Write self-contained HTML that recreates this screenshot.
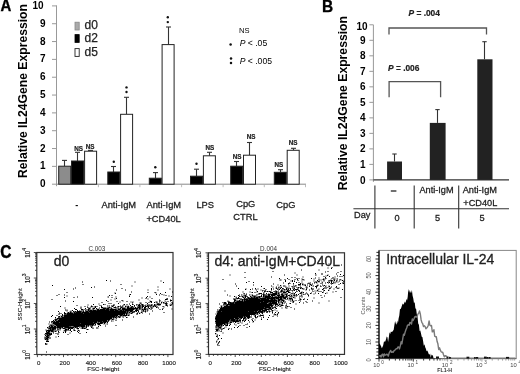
<!DOCTYPE html>
<html><head><meta charset="utf-8"><style>
html,body{margin:0;padding:0;background:#fff;width:520px;height:374px;overflow:hidden}
svg{display:block;will-change:transform}
text{font-family:'Liberation Sans',sans-serif}
.h{fill:#222;stroke:#222;stroke-width:0.28px}
</style></head><body>
<svg width="520" height="374" viewBox="0 0 520 374">
<rect width="520" height="374" fill="#fff"/>

<text transform="translate(0.4,10.8) scale(1,1.1)" font-size="15" font-weight="bold" stroke="#000" stroke-width="0.3">A</text>
<text transform="translate(26.6,178) rotate(-90)" font-size="13" font-weight="bold" textLength="174" lengthAdjust="spacingAndGlyphs">Relative IL24Gene Expression</text>
<line x1="56.5" y1="5.400000000000006" x2="56.5" y2="186.2" stroke="#999" stroke-width="1"/>
<line x1="52.0" y1="184.20" x2="56.5" y2="184.20" stroke="#999" stroke-width="1"/>
<text x="45.6" y="187.30" font-size="10" font-weight="bold" text-anchor="end">0</text>
<line x1="52.0" y1="166.37" x2="56.5" y2="166.37" stroke="#999" stroke-width="1"/>
<text x="45.6" y="169.47" font-size="10" font-weight="bold" text-anchor="end">1</text>
<line x1="52.0" y1="148.54" x2="56.5" y2="148.54" stroke="#999" stroke-width="1"/>
<text x="45.6" y="151.64" font-size="10" font-weight="bold" text-anchor="end">2</text>
<line x1="52.0" y1="130.71" x2="56.5" y2="130.71" stroke="#999" stroke-width="1"/>
<text x="45.6" y="133.81" font-size="10" font-weight="bold" text-anchor="end">3</text>
<line x1="52.0" y1="112.88" x2="56.5" y2="112.88" stroke="#999" stroke-width="1"/>
<text x="45.6" y="115.98" font-size="10" font-weight="bold" text-anchor="end">4</text>
<line x1="52.0" y1="95.05" x2="56.5" y2="95.05" stroke="#999" stroke-width="1"/>
<text x="45.6" y="98.15" font-size="10" font-weight="bold" text-anchor="end">5</text>
<line x1="52.0" y1="77.22" x2="56.5" y2="77.22" stroke="#999" stroke-width="1"/>
<text x="45.6" y="80.32" font-size="10" font-weight="bold" text-anchor="end">6</text>
<line x1="52.0" y1="59.39" x2="56.5" y2="59.39" stroke="#999" stroke-width="1"/>
<text x="45.6" y="62.49" font-size="10" font-weight="bold" text-anchor="end">7</text>
<line x1="52.0" y1="41.56" x2="56.5" y2="41.56" stroke="#999" stroke-width="1"/>
<text x="45.6" y="44.66" font-size="10" font-weight="bold" text-anchor="end">8</text>
<line x1="52.0" y1="23.73" x2="56.5" y2="23.73" stroke="#999" stroke-width="1"/>
<text x="45.6" y="26.83" font-size="10" font-weight="bold" text-anchor="end">9</text>
<line x1="52.0" y1="5.90" x2="56.5" y2="5.90" stroke="#999" stroke-width="1"/>
<text x="43.6" y="9.00" font-size="10" font-weight="bold" text-anchor="end">10</text>
<line x1="56.5" y1="184.2" x2="306" y2="184.2" stroke="#888" stroke-width="1"/>
<line x1="98.4" y1="184.2" x2="98.4" y2="187.2" stroke="#aaa" stroke-width="0.8"/>
<line x1="139.9" y1="184.2" x2="139.9" y2="187.2" stroke="#aaa" stroke-width="0.8"/>
<line x1="181.6" y1="184.2" x2="181.6" y2="187.2" stroke="#aaa" stroke-width="0.8"/>
<line x1="223.1" y1="184.2" x2="223.1" y2="187.2" stroke="#aaa" stroke-width="0.8"/>
<line x1="264.3" y1="184.2" x2="264.3" y2="187.2" stroke="#aaa" stroke-width="0.8"/>
<line x1="305.5" y1="184.2" x2="305.5" y2="187.2" stroke="#aaa" stroke-width="0.8"/>
<line x1="64.50" y1="160.4" x2="64.50" y2="166.2" stroke="#333" stroke-width="1.1"/>
<line x1="62.00" y1="160.4" x2="67.00" y2="160.4" stroke="#333" stroke-width="1.1"/>
<rect x="58.70" y="166.20" width="12" height="18.00" fill="#8c8c8c" stroke="#222" stroke-width="1"/>
<line x1="77.50" y1="152.3" x2="77.50" y2="161.0" stroke="#333" stroke-width="1.1"/>
<line x1="75.00" y1="152.3" x2="80.00" y2="152.3" stroke="#333" stroke-width="1.1"/>
<rect x="71.50" y="161.00" width="12" height="23.20" fill="#000" stroke="#222" stroke-width="1"/>
<line x1="90.50" y1="150.4" x2="90.50" y2="151.2" stroke="#333" stroke-width="1.1"/>
<line x1="88.00" y1="150.4" x2="93.00" y2="150.4" stroke="#333" stroke-width="1.1"/>
<rect x="84.60" y="151.20" width="12" height="33.00" fill="#fff" stroke="#222" stroke-width="1"/>
<line x1="113.50" y1="166.5" x2="113.50" y2="172.0" stroke="#333" stroke-width="1.1"/>
<line x1="111.00" y1="166.5" x2="116.00" y2="166.5" stroke="#333" stroke-width="1.1"/>
<rect x="107.80" y="172.00" width="12" height="12.20" fill="#000" stroke="#222" stroke-width="1"/>
<line x1="126.50" y1="97.3" x2="126.50" y2="114.3" stroke="#333" stroke-width="1.1"/>
<line x1="124.00" y1="97.3" x2="129.00" y2="97.3" stroke="#333" stroke-width="1.1"/>
<rect x="120.60" y="114.30" width="12" height="69.90" fill="#fff" stroke="#222" stroke-width="1"/>
<line x1="155.50" y1="172.6" x2="155.50" y2="178.2" stroke="#333" stroke-width="1.1"/>
<line x1="153.00" y1="172.6" x2="158.00" y2="172.6" stroke="#333" stroke-width="1.1"/>
<rect x="149.30" y="178.20" width="12" height="6.00" fill="#000" stroke="#222" stroke-width="1"/>
<line x1="168.50" y1="27.0" x2="168.50" y2="44.6" stroke="#333" stroke-width="1.1"/>
<line x1="166.00" y1="27.0" x2="171.00" y2="27.0" stroke="#333" stroke-width="1.1"/>
<rect x="162.10" y="44.60" width="12" height="139.60" fill="#fff" stroke="#222" stroke-width="1"/>
<line x1="196.50" y1="169.2" x2="196.50" y2="176.2" stroke="#333" stroke-width="1.1"/>
<line x1="194.00" y1="169.2" x2="199.00" y2="169.2" stroke="#333" stroke-width="1.1"/>
<rect x="190.50" y="176.20" width="12" height="8.00" fill="#000" stroke="#222" stroke-width="1"/>
<line x1="209.50" y1="152.3" x2="209.50" y2="155.8" stroke="#333" stroke-width="1.1"/>
<line x1="207.00" y1="152.3" x2="212.00" y2="152.3" stroke="#333" stroke-width="1.1"/>
<rect x="203.40" y="155.80" width="12" height="28.40" fill="#fff" stroke="#222" stroke-width="1"/>
<line x1="236.50" y1="161.5" x2="236.50" y2="166.2" stroke="#333" stroke-width="1.1"/>
<line x1="234.00" y1="161.5" x2="239.00" y2="161.5" stroke="#333" stroke-width="1.1"/>
<rect x="230.70" y="166.20" width="12" height="18.00" fill="#000" stroke="#222" stroke-width="1"/>
<line x1="249.50" y1="142.5" x2="249.50" y2="155.2" stroke="#333" stroke-width="1.1"/>
<line x1="247.00" y1="142.5" x2="252.00" y2="142.5" stroke="#333" stroke-width="1.1"/>
<rect x="243.50" y="155.20" width="12" height="29.00" fill="#fff" stroke="#222" stroke-width="1"/>
<line x1="280.50" y1="169.7" x2="280.50" y2="172.3" stroke="#333" stroke-width="1.1"/>
<line x1="278.00" y1="169.7" x2="283.00" y2="169.7" stroke="#333" stroke-width="1.1"/>
<rect x="274.30" y="172.30" width="12" height="11.90" fill="#000" stroke="#222" stroke-width="1"/>
<line x1="293.50" y1="148.3" x2="293.50" y2="150.3" stroke="#333" stroke-width="1.1"/>
<line x1="291.00" y1="148.3" x2="296.00" y2="148.3" stroke="#333" stroke-width="1.1"/>
<rect x="287.20" y="150.30" width="12" height="33.90" fill="#fff" stroke="#222" stroke-width="1"/>
<text class="h" style="stroke-width:0.2px" x="78.65" y="150.50" font-size="6.3" font-weight="bold" text-anchor="middle">NS</text>
<text class="h" style="stroke-width:0.2px" x="90.15" y="148.80" font-size="6.3" font-weight="bold" text-anchor="middle">NS</text>
<circle cx="113.8" cy="161.8" r="1.2" fill="#111"/>
<circle cx="126.5" cy="87.4" r="1.2" fill="#111"/>
<circle cx="126.5" cy="92.0" r="1.2" fill="#111"/>
<circle cx="155.3" cy="167.2" r="1.2" fill="#111"/>
<circle cx="167.8" cy="17.3" r="1.2" fill="#111"/>
<circle cx="167.8" cy="22.1" r="1.2" fill="#111"/>
<circle cx="196.5" cy="163.8" r="1.2" fill="#111"/>
<text class="h" style="stroke-width:0.2px" x="209.75" y="149.50" font-size="6.3" font-weight="bold" text-anchor="middle">NS</text>
<text class="h" style="stroke-width:0.2px" x="237.00" y="158.80" font-size="6.3" font-weight="bold" text-anchor="middle">NS</text>
<text class="h" style="stroke-width:0.2px" x="251.15" y="139.00" font-size="6.3" font-weight="bold" text-anchor="middle">NS</text>
<text class="h" style="stroke-width:0.2px" x="278.90" y="166.50" font-size="6.3" font-weight="bold" text-anchor="middle">NS</text>
<text class="h" style="stroke-width:0.2px" x="293.20" y="145.30" font-size="6.3" font-weight="bold" text-anchor="middle">NS</text>
<rect x="75" y="22.2" width="4.2" height="7.8" fill="#aaa" stroke="#888" stroke-width="0.8"/>
<rect x="75" y="34.6" width="4.2" height="7.8" fill="#000" stroke="#000" stroke-width="0.8"/>
<rect x="75" y="48.6" width="4.2" height="7.8" fill="#fff" stroke="#222" stroke-width="0.9"/>
<text class="h" style="stroke-width:0.25px" x="84.5" y="28.5" font-size="12">d0</text>
<text class="h" style="stroke-width:0.25px" x="84.5" y="41.5" font-size="12">d2</text>
<text class="h" style="stroke-width:0.25px" x="84.5" y="55.7" font-size="12">d5</text>
<text x="239" y="33" font-size="7.6">NS</text>
<circle cx="230.6" cy="44.5" r="1.25" fill="#111"/>
<text x="239.7" y="46.3" font-size="8.6"><tspan font-style="italic">P</tspan> &lt; .05</text>
<circle cx="231" cy="58.5" r="1.25" fill="#111"/>
<circle cx="231" cy="63" r="1.25" fill="#111"/>
<text x="239.7" y="63.8" font-size="8.6"><tspan font-style="italic">P</tspan> &lt; .005</text>
<text x="76.8" y="208.4" font-size="9" text-anchor="middle" font-weight="bold">-</text>
<text class="h" x="118.8" y="207.8" font-size="9.3" text-anchor="middle">Anti-IgM</text>
<text class="h" x="163.8" y="208.2" font-size="9.3" text-anchor="middle">Anti-IgM</text>
<text class="h" x="163.6" y="222" font-size="9.3" text-anchor="middle">+CD40L</text>
<text class="h" x="205.2" y="208.2" font-size="9.3" text-anchor="middle">LPS</text>
<text class="h" x="245.8" y="207" font-size="9.3" text-anchor="middle">CpG</text>
<text class="h" x="245.5" y="220.3" font-size="9.3" text-anchor="middle">CTRL</text>
<text class="h" x="285.9" y="208.2" font-size="9.3" text-anchor="middle">CpG</text>
<text transform="translate(321.9,11.9) scale(1,1.12)" font-size="15.5" font-weight="bold" stroke="#000" stroke-width="0.3">B</text>
<text transform="translate(346.5,190.2) rotate(-90)" font-size="13" font-weight="bold" textLength="174.2" lengthAdjust="spacingAndGlyphs">Relative IL24Gene Expression</text>
<line x1="373.4" y1="24.80000000000001" x2="373.4" y2="181.9" stroke="#999" stroke-width="1"/>
<line x1="369.4" y1="179.90" x2="373.4" y2="179.90" stroke="#999" stroke-width="1"/>
<text x="365.6" y="183.50" font-size="10" font-weight="bold" text-anchor="end">0</text>
<line x1="369.4" y1="164.39" x2="373.4" y2="164.39" stroke="#999" stroke-width="1"/>
<text x="365.6" y="167.99" font-size="10" font-weight="bold" text-anchor="end">1</text>
<line x1="369.4" y1="148.88" x2="373.4" y2="148.88" stroke="#999" stroke-width="1"/>
<text x="365.6" y="152.48" font-size="10" font-weight="bold" text-anchor="end">2</text>
<line x1="369.4" y1="133.37" x2="373.4" y2="133.37" stroke="#999" stroke-width="1"/>
<text x="365.6" y="136.97" font-size="10" font-weight="bold" text-anchor="end">3</text>
<line x1="369.4" y1="117.86" x2="373.4" y2="117.86" stroke="#999" stroke-width="1"/>
<text x="365.6" y="121.46" font-size="10" font-weight="bold" text-anchor="end">4</text>
<line x1="369.4" y1="102.35" x2="373.4" y2="102.35" stroke="#999" stroke-width="1"/>
<text x="365.6" y="105.95" font-size="10" font-weight="bold" text-anchor="end">5</text>
<line x1="369.4" y1="86.84" x2="373.4" y2="86.84" stroke="#999" stroke-width="1"/>
<text x="365.6" y="90.44" font-size="10" font-weight="bold" text-anchor="end">6</text>
<line x1="369.4" y1="71.33" x2="373.4" y2="71.33" stroke="#999" stroke-width="1"/>
<text x="365.6" y="74.93" font-size="10" font-weight="bold" text-anchor="end">7</text>
<line x1="369.4" y1="55.82" x2="373.4" y2="55.82" stroke="#999" stroke-width="1"/>
<text x="365.6" y="59.42" font-size="10" font-weight="bold" text-anchor="end">8</text>
<line x1="369.4" y1="40.31" x2="373.4" y2="40.31" stroke="#999" stroke-width="1"/>
<text x="365.6" y="43.91" font-size="10" font-weight="bold" text-anchor="end">9</text>
<line x1="369.4" y1="24.80" x2="373.4" y2="24.80" stroke="#999" stroke-width="1"/>
<text x="367.6" y="30.20" font-size="10" font-weight="bold" text-anchor="end">10</text>
<line x1="373.4" y1="179.9" x2="509" y2="179.9" stroke="#333" stroke-width="1.1"/>
<line x1="394.50" y1="154" x2="394.50" y2="161.5" stroke="#333" stroke-width="1.1"/>
<line x1="392.30" y1="154" x2="396.70" y2="154" stroke="#333" stroke-width="1.1"/>
<rect x="387.1" y="161.5" width="14.90" height="18.40" fill="#222"/>
<line x1="437.50" y1="109.6" x2="437.50" y2="122.9" stroke="#333" stroke-width="1.1"/>
<line x1="435.30" y1="109.6" x2="439.70" y2="109.6" stroke="#333" stroke-width="1.1"/>
<rect x="429.8" y="122.9" width="15.80" height="57.00" fill="#222"/>
<line x1="484.50" y1="41.7" x2="484.50" y2="59.3" stroke="#333" stroke-width="1.1"/>
<line x1="482.30" y1="41.7" x2="486.70" y2="41.7" stroke="#333" stroke-width="1.1"/>
<rect x="477.3" y="59.3" width="15.20" height="120.60" fill="#222"/>
<path d="M389,34.5 V28 H486.5 V34.5" fill="none" stroke="#555" stroke-width="1.3"/>
<path d="M389.1,97.3 V81.7 H440.6 V97.3" fill="none" stroke="#555" stroke-width="1.3"/>
<text class="h" style="stroke-width:0.2px" x="408.5" y="16" font-size="8.4" font-weight="bold"><tspan font-style="italic">P</tspan> = .004</text>
<text class="h" style="stroke-width:0.2px" x="388" y="70.5" font-size="8.4" font-weight="bold"><tspan font-style="italic">P</tspan> = .006</text>
<line x1="374.9" y1="185.5" x2="374.9" y2="228.6" stroke="#333" stroke-width="1.1"/>
<line x1="414.2" y1="185.5" x2="414.2" y2="228.6" stroke="#333" stroke-width="1.1"/>
<line x1="458.7" y1="185.5" x2="458.7" y2="228.6" stroke="#333" stroke-width="1.1"/>
<line x1="353.4" y1="208.7" x2="509" y2="208.7" stroke="#333" stroke-width="1.1"/>
<line x1="390.8" y1="191" x2="396.4" y2="191" stroke="#333" stroke-width="1.4"/>
<text class="h" x="354" y="218.3" font-size="9.2">Day</text>
<text class="h" x="397.1" y="220.9" font-size="9.2" text-anchor="middle">0</text>
<text class="h" x="437.5" y="221.3" font-size="9.2" text-anchor="middle">5</text>
<text class="h" x="482.1" y="221.3" font-size="9.2" text-anchor="middle">5</text>
<text class="h" x="436.5" y="193.3" font-size="9.2" text-anchor="middle">Anti-IgM</text>
<text class="h" x="479.8" y="193.3" font-size="9.2" text-anchor="middle">Anti-IgM</text>
<text class="h" x="480.3" y="206" font-size="9.2" text-anchor="middle">+CD40L</text>
<text transform="translate(0.2,258) scale(1,1.2)" font-size="15.5" font-weight="bold" stroke="#000" stroke-width="0.4">C</text>
<rect x="36.8" y="252.5" width="136.2" height="102.0" fill="none" stroke="#333" stroke-width="1.2"/>
<text x="96.9" y="250.8" font-size="6.3" text-anchor="middle" fill="#333">C.003</text>
<text class="h" style="stroke-width:0.3px" x="53.8" y="266" font-size="14">d0</text>
<line x1="33.80" y1="354.50" x2="36.8" y2="354.50" stroke="#222" stroke-width="0.8"/>
<line x1="35.00" y1="346.82" x2="36.8" y2="346.82" stroke="#222" stroke-width="0.8"/>
<line x1="35.00" y1="342.33" x2="36.8" y2="342.33" stroke="#222" stroke-width="0.8"/>
<line x1="35.00" y1="339.15" x2="36.8" y2="339.15" stroke="#222" stroke-width="0.8"/>
<line x1="35.00" y1="336.68" x2="36.8" y2="336.68" stroke="#222" stroke-width="0.8"/>
<line x1="35.00" y1="334.66" x2="36.8" y2="334.66" stroke="#222" stroke-width="0.8"/>
<line x1="35.00" y1="332.95" x2="36.8" y2="332.95" stroke="#222" stroke-width="0.8"/>
<line x1="35.00" y1="331.47" x2="36.8" y2="331.47" stroke="#222" stroke-width="0.8"/>
<line x1="35.00" y1="330.17" x2="36.8" y2="330.17" stroke="#222" stroke-width="0.8"/>
<line x1="33.80" y1="329.00" x2="36.8" y2="329.00" stroke="#222" stroke-width="0.8"/>
<line x1="35.00" y1="321.32" x2="36.8" y2="321.32" stroke="#222" stroke-width="0.8"/>
<line x1="35.00" y1="316.83" x2="36.8" y2="316.83" stroke="#222" stroke-width="0.8"/>
<line x1="35.00" y1="313.65" x2="36.8" y2="313.65" stroke="#222" stroke-width="0.8"/>
<line x1="35.00" y1="311.18" x2="36.8" y2="311.18" stroke="#222" stroke-width="0.8"/>
<line x1="35.00" y1="309.16" x2="36.8" y2="309.16" stroke="#222" stroke-width="0.8"/>
<line x1="35.00" y1="307.45" x2="36.8" y2="307.45" stroke="#222" stroke-width="0.8"/>
<line x1="35.00" y1="305.97" x2="36.8" y2="305.97" stroke="#222" stroke-width="0.8"/>
<line x1="35.00" y1="304.67" x2="36.8" y2="304.67" stroke="#222" stroke-width="0.8"/>
<line x1="33.80" y1="303.50" x2="36.8" y2="303.50" stroke="#222" stroke-width="0.8"/>
<line x1="35.00" y1="295.82" x2="36.8" y2="295.82" stroke="#222" stroke-width="0.8"/>
<line x1="35.00" y1="291.33" x2="36.8" y2="291.33" stroke="#222" stroke-width="0.8"/>
<line x1="35.00" y1="288.15" x2="36.8" y2="288.15" stroke="#222" stroke-width="0.8"/>
<line x1="35.00" y1="285.68" x2="36.8" y2="285.68" stroke="#222" stroke-width="0.8"/>
<line x1="35.00" y1="283.66" x2="36.8" y2="283.66" stroke="#222" stroke-width="0.8"/>
<line x1="35.00" y1="281.95" x2="36.8" y2="281.95" stroke="#222" stroke-width="0.8"/>
<line x1="35.00" y1="280.47" x2="36.8" y2="280.47" stroke="#222" stroke-width="0.8"/>
<line x1="35.00" y1="279.17" x2="36.8" y2="279.17" stroke="#222" stroke-width="0.8"/>
<line x1="33.80" y1="278.00" x2="36.8" y2="278.00" stroke="#222" stroke-width="0.8"/>
<line x1="35.00" y1="270.32" x2="36.8" y2="270.32" stroke="#222" stroke-width="0.8"/>
<line x1="35.00" y1="265.83" x2="36.8" y2="265.83" stroke="#222" stroke-width="0.8"/>
<line x1="35.00" y1="262.65" x2="36.8" y2="262.65" stroke="#222" stroke-width="0.8"/>
<line x1="35.00" y1="260.18" x2="36.8" y2="260.18" stroke="#222" stroke-width="0.8"/>
<line x1="35.00" y1="258.16" x2="36.8" y2="258.16" stroke="#222" stroke-width="0.8"/>
<line x1="35.00" y1="256.45" x2="36.8" y2="256.45" stroke="#222" stroke-width="0.8"/>
<line x1="35.00" y1="254.97" x2="36.8" y2="254.97" stroke="#222" stroke-width="0.8"/>
<line x1="35.00" y1="253.67" x2="36.8" y2="253.67" stroke="#222" stroke-width="0.8"/>
<line x1="33.8" y1="252.5" x2="36.8" y2="252.5" stroke="#222" stroke-width="0.8"/>
<text class="h" style="stroke-width:0.15px" transform="translate(29.6,359.7) rotate(-90)" font-size="6.3" fill="#222">10<tspan dy="-3.3" font-size="5">0</tspan></text>
<text class="h" style="stroke-width:0.15px" transform="translate(29.6,334.2) rotate(-90)" font-size="6.3" fill="#222">10<tspan dy="-3.3" font-size="5">1</tspan></text>
<text class="h" style="stroke-width:0.15px" transform="translate(29.6,308.7) rotate(-90)" font-size="6.3" fill="#222">10<tspan dy="-3.3" font-size="5">2</tspan></text>
<text class="h" style="stroke-width:0.15px" transform="translate(29.6,283.2) rotate(-90)" font-size="6.3" fill="#222">10<tspan dy="-3.3" font-size="5">3</tspan></text>
<text class="h" style="stroke-width:0.15px" transform="translate(29.6,257.7) rotate(-90)" font-size="6.3" fill="#222">10<tspan dy="-3.3" font-size="5">4</tspan></text>
<text class="h" style="stroke-width:0.12px" transform="translate(22.2,320.5) rotate(-90)" font-size="6.1" fill="#222">SSC-Height</text>
<line x1="37.40" y1="354.5" x2="37.40" y2="357.1" stroke="#222" stroke-width="0.8"/>
<line x1="41.75" y1="354.5" x2="41.75" y2="356.0" stroke="#222" stroke-width="0.8"/>
<line x1="46.10" y1="354.5" x2="46.10" y2="356.0" stroke="#222" stroke-width="0.8"/>
<line x1="50.45" y1="354.5" x2="50.45" y2="356.0" stroke="#222" stroke-width="0.8"/>
<line x1="54.80" y1="354.5" x2="54.80" y2="356.0" stroke="#222" stroke-width="0.8"/>
<line x1="59.15" y1="354.5" x2="59.15" y2="356.0" stroke="#222" stroke-width="0.8"/>
<line x1="63.50" y1="354.5" x2="63.50" y2="357.1" stroke="#222" stroke-width="0.8"/>
<line x1="67.85" y1="354.5" x2="67.85" y2="356.0" stroke="#222" stroke-width="0.8"/>
<line x1="72.20" y1="354.5" x2="72.20" y2="356.0" stroke="#222" stroke-width="0.8"/>
<line x1="76.55" y1="354.5" x2="76.55" y2="356.0" stroke="#222" stroke-width="0.8"/>
<line x1="80.90" y1="354.5" x2="80.90" y2="356.0" stroke="#222" stroke-width="0.8"/>
<line x1="85.25" y1="354.5" x2="85.25" y2="356.0" stroke="#222" stroke-width="0.8"/>
<line x1="89.60" y1="354.5" x2="89.60" y2="357.1" stroke="#222" stroke-width="0.8"/>
<line x1="93.95" y1="354.5" x2="93.95" y2="356.0" stroke="#222" stroke-width="0.8"/>
<line x1="98.30" y1="354.5" x2="98.30" y2="356.0" stroke="#222" stroke-width="0.8"/>
<line x1="102.65" y1="354.5" x2="102.65" y2="356.0" stroke="#222" stroke-width="0.8"/>
<line x1="107.00" y1="354.5" x2="107.00" y2="356.0" stroke="#222" stroke-width="0.8"/>
<line x1="111.35" y1="354.5" x2="111.35" y2="356.0" stroke="#222" stroke-width="0.8"/>
<line x1="115.70" y1="354.5" x2="115.70" y2="357.1" stroke="#222" stroke-width="0.8"/>
<line x1="120.05" y1="354.5" x2="120.05" y2="356.0" stroke="#222" stroke-width="0.8"/>
<line x1="124.40" y1="354.5" x2="124.40" y2="356.0" stroke="#222" stroke-width="0.8"/>
<line x1="128.75" y1="354.5" x2="128.75" y2="356.0" stroke="#222" stroke-width="0.8"/>
<line x1="133.10" y1="354.5" x2="133.10" y2="356.0" stroke="#222" stroke-width="0.8"/>
<line x1="137.45" y1="354.5" x2="137.45" y2="356.0" stroke="#222" stroke-width="0.8"/>
<line x1="141.80" y1="354.5" x2="141.80" y2="357.1" stroke="#222" stroke-width="0.8"/>
<line x1="146.15" y1="354.5" x2="146.15" y2="356.0" stroke="#222" stroke-width="0.8"/>
<line x1="150.50" y1="354.5" x2="150.50" y2="356.0" stroke="#222" stroke-width="0.8"/>
<line x1="154.85" y1="354.5" x2="154.85" y2="356.0" stroke="#222" stroke-width="0.8"/>
<line x1="159.20" y1="354.5" x2="159.20" y2="356.0" stroke="#222" stroke-width="0.8"/>
<line x1="163.55" y1="354.5" x2="163.55" y2="356.0" stroke="#222" stroke-width="0.8"/>
<line x1="167.90" y1="354.5" x2="167.90" y2="357.1" stroke="#222" stroke-width="0.8"/>
<text class="h" style="stroke-width:0.15px" x="38.6" y="364.8" font-size="6.1" text-anchor="middle" fill="#222">0</text>
<text class="h" style="stroke-width:0.15px" x="64.7" y="364.8" font-size="6.1" text-anchor="middle" fill="#222">200</text>
<text class="h" style="stroke-width:0.15px" x="90.8" y="364.8" font-size="6.1" text-anchor="middle" fill="#222">400</text>
<text class="h" style="stroke-width:0.15px" x="116.9" y="364.8" font-size="6.1" text-anchor="middle" fill="#222">600</text>
<text class="h" style="stroke-width:0.15px" x="143.0" y="364.8" font-size="6.1" text-anchor="middle" fill="#222">800</text>
<text class="h" style="stroke-width:0.15px" x="169.1" y="364.8" font-size="6.1" text-anchor="middle" fill="#222">1000</text>
<text class="h" style="stroke-width:0.15px" x="103.2" y="370.7" font-size="6.1" text-anchor="middle" fill="#222">FSC-Height</text>
<rect x="208.5" y="252.8" width="136.0" height="101.59999999999997" fill="none" stroke="#333" stroke-width="1.2"/>
<text x="268.5" y="250.8" font-size="6.3" text-anchor="middle" fill="#333">D.004</text>
<text class="h" style="stroke-width:0.3px" x="214.4" y="266" font-size="14">d4: anti-IgM+CD40L</text>
<line x1="205.50" y1="354.40" x2="208.5" y2="354.40" stroke="#222" stroke-width="0.8"/>
<line x1="206.70" y1="346.75" x2="208.5" y2="346.75" stroke="#222" stroke-width="0.8"/>
<line x1="206.70" y1="342.28" x2="208.5" y2="342.28" stroke="#222" stroke-width="0.8"/>
<line x1="206.70" y1="339.11" x2="208.5" y2="339.11" stroke="#222" stroke-width="0.8"/>
<line x1="206.70" y1="336.65" x2="208.5" y2="336.65" stroke="#222" stroke-width="0.8"/>
<line x1="206.70" y1="334.63" x2="208.5" y2="334.63" stroke="#222" stroke-width="0.8"/>
<line x1="206.70" y1="332.93" x2="208.5" y2="332.93" stroke="#222" stroke-width="0.8"/>
<line x1="206.70" y1="331.46" x2="208.5" y2="331.46" stroke="#222" stroke-width="0.8"/>
<line x1="206.70" y1="330.16" x2="208.5" y2="330.16" stroke="#222" stroke-width="0.8"/>
<line x1="205.50" y1="329.00" x2="208.5" y2="329.00" stroke="#222" stroke-width="0.8"/>
<line x1="206.70" y1="321.35" x2="208.5" y2="321.35" stroke="#222" stroke-width="0.8"/>
<line x1="206.70" y1="316.88" x2="208.5" y2="316.88" stroke="#222" stroke-width="0.8"/>
<line x1="206.70" y1="313.71" x2="208.5" y2="313.71" stroke="#222" stroke-width="0.8"/>
<line x1="206.70" y1="311.25" x2="208.5" y2="311.25" stroke="#222" stroke-width="0.8"/>
<line x1="206.70" y1="309.23" x2="208.5" y2="309.23" stroke="#222" stroke-width="0.8"/>
<line x1="206.70" y1="307.53" x2="208.5" y2="307.53" stroke="#222" stroke-width="0.8"/>
<line x1="206.70" y1="306.06" x2="208.5" y2="306.06" stroke="#222" stroke-width="0.8"/>
<line x1="206.70" y1="304.76" x2="208.5" y2="304.76" stroke="#222" stroke-width="0.8"/>
<line x1="205.50" y1="303.60" x2="208.5" y2="303.60" stroke="#222" stroke-width="0.8"/>
<line x1="206.70" y1="295.95" x2="208.5" y2="295.95" stroke="#222" stroke-width="0.8"/>
<line x1="206.70" y1="291.48" x2="208.5" y2="291.48" stroke="#222" stroke-width="0.8"/>
<line x1="206.70" y1="288.31" x2="208.5" y2="288.31" stroke="#222" stroke-width="0.8"/>
<line x1="206.70" y1="285.85" x2="208.5" y2="285.85" stroke="#222" stroke-width="0.8"/>
<line x1="206.70" y1="283.83" x2="208.5" y2="283.83" stroke="#222" stroke-width="0.8"/>
<line x1="206.70" y1="282.13" x2="208.5" y2="282.13" stroke="#222" stroke-width="0.8"/>
<line x1="206.70" y1="280.66" x2="208.5" y2="280.66" stroke="#222" stroke-width="0.8"/>
<line x1="206.70" y1="279.36" x2="208.5" y2="279.36" stroke="#222" stroke-width="0.8"/>
<line x1="205.50" y1="278.20" x2="208.5" y2="278.20" stroke="#222" stroke-width="0.8"/>
<line x1="206.70" y1="270.55" x2="208.5" y2="270.55" stroke="#222" stroke-width="0.8"/>
<line x1="206.70" y1="266.08" x2="208.5" y2="266.08" stroke="#222" stroke-width="0.8"/>
<line x1="206.70" y1="262.91" x2="208.5" y2="262.91" stroke="#222" stroke-width="0.8"/>
<line x1="206.70" y1="260.45" x2="208.5" y2="260.45" stroke="#222" stroke-width="0.8"/>
<line x1="206.70" y1="258.43" x2="208.5" y2="258.43" stroke="#222" stroke-width="0.8"/>
<line x1="206.70" y1="256.73" x2="208.5" y2="256.73" stroke="#222" stroke-width="0.8"/>
<line x1="206.70" y1="255.26" x2="208.5" y2="255.26" stroke="#222" stroke-width="0.8"/>
<line x1="206.70" y1="253.96" x2="208.5" y2="253.96" stroke="#222" stroke-width="0.8"/>
<line x1="205.5" y1="252.8" x2="208.5" y2="252.8" stroke="#222" stroke-width="0.8"/>
<text class="h" style="stroke-width:0.15px" transform="translate(201.3,359.6) rotate(-90)" font-size="6.3" fill="#222">10<tspan dy="-3.3" font-size="5">0</tspan></text>
<text class="h" style="stroke-width:0.15px" transform="translate(201.3,334.2) rotate(-90)" font-size="6.3" fill="#222">10<tspan dy="-3.3" font-size="5">1</tspan></text>
<text class="h" style="stroke-width:0.15px" transform="translate(201.3,308.8) rotate(-90)" font-size="6.3" fill="#222">10<tspan dy="-3.3" font-size="5">2</tspan></text>
<text class="h" style="stroke-width:0.15px" transform="translate(201.3,283.4) rotate(-90)" font-size="6.3" fill="#222">10<tspan dy="-3.3" font-size="5">3</tspan></text>
<text class="h" style="stroke-width:0.15px" transform="translate(201.3,258.0) rotate(-90)" font-size="6.3" fill="#222">10<tspan dy="-3.3" font-size="5">4</tspan></text>
<text class="h" style="stroke-width:0.12px" transform="translate(193.9,320.4) rotate(-90)" font-size="6.1" fill="#222">SSC-Height</text>
<line x1="209.10" y1="354.4" x2="209.10" y2="357.0" stroke="#222" stroke-width="0.8"/>
<line x1="213.45" y1="354.4" x2="213.45" y2="355.9" stroke="#222" stroke-width="0.8"/>
<line x1="217.80" y1="354.4" x2="217.80" y2="355.9" stroke="#222" stroke-width="0.8"/>
<line x1="222.15" y1="354.4" x2="222.15" y2="355.9" stroke="#222" stroke-width="0.8"/>
<line x1="226.50" y1="354.4" x2="226.50" y2="355.9" stroke="#222" stroke-width="0.8"/>
<line x1="230.85" y1="354.4" x2="230.85" y2="355.9" stroke="#222" stroke-width="0.8"/>
<line x1="235.20" y1="354.4" x2="235.20" y2="357.0" stroke="#222" stroke-width="0.8"/>
<line x1="239.55" y1="354.4" x2="239.55" y2="355.9" stroke="#222" stroke-width="0.8"/>
<line x1="243.90" y1="354.4" x2="243.90" y2="355.9" stroke="#222" stroke-width="0.8"/>
<line x1="248.25" y1="354.4" x2="248.25" y2="355.9" stroke="#222" stroke-width="0.8"/>
<line x1="252.60" y1="354.4" x2="252.60" y2="355.9" stroke="#222" stroke-width="0.8"/>
<line x1="256.95" y1="354.4" x2="256.95" y2="355.9" stroke="#222" stroke-width="0.8"/>
<line x1="261.30" y1="354.4" x2="261.30" y2="357.0" stroke="#222" stroke-width="0.8"/>
<line x1="265.65" y1="354.4" x2="265.65" y2="355.9" stroke="#222" stroke-width="0.8"/>
<line x1="270.00" y1="354.4" x2="270.00" y2="355.9" stroke="#222" stroke-width="0.8"/>
<line x1="274.35" y1="354.4" x2="274.35" y2="355.9" stroke="#222" stroke-width="0.8"/>
<line x1="278.70" y1="354.4" x2="278.70" y2="355.9" stroke="#222" stroke-width="0.8"/>
<line x1="283.05" y1="354.4" x2="283.05" y2="355.9" stroke="#222" stroke-width="0.8"/>
<line x1="287.40" y1="354.4" x2="287.40" y2="357.0" stroke="#222" stroke-width="0.8"/>
<line x1="291.75" y1="354.4" x2="291.75" y2="355.9" stroke="#222" stroke-width="0.8"/>
<line x1="296.10" y1="354.4" x2="296.10" y2="355.9" stroke="#222" stroke-width="0.8"/>
<line x1="300.45" y1="354.4" x2="300.45" y2="355.9" stroke="#222" stroke-width="0.8"/>
<line x1="304.80" y1="354.4" x2="304.80" y2="355.9" stroke="#222" stroke-width="0.8"/>
<line x1="309.15" y1="354.4" x2="309.15" y2="355.9" stroke="#222" stroke-width="0.8"/>
<line x1="313.50" y1="354.4" x2="313.50" y2="357.0" stroke="#222" stroke-width="0.8"/>
<line x1="317.85" y1="354.4" x2="317.85" y2="355.9" stroke="#222" stroke-width="0.8"/>
<line x1="322.20" y1="354.4" x2="322.20" y2="355.9" stroke="#222" stroke-width="0.8"/>
<line x1="326.55" y1="354.4" x2="326.55" y2="355.9" stroke="#222" stroke-width="0.8"/>
<line x1="330.90" y1="354.4" x2="330.90" y2="355.9" stroke="#222" stroke-width="0.8"/>
<line x1="335.25" y1="354.4" x2="335.25" y2="355.9" stroke="#222" stroke-width="0.8"/>
<line x1="339.60" y1="354.4" x2="339.60" y2="357.0" stroke="#222" stroke-width="0.8"/>
<text class="h" style="stroke-width:0.15px" x="210.3" y="364.7" font-size="6.1" text-anchor="middle" fill="#222">0</text>
<text class="h" style="stroke-width:0.15px" x="236.4" y="364.7" font-size="6.1" text-anchor="middle" fill="#222">200</text>
<text class="h" style="stroke-width:0.15px" x="262.5" y="364.7" font-size="6.1" text-anchor="middle" fill="#222">400</text>
<text class="h" style="stroke-width:0.15px" x="288.6" y="364.7" font-size="6.1" text-anchor="middle" fill="#222">600</text>
<text class="h" style="stroke-width:0.15px" x="314.7" y="364.7" font-size="6.1" text-anchor="middle" fill="#222">800</text>
<text class="h" style="stroke-width:0.15px" x="340.8" y="364.7" font-size="6.1" text-anchor="middle" fill="#222">1000</text>
<text class="h" style="stroke-width:0.15px" x="274.8" y="370.6" font-size="6.1" text-anchor="middle" fill="#222">FSC-Height</text>
<path d="M87.5 312h1v1h-1zM126 313h1v1h-1zM68.5 319.5h1v1h-1zM125 306h1v1h-1zM77.5 320.5h1v1h-1zM83 319.5h1v1h-1zM105.5 314.5h1v1h-1zM82.5 316.5h1v1h-1zM89.5 315.5h1v1h-1zM55 323h1v1h-1zM100.5 323h1v1h-1zM88.5 315.5h1v1h-1zM78.5 316.5h1v1h-1zM102.5 318.5h1v1h-1zM77 323.5h1v1h-1zM84.5 320h1v1h-1zM68 319h1v1h-1zM82 318h1v1h-1zM72 318h1v1h-1zM75 317h1v1h-1zM100 318h1v1h-1zM76 322.5h1v1h-1zM86 317h1v1h-1zM145 309h1v1h-1zM131 310.5h1v1h-1zM98.5 315h1v1h-1zM89 321h1v1h-1zM75.5 322.5h1v1h-1zM69.5 317.5h1v1h-1zM136 310h1v1h-1zM87.5 318.5h1v1h-1zM67 323.5h1v1h-1zM93 309.5h1v1h-1zM102 312h1v1h-1zM92.5 315h1v1h-1zM116 314.5h1v1h-1zM58 326h1v1h-1zM88 313.5h1v1h-1zM85 322.5h1v1h-1zM62 323.5h1v1h-1zM94 316h1v1h-1zM107.5 321h1v1h-1zM91.5 311h1v1h-1zM106.5 312.5h1v1h-1zM87.5 319h1v1h-1zM87.5 313h1v1h-1zM100.5 312h1v1h-1zM68.5 321h1v1h-1zM105 310.5h1v1h-1zM96.5 315h1v1h-1zM102.5 318h1v1h-1zM71 312.5h1v1h-1zM103.5 311.5h1v1h-1zM71 321.5h1v1h-1zM64.5 325h1v1h-1zM108 317h1v1h-1zM108.5 311.5h1v1h-1zM110 317h1v1h-1zM85.5 320.5h1v1h-1zM75.5 317.5h1v1h-1zM48 331h1v1h-1zM94.5 317h1v1h-1zM98.5 313.5h1v1h-1zM106 317h1v1h-1zM76 318.5h1v1h-1zM72.5 322h1v1h-1zM94 318h1v1h-1zM104 314.5h1v1h-1zM132 309h1v1h-1zM69 324.5h1v1h-1zM86 319h1v1h-1zM112.5 312h1v1h-1zM83 320.5h1v1h-1zM91.5 315h1v1h-1zM54.5 326.5h1v1h-1zM96 319.5h1v1h-1zM116.5 316h1v1h-1zM111.5 314.5h1v1h-1zM95 318.5h1v1h-1zM74 308h1v1h-1zM101.5 310.5h1v1h-1zM72 318.5h1v1h-1zM106 313.5h1v1h-1zM62.5 326.5h1v1h-1zM105.5 319.5h1v1h-1zM69.5 320.5h1v1h-1zM81 319h1v1h-1zM78 318h1v1h-1zM97 316.5h1v1h-1zM70.5 317h1v1h-1zM82 318.5h1v1h-1zM47.5 333h1v1h-1zM75 316.5h1v1h-1zM83 317.5h1v1h-1zM66 319h1v1h-1zM93.5 316.5h1v1h-1zM81 320.5h1v1h-1zM98.5 318h1v1h-1zM94.5 319.5h1v1h-1zM83.5 316.5h1v1h-1zM109 314.5h1v1h-1zM93.5 318h1v1h-1zM104 316.5h1v1h-1zM79 320.5h1v1h-1zM89 316.5h1v1h-1zM71.5 320.5h1v1h-1zM165.5 299h1v1h-1zM74 322.5h1v1h-1zM74.5 321h1v1h-1zM63.5 321.5h1v1h-1zM74.5 322.5h1v1h-1zM101 313.5h1v1h-1zM97 315.5h1v1h-1zM67.5 326.5h1v1h-1zM81 322.5h1v1h-1zM95.5 315.5h1v1h-1zM84.5 322h1v1h-1zM91 319.5h1v1h-1zM106.5 311h1v1h-1zM99 310h1v1h-1zM80.5 319h1v1h-1zM84.5 328h1v1h-1zM80.5 321.5h1v1h-1zM66.5 313h1v1h-1zM72 316h1v1h-1zM77.5 315.5h1v1h-1zM77.5 324h1v1h-1zM90.5 317.5h1v1h-1zM137 308h1v1h-1zM101.5 317.5h1v1h-1zM103 315.5h1v1h-1zM100.5 312.5h1v1h-1zM116.5 312.5h1v1h-1zM96.5 317h1v1h-1zM87 314.5h1v1h-1zM64 328h1v1h-1zM86.5 324.5h1v1h-1zM72.5 320h1v1h-1zM68 321h1v1h-1zM87 318h1v1h-1zM102.5 316.5h1v1h-1zM76.5 320.5h1v1h-1zM101.5 308.5h1v1h-1zM88 324h1v1h-1zM68.5 322h1v1h-1zM132.5 301.5h1v1h-1zM82 314h1v1h-1zM76.5 314h1v1h-1zM107 319.5h1v1h-1zM67.5 318h1v1h-1zM99 314.5h1v1h-1zM81.5 315.5h1v1h-1zM73.5 320h1v1h-1zM81.5 319h1v1h-1zM139.5 307h1v1h-1zM93 321.5h1v1h-1zM97 310h1v1h-1zM88 320.5h1v1h-1zM77.5 322h1v1h-1zM82 321h1v1h-1zM122.5 309.5h1v1h-1zM71.5 318h1v1h-1zM154 305h1v1h-1zM100.5 314h1v1h-1zM80 321h1v1h-1zM94 313.5h1v1h-1zM81 323h1v1h-1zM81 319.5h1v1h-1zM87 313.5h1v1h-1zM52 329h1v1h-1zM86.5 321h1v1h-1zM137 307.5h1v1h-1zM76 314h1v1h-1zM100 311.5h1v1h-1zM84 316.5h1v1h-1zM72 321h1v1h-1zM114 312.5h1v1h-1zM52 326h1v1h-1zM77 312.5h1v1h-1zM170.5 300h1v1h-1zM107.5 311.5h1v1h-1zM92 315h1v1h-1zM104 321h1v1h-1zM93.5 308h1v1h-1zM80 319h1v1h-1zM101 315.5h1v1h-1zM55 320h1v1h-1zM84.5 326h1v1h-1zM80.5 317.5h1v1h-1zM85.5 314.5h1v1h-1zM67.5 319h1v1h-1zM73 320h1v1h-1zM90 317h1v1h-1zM81.5 314h1v1h-1zM103 317h1v1h-1zM92 317h1v1h-1zM108.5 317.5h1v1h-1zM99 319h1v1h-1zM76.5 316.5h1v1h-1zM102 317.5h1v1h-1zM74.5 318h1v1h-1zM63.5 318.5h1v1h-1zM131.5 307h1v1h-1zM89 316h1v1h-1zM101.5 309h1v1h-1zM88.5 315h1v1h-1zM92.5 319h1v1h-1zM57 327.5h1v1h-1zM71 317h1v1h-1zM90.5 318.5h1v1h-1zM69 318.5h1v1h-1zM126.5 313.5h1v1h-1zM69 325h1v1h-1zM87.5 321h1v1h-1zM68.5 313h1v1h-1zM98.5 311h1v1h-1zM75.5 323.5h1v1h-1zM68 320h1v1h-1zM59.5 323.5h1v1h-1zM70 330h1v1h-1zM71 323h1v1h-1zM88.5 318h1v1h-1zM129 312h1v1h-1zM127.5 310h1v1h-1zM103 309h1v1h-1zM95.5 321h1v1h-1zM107 311.5h1v1h-1zM121.5 311h1v1h-1zM53.5 327.5h1v1h-1zM80 322.5h1v1h-1zM65.5 318.5h1v1h-1zM92 316.5h1v1h-1zM75 319.5h1v1h-1zM75 311h1v1h-1zM65.5 317h1v1h-1zM99.5 312.5h1v1h-1zM92 314.5h1v1h-1zM57 322h1v1h-1zM83.5 315.5h1v1h-1zM96.5 313h1v1h-1zM69 317.5h1v1h-1zM53 328.5h1v1h-1zM64.5 315h1v1h-1zM72.5 317.5h1v1h-1zM82.5 318h1v1h-1zM85 314h1v1h-1zM111 315h1v1h-1zM78 323.5h1v1h-1zM53.5 325.5h1v1h-1zM105.5 317h1v1h-1zM62 327.5h1v1h-1zM65 325h1v1h-1zM131.5 306h1v1h-1zM100.5 316h1v1h-1zM79 320h1v1h-1zM67.5 319.5h1v1h-1zM81.5 319.5h1v1h-1zM79 318h1v1h-1zM110 310h1v1h-1zM83 310.5h1v1h-1zM64.5 314.5h1v1h-1zM118.5 313h1v1h-1zM93 313.5h1v1h-1zM67 325h1v1h-1zM66.5 319h1v1h-1zM85 319h1v1h-1zM65 332h1v1h-1zM93.5 313h1v1h-1zM92.5 318h1v1h-1zM56.5 322.5h1v1h-1zM102.5 315h1v1h-1zM116 314h1v1h-1zM95.5 316.5h1v1h-1zM97 319.5h1v1h-1zM69.5 316.5h1v1h-1zM54 328.5h1v1h-1zM62.5 321h1v1h-1zM132.5 304h1v1h-1zM124.5 313h1v1h-1zM79.5 320.5h1v1h-1zM100.5 316.5h1v1h-1zM62.5 323h1v1h-1zM69.5 323h1v1h-1zM89.5 319h1v1h-1zM89.5 314.5h1v1h-1zM87 323.5h1v1h-1zM83 316.5h1v1h-1zM90.5 321h1v1h-1zM133.5 308h1v1h-1zM85 317.5h1v1h-1zM61 316.5h1v1h-1zM90 321h1v1h-1zM93 314.5h1v1h-1zM74.5 320h1v1h-1zM82 317.5h1v1h-1zM124.5 308h1v1h-1zM94.5 311.5h1v1h-1zM91 317.5h1v1h-1zM60.5 315.5h1v1h-1zM72 310h1v1h-1zM68 327.5h1v1h-1zM148 304.5h1v1h-1zM46.5 332h1v1h-1zM80.5 316.5h1v1h-1zM61.5 322h1v1h-1zM94 318.5h1v1h-1zM59.5 328.5h1v1h-1zM63 322h1v1h-1zM64 318h1v1h-1zM75.5 320h1v1h-1zM90.5 320.5h1v1h-1zM104 313.5h1v1h-1zM75 324h1v1h-1zM76 313h1v1h-1zM105 316.5h1v1h-1zM100 317.5h1v1h-1zM67.5 325h1v1h-1zM106 315h1v1h-1zM70.5 325.5h1v1h-1zM93.5 319.5h1v1h-1zM71.5 319h1v1h-1zM74 318h1v1h-1zM86.5 317.5h1v1h-1zM88 317h1v1h-1zM86 316.5h1v1h-1zM89 320h1v1h-1zM72.5 320.5h1v1h-1zM102 320h1v1h-1zM76 317.5h1v1h-1zM115.5 315h1v1h-1zM87.5 320h1v1h-1zM77 320.5h1v1h-1zM70 320h1v1h-1zM86 322h1v1h-1zM81 314.5h1v1h-1zM93 310.5h1v1h-1zM87 319h1v1h-1zM57.5 333h1v1h-1zM106 319.5h1v1h-1zM60.5 319h1v1h-1zM104.5 316.5h1v1h-1zM117.5 310h1v1h-1zM95.5 312h1v1h-1zM84 322.5h1v1h-1zM93.5 313.5h1v1h-1zM96 319h1v1h-1zM79.5 313.5h1v1h-1zM83.5 315h1v1h-1zM67 323h1v1h-1zM133 316.5h1v1h-1zM106 316.5h1v1h-1zM80 320.5h1v1h-1zM124 311.5h1v1h-1zM104.5 317h1v1h-1zM143.5 311h1v1h-1zM71.5 321.5h1v1h-1zM85.5 323h1v1h-1zM81.5 318h1v1h-1zM92.5 317.5h1v1h-1zM74.5 321.5h1v1h-1zM66 321.5h1v1h-1zM85.5 319h1v1h-1zM94 314.5h1v1h-1zM152.5 306.5h1v1h-1zM82.5 322.5h1v1h-1zM77 317.5h1v1h-1zM104.5 313.5h1v1h-1zM85 320.5h1v1h-1zM76 320h1v1h-1zM124.5 311h1v1h-1zM131 307h1v1h-1zM94.5 316.5h1v1h-1zM76 317h1v1h-1zM98 317h1v1h-1zM89 315h1v1h-1zM82 323h1v1h-1zM79.5 318.5h1v1h-1zM139 308h1v1h-1zM70 316h1v1h-1zM92.5 315.5h1v1h-1zM58 311h1v1h-1zM65 321.5h1v1h-1zM72 322h1v1h-1zM158.5 303.5h1v1h-1zM99 310.5h1v1h-1zM109.5 312h1v1h-1zM60 326h1v1h-1zM96.5 318h1v1h-1zM84 317.5h1v1h-1zM83 314h1v1h-1zM98 321.5h1v1h-1zM77.5 323h1v1h-1zM87.5 314h1v1h-1zM75 320h1v1h-1zM81.5 320.5h1v1h-1zM88.5 322h1v1h-1zM69 319.5h1v1h-1zM75.5 319.5h1v1h-1zM83 326.5h1v1h-1zM85.5 322.5h1v1h-1zM103.5 311h1v1h-1zM94 315.5h1v1h-1zM90 319h1v1h-1zM109.5 312.5h1v1h-1zM71.5 317.5h1v1h-1zM81.5 316.5h1v1h-1zM68 319.5h1v1h-1zM90.5 311.5h1v1h-1zM67.5 324.5h1v1h-1zM98 316h1v1h-1zM89.5 318h1v1h-1zM116.5 307h1v1h-1zM108 313h1v1h-1zM72.5 319.5h1v1h-1zM69.5 322h1v1h-1zM116 317.5h1v1h-1zM69 319h1v1h-1zM100.5 320h1v1h-1zM77.5 317h1v1h-1zM80 321.5h1v1h-1zM89.5 311h1v1h-1zM118 316h1v1h-1zM46 336h1v1h-1zM69.5 316h1v1h-1zM81.5 318.5h1v1h-1zM76.5 326.5h1v1h-1zM131.5 309.5h1v1h-1zM75 318.5h1v1h-1zM98 319h1v1h-1zM132.5 308h1v1h-1zM101 314.5h1v1h-1zM98 318h1v1h-1zM98.5 314.5h1v1h-1zM104 315h1v1h-1zM75.5 321.5h1v1h-1zM93.5 314.5h1v1h-1zM103.5 316.5h1v1h-1zM114 312h1v1h-1zM65.5 320.5h1v1h-1zM81 315.5h1v1h-1zM84.5 316.5h1v1h-1zM112 315h1v1h-1zM83 322h1v1h-1zM53 327.5h1v1h-1zM76.5 319h1v1h-1zM102 313h1v1h-1zM53 327h1v1h-1zM77.5 326h1v1h-1zM88.5 317h1v1h-1zM80 319.5h1v1h-1zM111 310h1v1h-1zM72 319h1v1h-1zM90 318.5h1v1h-1zM102 319.5h1v1h-1zM119 311h1v1h-1zM68 312h1v1h-1zM103 313.5h1v1h-1zM96 317h1v1h-1zM83 318.5h1v1h-1zM54.5 323.5h1v1h-1zM70 322h1v1h-1zM100 310.5h1v1h-1zM64.5 318h1v1h-1zM77.5 329.5h1v1h-1zM74.5 324.5h1v1h-1zM100 317h1v1h-1zM80 314.5h1v1h-1zM65 323h1v1h-1zM80.5 314.5h1v1h-1zM78.5 321.5h1v1h-1zM98.5 316h1v1h-1zM78 314.5h1v1h-1zM97 320.5h1v1h-1zM88.5 318.5h1v1h-1zM99 316h1v1h-1zM82.5 313.5h1v1h-1zM86 315.5h1v1h-1zM85.5 319.5h1v1h-1zM109.5 316.5h1v1h-1zM68 324h1v1h-1zM83 321.5h1v1h-1zM84 313.5h1v1h-1zM92 318h1v1h-1zM87 316h1v1h-1zM82.5 317h1v1h-1zM96.5 317.5h1v1h-1zM78.5 320.5h1v1h-1zM92 320h1v1h-1zM67.5 324h1v1h-1zM78.5 324.5h1v1h-1zM123.5 314.5h1v1h-1zM133.5 306.5h1v1h-1zM159.5 303.5h1v1h-1zM58.5 318.5h1v1h-1zM105.5 314h1v1h-1zM120.5 306.5h1v1h-1zM113.5 305h1v1h-1zM96 318.5h1v1h-1zM98.5 320.5h1v1h-1zM90.5 316.5h1v1h-1zM87 320h1v1h-1zM73 325h1v1h-1zM65.5 314.5h1v1h-1zM114.5 309h1v1h-1zM100.5 313.5h1v1h-1zM70.5 313.5h1v1h-1zM105 314h1v1h-1zM77 320h1v1h-1zM80 317.5h1v1h-1zM72.5 318h1v1h-1zM63.5 322.5h1v1h-1zM63.5 319.5h1v1h-1zM63 320.5h1v1h-1zM65 321h1v1h-1zM106 318.5h1v1h-1zM87.5 316.5h1v1h-1zM67.5 320h1v1h-1zM88 324.5h1v1h-1zM89 314.5h1v1h-1zM86.5 313.5h1v1h-1zM72 321.5h1v1h-1zM83.5 322.5h1v1h-1zM87 317.5h1v1h-1zM119 313.5h1v1h-1zM73.5 314h1v1h-1zM99 317.5h1v1h-1zM86 327h1v1h-1zM89 320.5h1v1h-1zM80.5 317h1v1h-1zM109 313h1v1h-1zM116 313.5h1v1h-1zM145 306h1v1h-1zM99 320h1v1h-1zM105.5 316h1v1h-1zM112.5 309.5h1v1h-1zM75.5 324.5h1v1h-1zM151.5 308h1v1h-1zM81.5 317h1v1h-1zM86.5 311h1v1h-1zM70.5 321.5h1v1h-1zM105 317h1v1h-1zM79 323.5h1v1h-1zM96.5 320h1v1h-1zM79.5 314h1v1h-1zM81 320h1v1h-1zM73.5 323.5h1v1h-1zM57 323h1v1h-1zM101.5 316.5h1v1h-1zM126 315h1v1h-1zM73 317.5h1v1h-1zM69.5 320h1v1h-1zM79.5 326h1v1h-1zM64.5 322.5h1v1h-1zM94.5 317.5h1v1h-1zM80.5 318.5h1v1h-1zM90 312.5h1v1h-1zM114 309h1v1h-1zM108.5 309.5h1v1h-1zM117 313.5h1v1h-1zM120.5 315h1v1h-1zM87 318.5h1v1h-1zM57.5 323.5h1v1h-1zM66 316h1v1h-1zM88 316.5h1v1h-1zM108 318h1v1h-1zM83.5 318h1v1h-1zM46.5 330h1v1h-1zM72.5 321.5h1v1h-1zM71.5 319.5h1v1h-1zM76 321h1v1h-1zM92.5 312h1v1h-1zM106 320.5h1v1h-1zM84 324.5h1v1h-1zM91 314.5h1v1h-1zM104.5 316h1v1h-1zM72.5 321h1v1h-1zM86.5 315.5h1v1h-1zM87.5 317.5h1v1h-1zM103 312.5h1v1h-1zM170 300.5h1v1h-1zM77 322.5h1v1h-1zM91 313h1v1h-1zM80.5 318h1v1h-1zM67 326h1v1h-1zM88 316h1v1h-1zM103.5 314.5h1v1h-1zM112 312h1v1h-1zM142.5 309h1v1h-1zM80.5 324.5h1v1h-1zM66.5 325.5h1v1h-1zM84 322h1v1h-1zM104 316h1v1h-1zM73.5 319.5h1v1h-1zM98 313h1v1h-1zM71.5 313h1v1h-1zM93.5 318.5h1v1h-1zM105 313.5h1v1h-1zM120 312.5h1v1h-1zM69.5 321h1v1h-1zM105 320.5h1v1h-1zM102 314.5h1v1h-1zM74 317.5h1v1h-1zM76.5 321.5h1v1h-1zM128.5 309h1v1h-1zM76.5 317.5h1v1h-1zM98.5 319.5h1v1h-1zM68 321.5h1v1h-1zM86 319.5h1v1h-1zM92 314h1v1h-1zM94 314h1v1h-1zM83.5 317.5h1v1h-1zM111.5 316h1v1h-1zM120 308h1v1h-1zM84 324h1v1h-1zM99 321h1v1h-1zM76 320.5h1v1h-1zM94.5 318h1v1h-1zM124 312h1v1h-1zM73 320.5h1v1h-1zM101.5 314h1v1h-1zM97.5 313h1v1h-1zM68.5 323.5h1v1h-1zM108.5 303h1v1h-1zM75.5 319h1v1h-1zM161.5 301.5h1v1h-1zM128 306.5h1v1h-1zM64.5 323h1v1h-1zM77.5 320h1v1h-1zM57 324.5h1v1h-1zM57.5 322h1v1h-1zM59 327.5h1v1h-1zM109.5 314.5h1v1h-1zM78.5 315.5h1v1h-1zM78 323h1v1h-1zM103 312h1v1h-1zM78 319h1v1h-1zM99.5 315.5h1v1h-1zM77 316h1v1h-1zM81.5 321.5h1v1h-1zM70 319.5h1v1h-1zM63.5 325.5h1v1h-1zM109.5 309h1v1h-1zM109.5 316h1v1h-1zM85 317h1v1h-1zM96.5 319h1v1h-1zM108.5 314h1v1h-1zM81.5 316h1v1h-1zM100.5 318h1v1h-1zM64 312h1v1h-1zM68 316h1v1h-1zM97.5 319.5h1v1h-1zM71 319.5h1v1h-1zM105.5 308h1v1h-1zM103.5 321.5h1v1h-1zM78.5 315h1v1h-1zM79 321h1v1h-1zM66.5 327.5h1v1h-1zM84 314h1v1h-1zM66.5 316.5h1v1h-1zM93 315h1v1h-1zM91 324h1v1h-1zM93 318h1v1h-1zM100.5 320.5h1v1h-1zM68.5 315.5h1v1h-1zM91.5 313h1v1h-1zM105 312.5h1v1h-1zM71 318h1v1h-1zM115.5 313.5h1v1h-1zM137.5 305.5h1v1h-1zM98 316.5h1v1h-1zM109.5 315h1v1h-1zM75.5 318h1v1h-1zM95.5 316h1v1h-1zM118 311.5h1v1h-1zM59 318h1v1h-1zM105 318.5h1v1h-1zM73.5 327h1v1h-1zM103.5 319h1v1h-1zM94 315h1v1h-1zM103.5 313h1v1h-1zM82 319h1v1h-1zM84.5 313.5h1v1h-1zM117.5 311.5h1v1h-1zM63.5 319h1v1h-1zM69 320h1v1h-1zM138 304.5h1v1h-1zM115.5 314.5h1v1h-1zM138.5 305h1v1h-1zM75 322.5h1v1h-1zM112 312.5h1v1h-1zM114 311.5h1v1h-1zM54 322.5h1v1h-1zM49 331h1v1h-1zM78.5 313.5h1v1h-1zM119.5 313.5h1v1h-1zM103 320h1v1h-1zM81.5 321h1v1h-1zM108 314h1v1h-1zM77.5 316.5h1v1h-1zM79.5 322h1v1h-1zM71 319h1v1h-1zM130 305h1v1h-1zM103.5 320.5h1v1h-1zM85 315.5h1v1h-1zM133.5 309h1v1h-1zM82 324h1v1h-1zM72 319.5h1v1h-1zM83 311h1v1h-1zM98.5 313h1v1h-1zM101.5 313.5h1v1h-1zM66.5 310.5h1v1h-1zM124 313h1v1h-1zM96 327.5h1v1h-1zM62 324.5h1v1h-1zM137.5 309h1v1h-1zM49.5 333h1v1h-1zM85.5 316h1v1h-1zM91.5 313.5h1v1h-1zM111.5 315h1v1h-1zM64 323h1v1h-1zM120 313.5h1v1h-1zM126.5 313h1v1h-1zM86 318h1v1h-1zM60.5 318.5h1v1h-1zM106.5 310.5h1v1h-1zM99.5 316.5h1v1h-1zM137 312.5h1v1h-1zM48.5 334h1v1h-1zM83.5 319h1v1h-1zM76 322h1v1h-1zM66.5 326.5h1v1h-1zM99.5 313.5h1v1h-1zM79 322.5h1v1h-1zM58 324.5h1v1h-1zM68 317.5h1v1h-1zM104 312.5h1v1h-1zM72.5 322.5h1v1h-1zM97 327.5h1v1h-1zM67.5 316.5h1v1h-1zM96 315h1v1h-1zM95 312.5h1v1h-1zM47.5 330h1v1h-1zM87.5 313.5h1v1h-1zM100.5 315.5h1v1h-1zM97.5 314.5h1v1h-1zM111.5 313h1v1h-1zM117 313h1v1h-1zM82.5 316h1v1h-1zM57 322.5h1v1h-1zM70.5 314h1v1h-1zM76.5 317h1v1h-1zM58.5 317h1v1h-1zM66.5 318h1v1h-1zM88 319.5h1v1h-1zM76 315h1v1h-1zM99.5 315h1v1h-1zM108 313.5h1v1h-1zM108.5 313.5h1v1h-1zM98 321h1v1h-1zM107.5 316.5h1v1h-1zM69 321h1v1h-1zM71.5 318.5h1v1h-1zM94.5 310h1v1h-1zM75 324.5h1v1h-1zM71 321h1v1h-1zM80.5 308h1v1h-1zM51.5 328h1v1h-1zM84 314.5h1v1h-1zM59.5 323h1v1h-1zM74 312h1v1h-1zM67.5 322h1v1h-1zM85.5 320h1v1h-1zM96.5 314.5h1v1h-1zM108.5 317h1v1h-1zM77.5 313h1v1h-1zM58 321h1v1h-1zM91 318h1v1h-1zM170.5 303.5h1v1h-1zM77 322h1v1h-1zM85.5 316.5h1v1h-1zM72 324.5h1v1h-1zM91.5 316h1v1h-1zM95 315.5h1v1h-1zM67.5 320.5h1v1h-1zM140 307.5h1v1h-1zM105 321h1v1h-1zM105.5 313.5h1v1h-1zM120 312h1v1h-1zM130.5 301.5h1v1h-1zM100.5 314.5h1v1h-1zM90 313h1v1h-1zM96 317.5h1v1h-1zM78 314h1v1h-1zM82.5 319.5h1v1h-1zM68.5 318h1v1h-1zM49.5 338h1v1h-1zM94 317h1v1h-1zM73.5 313h1v1h-1zM128 313.5h1v1h-1zM71.5 327h1v1h-1zM78 315h1v1h-1zM148.5 305.5h1v1h-1zM117 312h1v1h-1zM67 321h1v1h-1zM111 308h1v1h-1zM78.5 318.5h1v1h-1zM85 311.5h1v1h-1zM86 315h1v1h-1zM78 316h1v1h-1zM102.5 313.5h1v1h-1zM61 324h1v1h-1zM73 317h1v1h-1zM105.5 315.5h1v1h-1zM92.5 314h1v1h-1zM80.5 316h1v1h-1zM91.5 317h1v1h-1zM90.5 318h1v1h-1zM156.5 301.5h1v1h-1zM111.5 315.5h1v1h-1zM171 304.5h1v1h-1zM127 309.5h1v1h-1zM95.5 318.5h1v1h-1zM77 319h1v1h-1zM93.5 316h1v1h-1zM68 317h1v1h-1zM106.5 313h1v1h-1zM84.5 321.5h1v1h-1zM65.5 320h1v1h-1zM76 316.5h1v1h-1zM127.5 311h1v1h-1zM95 319.5h1v1h-1zM80.5 312h1v1h-1zM101.5 314.5h1v1h-1zM73.5 325.5h1v1h-1zM94 316.5h1v1h-1zM88 312.5h1v1h-1zM90 315h1v1h-1zM72.5 312.5h1v1h-1zM78 324h1v1h-1zM80 313.5h1v1h-1zM100.5 313h1v1h-1zM59.5 321.5h1v1h-1zM126 310.5h1v1h-1zM117 312.5h1v1h-1zM74.5 319.5h1v1h-1zM150.5 307.5h1v1h-1zM114 310.5h1v1h-1zM88.5 310h1v1h-1zM62 318.5h1v1h-1zM92 321.5h1v1h-1zM74.5 316h1v1h-1zM72.5 318.5h1v1h-1zM119.5 309h1v1h-1zM93 317.5h1v1h-1zM62 314h1v1h-1zM109 305.5h1v1h-1zM77 315h1v1h-1zM78 322h1v1h-1zM89.5 316h1v1h-1zM101.5 316h1v1h-1zM85.5 318.5h1v1h-1zM90 323.5h1v1h-1zM121.5 307.5h1v1h-1zM52.5 322.5h1v1h-1zM109 319h1v1h-1zM131.5 310.5h1v1h-1zM134.5 311h1v1h-1zM97.5 318h1v1h-1zM85 316h1v1h-1zM96.5 314h1v1h-1zM73.5 325h1v1h-1zM98 309h1v1h-1zM86.5 315h1v1h-1zM96 315.5h1v1h-1zM122.5 308h1v1h-1zM73.5 318.5h1v1h-1zM82 323.5h1v1h-1zM60.5 322.5h1v1h-1zM171.5 308.5h1v1h-1zM92 311.5h1v1h-1zM82 317h1v1h-1zM113.5 315.5h1v1h-1zM51.5 330.5h1v1h-1zM77 319.5h1v1h-1zM69.5 311.5h1v1h-1zM80 322h1v1h-1zM79 325h1v1h-1zM74 323h1v1h-1zM112 316.5h1v1h-1zM64 325.5h1v1h-1zM108 312h1v1h-1zM72 320h1v1h-1zM86 312.5h1v1h-1zM132.5 308.5h1v1h-1zM100.5 317h1v1h-1zM85 323h1v1h-1zM90 320h1v1h-1zM78 318.5h1v1h-1zM147 305.5h1v1h-1zM111.5 313.5h1v1h-1zM95 310.5h1v1h-1zM116 316h1v1h-1zM79.5 318h1v1h-1zM83 319h1v1h-1zM80.5 320h1v1h-1zM105.5 316.5h1v1h-1zM127 310.5h1v1h-1zM105.5 323.5h1v1h-1zM84.5 315.5h1v1h-1zM105.5 310.5h1v1h-1zM99 315h1v1h-1zM88 317.5h1v1h-1zM70.5 319h1v1h-1zM97.5 313.5h1v1h-1zM71.5 328h1v1h-1zM90 321.5h1v1h-1zM103.5 312.5h1v1h-1zM94.5 316h1v1h-1zM92.5 317h1v1h-1zM74.5 316.5h1v1h-1zM67 322.5h1v1h-1zM57 318h1v1h-1zM59.5 325.5h1v1h-1zM72 316.5h1v1h-1zM103.5 318.5h1v1h-1zM95 317h1v1h-1zM58.5 324h1v1h-1zM86 318.5h1v1h-1zM71 323.5h1v1h-1zM111.5 312.5h1v1h-1zM89.5 320h1v1h-1zM99.5 317h1v1h-1zM96.5 316.5h1v1h-1zM104.5 313h1v1h-1zM73 315h1v1h-1zM100 315.5h1v1h-1zM129.5 311.5h1v1h-1zM73 319.5h1v1h-1zM89 318h1v1h-1zM83.5 321.5h1v1h-1zM127 307h1v1h-1zM96.5 318.5h1v1h-1zM98 313.5h1v1h-1zM172 302.5h1v1h-1zM73 322h1v1h-1zM66.5 320h1v1h-1zM69.5 314.5h1v1h-1zM105.5 313h1v1h-1zM94 310.5h1v1h-1zM91 320.5h1v1h-1zM128.5 311.5h1v1h-1zM83.5 318.5h1v1h-1zM101 309h1v1h-1zM73.5 319h1v1h-1zM114 314.5h1v1h-1zM76 314.5h1v1h-1zM144.5 306.5h1v1h-1zM75 312.5h1v1h-1zM79 310.5h1v1h-1zM75 323h1v1h-1zM111 313h1v1h-1zM119.5 311.5h1v1h-1zM84 321h1v1h-1zM83 320h1v1h-1zM105.5 319h1v1h-1zM95 320h1v1h-1zM82.5 322h1v1h-1zM102.5 316h1v1h-1zM92 316h1v1h-1zM103 317.5h1v1h-1zM85 308h1v1h-1zM111.5 317h1v1h-1zM95.5 313.5h1v1h-1zM69 320.5h1v1h-1zM100.5 310.5h1v1h-1zM95 314.5h1v1h-1zM87 315.5h1v1h-1zM120.5 310.5h1v1h-1zM82.5 325.5h1v1h-1zM88 318h1v1h-1zM86 316h1v1h-1zM103 316h1v1h-1zM60.5 313h1v1h-1zM81 322h1v1h-1zM53 329h1v1h-1zM125.5 311.5h1v1h-1zM94 319.5h1v1h-1zM84.5 320.5h1v1h-1zM68.5 320.5h1v1h-1zM62.5 315h1v1h-1zM96 312.5h1v1h-1zM117.5 313.5h1v1h-1zM103 313h1v1h-1zM53.5 324.5h1v1h-1zM58 316.5h1v1h-1zM87.5 323.5h1v1h-1zM90.5 319.5h1v1h-1zM92 321h1v1h-1zM110 312h1v1h-1zM113 313h1v1h-1zM155.5 305h1v1h-1zM78.5 323h1v1h-1zM97.5 324h1v1h-1zM61.5 325h1v1h-1zM115 317h1v1h-1zM79.5 316.5h1v1h-1zM82.5 313h1v1h-1zM100 319h1v1h-1zM88.5 319.5h1v1h-1zM139.5 307.5h1v1h-1zM66 315.5h1v1h-1zM108 316.5h1v1h-1zM92.5 321h1v1h-1zM141 306.5h1v1h-1zM83.5 317h1v1h-1zM57.5 329h1v1h-1zM101.5 312.5h1v1h-1zM64.5 327.5h1v1h-1zM94 312.5h1v1h-1zM90 314.5h1v1h-1zM99.5 314.5h1v1h-1zM123.5 312.5h1v1h-1zM73.5 323h1v1h-1zM71.5 312.5h1v1h-1zM65 322.5h1v1h-1zM68 323.5h1v1h-1zM119.5 310h1v1h-1zM102.5 312.5h1v1h-1zM51.5 321h1v1h-1zM94 313h1v1h-1zM73 311h1v1h-1zM71.5 316.5h1v1h-1zM79 321.5h1v1h-1zM122 311.5h1v1h-1zM90 315.5h1v1h-1zM113.5 314h1v1h-1zM117.5 308h1v1h-1zM113.5 313h1v1h-1zM87 320.5h1v1h-1zM91 322.5h1v1h-1zM53 323h1v1h-1zM124.5 312h1v1h-1zM102.5 310h1v1h-1zM94 308h1v1h-1zM95.5 322h1v1h-1zM87.5 314.5h1v1h-1zM55 321.5h1v1h-1zM69 323h1v1h-1zM55.5 336.5h1v1h-1zM109 312.5h1v1h-1zM88 315.5h1v1h-1zM96.5 315.5h1v1h-1zM86.5 314.5h1v1h-1zM97.5 310.5h1v1h-1zM109 315h1v1h-1zM66 323.5h1v1h-1zM85.5 318h1v1h-1zM65 318h1v1h-1zM89.5 317h1v1h-1zM77.5 321h1v1h-1zM106.5 309.5h1v1h-1zM110 318h1v1h-1zM83.5 319.5h1v1h-1zM53 330.5h1v1h-1zM75.5 314.5h1v1h-1zM55 327.5h1v1h-1zM78 317h1v1h-1zM85 318.5h1v1h-1zM79.5 321.5h1v1h-1zM100 319.5h1v1h-1zM102 316h1v1h-1zM52 328h1v1h-1zM69.5 317h1v1h-1zM66 318.5h1v1h-1zM79.5 321h1v1h-1zM99 312h1v1h-1zM111 315.5h1v1h-1zM96.5 312.5h1v1h-1zM91.5 321.5h1v1h-1zM162.5 308h1v1h-1zM57.5 318.5h1v1h-1zM123.5 313h1v1h-1zM100.5 310h1v1h-1zM110 312.5h1v1h-1zM101 317h1v1h-1zM85 313.5h1v1h-1zM128 309h1v1h-1zM112.5 319h1v1h-1zM83.5 321h1v1h-1zM69 314h1v1h-1zM63 322.5h1v1h-1zM130.5 309.5h1v1h-1zM114.5 314h1v1h-1zM88 323.5h1v1h-1zM78 321.5h1v1h-1zM70 323h1v1h-1zM86.5 320h1v1h-1zM95 317.5h1v1h-1zM99.5 319.5h1v1h-1zM79 316h1v1h-1zM44.5 338.5h1v1h-1zM76.5 321h1v1h-1zM89.5 323h1v1h-1zM95 316.5h1v1h-1zM46 339.5h1v1h-1zM109 316.5h1v1h-1zM110 313h1v1h-1zM71.5 325.5h1v1h-1zM145.5 302h1v1h-1zM63.5 322h1v1h-1zM88 315h1v1h-1zM47 336.5h1v1h-1zM95 324h1v1h-1zM114.5 309.5h1v1h-1zM118.5 314h1v1h-1zM98.5 317.5h1v1h-1zM73 314h1v1h-1zM85.5 321h1v1h-1zM79.5 317.5h1v1h-1zM67 319h1v1h-1zM61.5 325.5h1v1h-1zM137.5 310h1v1h-1zM81.5 317.5h1v1h-1zM74 328.5h1v1h-1zM94.5 313h1v1h-1zM90 316.5h1v1h-1zM101 311.5h1v1h-1zM50 333.5h1v1h-1zM72 315h1v1h-1zM90.5 320h1v1h-1zM105 309.5h1v1h-1zM64 321.5h1v1h-1zM82 320.5h1v1h-1zM87.5 318h1v1h-1zM66 326h1v1h-1zM62 322h1v1h-1zM77.5 318.5h1v1h-1zM65 319.5h1v1h-1zM81.5 320h1v1h-1zM91 317h1v1h-1zM85 316.5h1v1h-1zM89.5 316.5h1v1h-1zM56 325h1v1h-1zM98.5 317h1v1h-1zM85.5 314h1v1h-1zM99.5 317.5h1v1h-1zM106 316h1v1h-1zM127 311h1v1h-1zM110.5 313h1v1h-1zM80 320h1v1h-1zM80 311.5h1v1h-1zM86 324h1v1h-1zM130.5 306.5h1v1h-1zM68.5 317.5h1v1h-1zM89.5 322h1v1h-1zM98.5 318.5h1v1h-1zM63 320h1v1h-1zM92 315.5h1v1h-1zM79 319h1v1h-1zM136.5 310h1v1h-1zM66 321h1v1h-1zM98 323h1v1h-1zM72 324h1v1h-1zM125 315.5h1v1h-1zM87 323h1v1h-1zM84.5 314h1v1h-1zM88.5 321h1v1h-1zM63.5 325h1v1h-1zM95 318h1v1h-1zM68.5 318.5h1v1h-1zM63.5 320.5h1v1h-1zM61.5 317.5h1v1h-1zM93 317h1v1h-1zM103.5 315h1v1h-1zM74 316h1v1h-1zM75 317.5h1v1h-1zM50 329.5h1v1h-1zM113.5 309h1v1h-1zM56.5 324h1v1h-1zM77.5 316h1v1h-1zM91.5 323.5h1v1h-1zM80 317h1v1h-1zM110.5 315.5h1v1h-1zM52.5 330.5h1v1h-1zM88 321h1v1h-1zM127.5 310.5h1v1h-1zM105 320h1v1h-1zM80.5 322.5h1v1h-1zM109.5 311.5h1v1h-1zM87.5 322h1v1h-1zM167 305.5h1v1h-1zM71 315h1v1h-1zM89.5 321.5h1v1h-1zM134.5 308h1v1h-1zM82.5 321h1v1h-1zM85.5 312h1v1h-1zM102.5 320.5h1v1h-1zM132.5 309h1v1h-1zM68 314h1v1h-1zM96 312h1v1h-1zM84.5 315h1v1h-1zM94.5 319h1v1h-1zM114.5 310h1v1h-1zM115.5 312h1v1h-1zM90 316h1v1h-1zM110.5 315h1v1h-1zM92.5 318.5h1v1h-1zM98 310.5h1v1h-1zM64.5 321h1v1h-1zM61 325.5h1v1h-1zM56 321.5h1v1h-1zM60 320h1v1h-1zM90.5 314.5h1v1h-1zM49 332.5h1v1h-1zM67.5 315h1v1h-1zM47.5 327.5h1v1h-1zM115 310h1v1h-1zM60.5 324.5h1v1h-1zM91 319h1v1h-1zM93 314h1v1h-1zM91 316h1v1h-1zM156.5 302.5h1v1h-1zM120 310.5h1v1h-1zM89 314h1v1h-1zM83.5 313.5h1v1h-1zM64.5 320.5h1v1h-1zM80.5 311h1v1h-1zM91.5 320h1v1h-1zM114.5 312.5h1v1h-1zM95.5 318h1v1h-1zM72 313h1v1h-1zM87.5 315.5h1v1h-1zM78 315.5h1v1h-1zM96.5 316h1v1h-1zM83.5 326.5h1v1h-1zM73.5 322.5h1v1h-1zM51 316h1v1h-1zM47 331.5h1v1h-1zM75.5 320.5h1v1h-1zM77 321.5h1v1h-1zM80.5 319.5h1v1h-1zM69.5 318h1v1h-1zM120 307.5h1v1h-1zM115 313h1v1h-1zM107.5 313.5h1v1h-1zM130 310.5h1v1h-1zM71.5 325h1v1h-1zM90 310h1v1h-1zM48 332.5h1v1h-1zM146.5 308.5h1v1h-1zM118 303h1v1h-1zM102 317h1v1h-1zM88.5 314.5h1v1h-1zM68.5 324.5h1v1h-1zM95.5 322.5h1v1h-1zM96.5 311.5h1v1h-1zM79 317.5h1v1h-1zM71 324h1v1h-1zM95.5 319h1v1h-1zM90.5 315.5h1v1h-1zM54 323.5h1v1h-1zM58.5 316h1v1h-1zM60.5 326.5h1v1h-1zM82.5 323h1v1h-1zM84.5 318.5h1v1h-1zM105.5 315h1v1h-1zM67.5 313h1v1h-1zM107.5 312h1v1h-1zM69 322.5h1v1h-1zM60 325h1v1h-1zM72.5 323h1v1h-1zM105 318h1v1h-1zM111.5 310.5h1v1h-1zM74.5 314h1v1h-1zM70 321.5h1v1h-1zM61 319.5h1v1h-1zM62.5 318.5h1v1h-1zM85 324.5h1v1h-1zM122 319.5h1v1h-1zM69 318h1v1h-1zM100 314h1v1h-1zM107 316.5h1v1h-1zM98.5 316.5h1v1h-1zM93.5 321h1v1h-1zM102 309.5h1v1h-1zM76.5 312h1v1h-1zM73.5 317h1v1h-1zM97.5 318.5h1v1h-1zM89 323.5h1v1h-1zM107 312.5h1v1h-1zM90 319.5h1v1h-1zM72.5 317h1v1h-1zM116 312h1v1h-1zM59 320h1v1h-1zM110 309h1v1h-1zM144 308h1v1h-1zM104 319.5h1v1h-1zM84 319h1v1h-1zM73 324h1v1h-1zM127.5 305.5h1v1h-1zM64 319h1v1h-1zM61.5 324h1v1h-1zM102 315.5h1v1h-1zM77.5 317.5h1v1h-1zM94.5 313.5h1v1h-1zM144.5 308h1v1h-1zM68.5 322.5h1v1h-1zM93.5 319h1v1h-1zM78.5 319.5h1v1h-1zM77 318.5h1v1h-1zM105.5 320h1v1h-1zM78.5 319h1v1h-1zM88.5 322.5h1v1h-1zM85 321.5h1v1h-1zM89 313h1v1h-1zM73.5 316.5h1v1h-1zM64.5 326.5h1v1h-1zM51 326h1v1h-1zM91.5 319h1v1h-1zM54.5 319h1v1h-1zM73 326.5h1v1h-1zM67.5 318.5h1v1h-1zM75.5 318.5h1v1h-1zM140.5 308h1v1h-1zM78 317.5h1v1h-1zM99.5 310h1v1h-1zM70.5 319.5h1v1h-1zM57.5 326h1v1h-1zM83.5 309h1v1h-1zM84 320.5h1v1h-1zM73.5 321.5h1v1h-1zM104 321.5h1v1h-1zM66.5 315.5h1v1h-1zM86.5 321.5h1v1h-1zM49 325.5h1v1h-1zM85 313h1v1h-1zM69.5 313h1v1h-1zM82 311.5h1v1h-1zM84.5 317.5h1v1h-1zM92 322.5h1v1h-1zM57 326.5h1v1h-1zM86.5 316.5h1v1h-1zM126.5 310.5h1v1h-1zM86.5 316h1v1h-1zM147 308.5h1v1h-1zM162 309h1v1h-1zM90.5 316h1v1h-1zM122 313h1v1h-1zM70.5 318h1v1h-1zM81 318.5h1v1h-1zM133 308.5h1v1h-1zM90.5 315h1v1h-1zM107 323.5h1v1h-1zM78.5 312h1v1h-1zM96 316.5h1v1h-1zM83.5 320h1v1h-1zM58.5 320h1v1h-1zM108.5 314.5h1v1h-1zM67 313h1v1h-1zM104 308.5h1v1h-1zM90.5 314h1v1h-1zM93.5 317.5h1v1h-1zM58.5 332h1v1h-1zM104.5 311.5h1v1h-1zM116.5 311h1v1h-1zM70 320.5h1v1h-1zM128 308.5h1v1h-1zM87 319.5h1v1h-1zM48.5 332h1v1h-1zM157 306.5h1v1h-1zM105.5 312h1v1h-1zM65.5 319.5h1v1h-1zM166 302.5h1v1h-1zM87.5 317h1v1h-1zM100 313.5h1v1h-1zM72 314.5h1v1h-1zM87 316.5h1v1h-1zM69.5 319h1v1h-1zM116 312.5h1v1h-1zM157.5 304.5h1v1h-1zM107 316h1v1h-1zM99 315.5h1v1h-1zM97 318h1v1h-1zM70.5 323h1v1h-1zM89.5 319.5h1v1h-1zM69 313h1v1h-1zM76.5 318h1v1h-1zM74.5 325h1v1h-1zM120 314.5h1v1h-1zM78 312.5h1v1h-1zM138 310.5h1v1h-1zM95.5 317h1v1h-1zM66 325h1v1h-1zM58 323h1v1h-1zM95.5 319.5h1v1h-1zM95.5 314h1v1h-1zM122.5 312.5h1v1h-1zM85 318h1v1h-1zM67 319.5h1v1h-1zM82.5 317.5h1v1h-1zM92.5 316.5h1v1h-1zM76.5 319.5h1v1h-1zM103.5 314h1v1h-1zM71.5 321h1v1h-1zM139.5 302.5h1v1h-1zM92 318.5h1v1h-1zM64.5 316h1v1h-1zM59.5 324.5h1v1h-1zM126.5 306.5h1v1h-1zM60 321.5h1v1h-1zM93.5 309.5h1v1h-1zM89.5 313h1v1h-1zM97 309.5h1v1h-1zM67.5 321h1v1h-1zM101.5 315h1v1h-1zM112 319h1v1h-1zM78.5 320h1v1h-1zM89 315.5h1v1h-1zM127 310h1v1h-1zM68 316.5h1v1h-1zM105.5 311.5h1v1h-1zM99 317h1v1h-1zM133.5 312h1v1h-1zM84.5 324.5h1v1h-1zM61.5 321h1v1h-1zM106 314h1v1h-1zM123.5 310h1v1h-1zM97.5 317.5h1v1h-1zM61 321h1v1h-1zM116.5 317h1v1h-1zM107 322h1v1h-1zM93 320h1v1h-1zM109.5 314h1v1h-1zM86.5 311.5h1v1h-1zM73 323.5h1v1h-1zM70 317.5h1v1h-1zM79.5 320h1v1h-1zM75.5 321h1v1h-1zM94.5 321h1v1h-1zM85.5 311h1v1h-1zM81.5 314.5h1v1h-1zM128 306h1v1h-1zM74 320.5h1v1h-1zM97 323h1v1h-1zM92 324h1v1h-1zM104.5 320.5h1v1h-1zM92 312h1v1h-1zM102.5 315.5h1v1h-1zM105 314.5h1v1h-1zM58.5 313.5h1v1h-1zM85.5 317h1v1h-1zM64 324h1v1h-1zM65 323.5h1v1h-1zM136.5 304h1v1h-1zM72.5 319h1v1h-1zM66 318h1v1h-1zM78 316.5h1v1h-1zM101 318h1v1h-1zM87.5 315h1v1h-1zM99.5 320h1v1h-1zM91 315.5h1v1h-1zM85.5 317.5h1v1h-1zM64 317h1v1h-1zM67 320.5h1v1h-1zM61.5 321.5h1v1h-1zM87 321.5h1v1h-1zM113 309h1v1h-1zM111 316h1v1h-1zM74 316.5h1v1h-1zM111.5 314h1v1h-1zM67.5 321.5h1v1h-1zM101.5 312h1v1h-1zM88.5 316.5h1v1h-1zM81 317.5h1v1h-1zM79.5 313h1v1h-1zM49.5 330h1v1h-1zM66.5 316h1v1h-1zM67.5 334h1v1h-1zM102 308.5h1v1h-1zM82 314.5h1v1h-1zM70 324h1v1h-1zM127 308.5h1v1h-1zM93 316h1v1h-1zM107 309h1v1h-1zM81 316h1v1h-1zM98 323.5h1v1h-1zM115 312.5h1v1h-1zM91 320h1v1h-1zM113.5 304h1v1h-1zM75 321.5h1v1h-1zM98 314.5h1v1h-1zM139 304.5h1v1h-1zM87 311h1v1h-1zM57.5 327.5h1v1h-1zM87 317h1v1h-1zM103 310.5h1v1h-1zM91.5 315.5h1v1h-1zM47 332.5h1v1h-1zM124.5 308.5h1v1h-1zM64.5 328.5h1v1h-1zM75 321h1v1h-1zM107 313.5h1v1h-1zM93 311.5h1v1h-1zM74.5 325.5h1v1h-1zM99 313.5h1v1h-1zM73 322.5h1v1h-1zM67.5 315.5h1v1h-1zM62.5 319h1v1h-1zM77.5 319h1v1h-1zM97.5 312.5h1v1h-1zM93 315.5h1v1h-1zM88.5 314h1v1h-1zM70.5 316h1v1h-1zM77 310h1v1h-1zM86.5 318h1v1h-1zM78 319.5h1v1h-1zM117.5 309.5h1v1h-1zM112.5 320.5h1v1h-1zM74 323.5h1v1h-1zM91.5 318h1v1h-1zM74.5 323h1v1h-1zM111 320.5h1v1h-1zM73 318.5h1v1h-1zM89 317.5h1v1h-1zM99 307.5h1v1h-1zM47 333h1v1h-1zM108 317.5h1v1h-1zM53 322h1v1h-1zM69.5 321.5h1v1h-1zM71 320.5h1v1h-1zM95 314h1v1h-1zM71 316h1v1h-1zM84.5 317h1v1h-1zM121 312.5h1v1h-1zM100.5 311.5h1v1h-1zM123 312h1v1h-1zM117 309.5h1v1h-1zM89.5 318.5h1v1h-1zM97 313.5h1v1h-1zM79.5 316h1v1h-1zM83 315h1v1h-1zM68 315.5h1v1h-1zM115.5 320h1v1h-1zM99.5 313h1v1h-1zM84 315h1v1h-1zM63.5 326h1v1h-1zM66.5 324.5h1v1h-1zM88 320h1v1h-1zM70.5 320.5h1v1h-1zM66 317.5h1v1h-1zM106 311.5h1v1h-1zM70.5 316.5h1v1h-1zM66.5 323.5h1v1h-1zM106 317.5h1v1h-1zM68 322h1v1h-1zM68.5 316.5h1v1h-1zM65.5 316.5h1v1h-1zM86 320h1v1h-1zM61 321.5h1v1h-1zM103 316.5h1v1h-1zM71.5 313.5h1v1h-1zM65 317.5h1v1h-1zM90.5 312.5h1v1h-1zM102 315h1v1h-1zM73.5 317.5h1v1h-1zM91 313.5h1v1h-1zM114.5 314.5h1v1h-1zM96 313.5h1v1h-1zM67 315.5h1v1h-1zM76.5 324.5h1v1h-1zM55 322h1v1h-1zM139.5 309h1v1h-1zM56 324h1v1h-1zM60.5 321.5h1v1h-1zM85 320h1v1h-1zM121.5 310.5h1v1h-1zM159.5 300h1v1h-1zM105 311.5h1v1h-1zM105 316h1v1h-1zM123 304.5h1v1h-1zM135 307.5h1v1h-1zM98 320.5h1v1h-1zM143 306h1v1h-1zM82 321.5h1v1h-1zM57 321.5h1v1h-1zM50.5 326.5h1v1h-1zM75 320.5h1v1h-1zM159 304h1v1h-1zM97.5 314h1v1h-1zM101.5 313h1v1h-1zM63 325h1v1h-1zM75.5 315h1v1h-1zM80 315h1v1h-1zM78.5 311h1v1h-1zM58 320h1v1h-1zM88 325.5h1v1h-1zM118.5 309h1v1h-1zM89.5 317.5h1v1h-1zM57 329.5h1v1h-1zM128 311.5h1v1h-1zM59.5 324h1v1h-1zM108.5 319.5h1v1h-1zM99 318.5h1v1h-1zM108 309h1v1h-1zM112.5 310.5h1v1h-1zM66 320.5h1v1h-1zM77.5 323.5h1v1h-1zM108.5 311h1v1h-1zM154.5 304h1v1h-1zM103 309.5h1v1h-1zM69 327h1v1h-1zM90.5 319h1v1h-1zM89 322.5h1v1h-1zM161 302h1v1h-1zM118.5 312.5h1v1h-1zM134 305.5h1v1h-1zM65.5 318h1v1h-1zM55 331h1v1h-1zM67.5 323.5h1v1h-1zM139 308.5h1v1h-1zM104 318.5h1v1h-1zM123 313h1v1h-1zM79.5 319h1v1h-1zM97 316h1v1h-1zM80.5 313h1v1h-1zM87 311.5h1v1h-1zM84.5 312h1v1h-1zM79.5 325h1v1h-1zM97.5 316h1v1h-1zM51.5 331h1v1h-1zM104 311h1v1h-1zM126.5 317h1v1h-1zM76.5 323h1v1h-1zM49.5 326.5h1v1h-1zM57.5 322.5h1v1h-1zM75.5 316h1v1h-1zM72 323h1v1h-1zM76.5 315.5h1v1h-1zM110 314h1v1h-1zM147.5 306h1v1h-1zM92.5 316h1v1h-1zM104 317.5h1v1h-1zM85 319.5h1v1h-1zM95 313.5h1v1h-1zM65 320.5h1v1h-1zM73.5 314.5h1v1h-1zM72.5 327.5h1v1h-1zM75 316h1v1h-1zM89 318.5h1v1h-1zM65 319h1v1h-1zM82.5 324.5h1v1h-1zM96.5 312h1v1h-1zM106 315.5h1v1h-1zM87.5 316h1v1h-1zM125.5 305.5h1v1h-1zM99.5 318.5h1v1h-1zM102.5 317h1v1h-1zM68 325.5h1v1h-1zM57 320.5h1v1h-1zM63.5 323h1v1h-1zM82 320h1v1h-1zM83.5 320.5h1v1h-1zM54 326h1v1h-1zM74 319.5h1v1h-1zM70.5 323.5h1v1h-1zM151.5 305h1v1h-1zM70.5 322.5h1v1h-1zM79 312.5h1v1h-1zM49.5 327h1v1h-1zM55.5 323h1v1h-1zM112 306h1v1h-1zM76.5 322.5h1v1h-1zM107.5 318h1v1h-1zM75 322h1v1h-1zM77 331h1v1h-1zM112 313.5h1v1h-1zM60 323h1v1h-1zM67 317h1v1h-1zM78.5 321h1v1h-1zM77 313h1v1h-1zM138 307.5h1v1h-1zM86 313h1v1h-1zM103 318h1v1h-1zM102.5 314h1v1h-1zM102 322h1v1h-1zM77.5 312.5h1v1h-1zM105 313h1v1h-1zM86.5 318.5h1v1h-1zM74.5 320.5h1v1h-1zM86 324.5h1v1h-1zM152 310.5h1v1h-1zM93 316.5h1v1h-1zM63 318.5h1v1h-1zM77 321h1v1h-1zM60.5 320.5h1v1h-1zM93 318.5h1v1h-1zM81 321h1v1h-1zM80 312.5h1v1h-1zM94 321.5h1v1h-1zM59.5 325h1v1h-1zM93.5 314h1v1h-1zM116 315h1v1h-1zM113 317.5h1v1h-1zM76.5 323.5h1v1h-1zM114.5 307.5h1v1h-1zM67 321.5h1v1h-1zM163 302h1v1h-1zM110.5 312h1v1h-1zM66.5 314.5h1v1h-1zM81 316.5h1v1h-1zM111.5 312h1v1h-1zM84.5 326.5h1v1h-1zM101 314h1v1h-1zM82 325h1v1h-1zM65 315h1v1h-1zM108 311h1v1h-1zM86 314h1v1h-1zM59 312.5h1v1h-1zM78 313h1v1h-1zM113 314h1v1h-1zM79 316.5h1v1h-1zM78.5 316h1v1h-1zM77 316.5h1v1h-1zM81 326h1v1h-1zM107.5 311h1v1h-1zM106.5 319h1v1h-1zM90.5 312h1v1h-1zM68.5 319h1v1h-1zM98.5 315.5h1v1h-1zM93.5 317h1v1h-1zM52.5 330h1v1h-1zM82 326h1v1h-1zM84 319.5h1v1h-1zM69.5 322.5h1v1h-1zM104.5 315h1v1h-1zM90 317.5h1v1h-1zM59.5 329.5h1v1h-1zM113.5 311h1v1h-1zM99.5 319h1v1h-1zM148 307.5h1v1h-1zM94 317.5h1v1h-1zM74 330h1v1h-1zM97 309h1v1h-1zM63.5 320h1v1h-1zM121 310.5h1v1h-1zM64.5 319.5h1v1h-1zM124.5 310.5h1v1h-1zM61 325h1v1h-1zM84.5 319h1v1h-1zM100 316h1v1h-1zM54.5 319.5h1v1h-1zM86.5 319.5h1v1h-1zM115.5 312.5h1v1h-1zM45 343h1v1h-1zM56.5 315h1v1h-1zM61.5 323h1v1h-1zM108.5 315h1v1h-1zM100 313h1v1h-1zM112.5 316h1v1h-1zM72 320.5h1v1h-1zM123.5 308.5h1v1h-1zM90 320.5h1v1h-1zM77 313.5h1v1h-1zM72.5 316.5h1v1h-1zM87.5 324h1v1h-1zM132 304h1v1h-1zM107.5 317h1v1h-1zM97.5 315h1v1h-1zM65 322h1v1h-1zM78.5 317h1v1h-1zM70 318.5h1v1h-1zM120 311h1v1h-1zM82.5 310h1v1h-1zM61.5 317h1v1h-1zM104 310.5h1v1h-1zM99 314h1v1h-1zM86 323h1v1h-1zM102.5 314.5h1v1h-1zM123 310.5h1v1h-1zM101 321h1v1h-1zM99 324h1v1h-1zM71 313.5h1v1h-1zM64 315h1v1h-1zM116 315.5h1v1h-1zM103.5 312h1v1h-1zM88.5 317.5h1v1h-1zM106 309.5h1v1h-1zM109.5 313.5h1v1h-1zM123.5 311.5h1v1h-1zM104 323h1v1h-1zM74.5 324h1v1h-1zM74.5 317h1v1h-1zM91.5 322h1v1h-1zM79 311.5h1v1h-1zM154 302h1v1h-1zM99.5 305h1v1h-1zM71.5 324.5h1v1h-1zM74.5 330h1v1h-1zM72 325h1v1h-1zM103.5 315.5h1v1h-1zM109 313.5h1v1h-1zM57.5 328.5h1v1h-1zM49 334h1v1h-1zM71 324.5h1v1h-1zM87 312.5h1v1h-1zM93.5 320.5h1v1h-1zM115.5 310h1v1h-1zM104 318h1v1h-1zM67 317.5h1v1h-1zM89 322h1v1h-1zM58.5 323h1v1h-1zM89.5 320.5h1v1h-1zM140.5 305h1v1h-1zM47.5 336.5h1v1h-1zM97 315h1v1h-1zM75 313h1v1h-1zM135.5 310h1v1h-1zM69.5 315h1v1h-1zM151 302h1v1h-1zM71 320h1v1h-1zM99.5 312h1v1h-1zM75 315h1v1h-1zM70.5 322h1v1h-1zM112.5 312.5h1v1h-1zM100.5 319h1v1h-1zM112.5 311.5h1v1h-1zM72 328h1v1h-1zM85.5 310h1v1h-1zM91.5 319.5h1v1h-1zM77.5 312h1v1h-1zM94.5 312h1v1h-1zM150.5 306.5h1v1h-1zM81 315h1v1h-1zM59 323h1v1h-1zM127 307.5h1v1h-1zM85 314.5h1v1h-1zM95 316h1v1h-1zM102.5 320h1v1h-1zM66.5 317.5h1v1h-1zM87.5 320.5h1v1h-1zM84.5 314.5h1v1h-1zM85 312.5h1v1h-1zM66 323h1v1h-1zM91.5 314.5h1v1h-1zM83 318h1v1h-1zM104.5 304h1v1h-1zM69 327.5h1v1h-1zM61 324.5h1v1h-1zM65 309.5h1v1h-1zM104.5 312.5h1v1h-1zM98 318.5h1v1h-1zM112.5 311h1v1h-1zM92 319h1v1h-1zM88.5 313.5h1v1h-1zM110.5 316h1v1h-1zM73 321.5h1v1h-1zM66 324h1v1h-1zM84 318.5h1v1h-1zM78.5 322.5h1v1h-1zM86.5 319h1v1h-1zM87 315h1v1h-1zM126.5 312.5h1v1h-1zM110.5 311.5h1v1h-1zM47.5 338h1v1h-1zM74 318.5h1v1h-1zM70 319h1v1h-1zM99.5 323.5h1v1h-1zM102 313.5h1v1h-1zM56 323h1v1h-1zM100 314.5h1v1h-1zM57 318.5h1v1h-1zM122.5 316.5h1v1h-1zM110 315h1v1h-1zM78.5 317.5h1v1h-1zM50 334.5h1v1h-1zM73.5 320.5h1v1h-1zM48 333.5h1v1h-1zM141.5 304h1v1h-1zM136 309h1v1h-1zM83 321h1v1h-1zM74 324h1v1h-1zM89.5 313.5h1v1h-1zM124 304h1v1h-1zM60 318.5h1v1h-1zM100.5 319.5h1v1h-1zM55.5 326.5h1v1h-1zM76 327.5h1v1h-1zM88 308.5h1v1h-1zM126 309.5h1v1h-1zM68 318.5h1v1h-1zM104.5 321h1v1h-1zM93 324.5h1v1h-1zM83.5 324.5h1v1h-1zM159.5 309h1v1h-1zM65 331h1v1h-1zM88 319h1v1h-1zM85.5 321.5h1v1h-1zM85.5 315.5h1v1h-1zM72.5 314.5h1v1h-1zM60.5 320h1v1h-1zM97 319h1v1h-1zM76 319.5h1v1h-1zM73.5 322h1v1h-1zM54 321.5h1v1h-1zM103.5 313.5h1v1h-1zM95.5 313h1v1h-1zM77 317h1v1h-1zM59.5 322.5h1v1h-1zM52.5 328h1v1h-1zM87 314h1v1h-1zM110.5 309.5h1v1h-1zM113 315.5h1v1h-1zM82 316h1v1h-1zM79 314h1v1h-1zM111.5 311h1v1h-1zM50.5 327.5h1v1h-1zM78 311h1v1h-1zM147.5 292h1v1h-1zM59.5 317.5h1v1h-1zM115 311h1v1h-1zM65.5 323h1v1h-1zM83 317h1v1h-1zM76 316h1v1h-1zM98 315.5h1v1h-1zM81 321.5h1v1h-1zM80 316h1v1h-1zM104 314h1v1h-1zM105.5 309.5h1v1h-1zM98 315h1v1h-1zM65.5 325.5h1v1h-1zM68 322.5h1v1h-1zM96 308h1v1h-1zM67 320h1v1h-1zM65.5 324h1v1h-1zM82.5 321.5h1v1h-1zM94.5 314.5h1v1h-1zM72.5 315.5h1v1h-1zM104 311.5h1v1h-1zM98.5 312.5h1v1h-1zM97.5 316.5h1v1h-1zM107.5 316h1v1h-1zM66.5 318.5h1v1h-1zM60 321h1v1h-1zM112 313h1v1h-1zM84 317h1v1h-1zM104 313h1v1h-1zM127.5 315h1v1h-1zM99 316.5h1v1h-1zM74 320h1v1h-1zM65.5 319h1v1h-1zM53.5 327h1v1h-1zM68 323h1v1h-1zM79 323h1v1h-1zM51.5 322.5h1v1h-1zM67 322h1v1h-1zM138.5 307.5h1v1h-1zM131 311h1v1h-1zM149 313.5h1v1h-1zM105 311h1v1h-1zM51 321.5h1v1h-1zM65 316.5h1v1h-1zM58 329.5h1v1h-1zM104.5 310.5h1v1h-1zM142 306h1v1h-1zM142 307h1v1h-1zM105.5 310h1v1h-1zM58 323.5h1v1h-1zM143 310.5h1v1h-1zM66.5 319.5h1v1h-1zM110.5 313.5h1v1h-1zM121.5 314h1v1h-1zM80 318h1v1h-1zM111 309h1v1h-1zM113.5 312h1v1h-1zM106.5 314.5h1v1h-1zM83 316h1v1h-1zM105 319h1v1h-1zM84 318h1v1h-1zM66.5 324h1v1h-1zM105 312h1v1h-1zM71.5 324h1v1h-1zM116.5 314h1v1h-1zM129 313.5h1v1h-1zM101 317.5h1v1h-1zM59 319h1v1h-1zM53.5 322.5h1v1h-1zM120.5 313h1v1h-1zM118.5 311.5h1v1h-1zM111 313.5h1v1h-1zM69 323.5h1v1h-1zM132 306h1v1h-1zM75 319h1v1h-1zM106.5 313.5h1v1h-1zM92 320.5h1v1h-1zM113 310.5h1v1h-1zM159 301.5h1v1h-1zM87.5 307h1v1h-1zM96 314h1v1h-1zM95 310h1v1h-1zM112.5 314.5h1v1h-1zM112 314.5h1v1h-1zM70.5 312.5h1v1h-1zM107 318.5h1v1h-1zM87 321h1v1h-1zM94.5 315.5h1v1h-1zM84.5 306h1v1h-1zM104 312h1v1h-1zM103.5 323.5h1v1h-1zM80.5 320.5h1v1h-1zM113.5 316h1v1h-1zM57 325.5h1v1h-1zM130 311h1v1h-1zM59 325h1v1h-1zM70.5 320h1v1h-1zM95 322h1v1h-1zM66 319.5h1v1h-1zM153 305.5h1v1h-1zM84 321.5h1v1h-1zM84.5 318h1v1h-1zM109 311.5h1v1h-1zM119 316.5h1v1h-1zM76.5 311h1v1h-1zM61 320h1v1h-1zM93 313h1v1h-1zM60.5 324h1v1h-1zM145 310.5h1v1h-1zM64.5 319h1v1h-1zM93.5 322.5h1v1h-1zM93 319.5h1v1h-1zM79.5 319.5h1v1h-1zM70 325.5h1v1h-1zM90 322h1v1h-1zM89 321.5h1v1h-1zM87 313h1v1h-1zM82.5 325h1v1h-1zM65.5 322.5h1v1h-1zM78.5 312.5h1v1h-1zM66 322.5h1v1h-1zM82.5 314h1v1h-1zM87.5 323h1v1h-1zM46.5 337.5h1v1h-1zM82 315.5h1v1h-1zM62 325.5h1v1h-1zM94.5 318.5h1v1h-1zM104.5 314.5h1v1h-1zM95 311.5h1v1h-1zM122.5 310.5h1v1h-1zM92 312.5h1v1h-1zM59 321h1v1h-1zM82.5 312.5h1v1h-1zM80.5 322h1v1h-1zM76 313.5h1v1h-1zM91.5 317.5h1v1h-1zM109.5 315.5h1v1h-1zM97 313h1v1h-1zM46.5 335.5h1v1h-1zM118.5 309.5h1v1h-1zM65 317h1v1h-1zM101.5 311h1v1h-1zM69 316h1v1h-1zM108.5 315.5h1v1h-1zM91.5 310h1v1h-1zM103.5 308.5h1v1h-1zM72.5 316h1v1h-1zM84 325h1v1h-1zM73.5 321h1v1h-1zM48.5 330h1v1h-1zM107.5 307.5h1v1h-1zM79 315.5h1v1h-1zM65 327h1v1h-1zM151.5 306.5h1v1h-1zM76 324.5h1v1h-1zM66.5 321h1v1h-1zM98.5 324.5h1v1h-1zM96 316h1v1h-1zM82 316.5h1v1h-1zM45 335h1v1h-1zM80.5 321h1v1h-1zM48.5 323.5h1v1h-1zM61.5 323.5h1v1h-1zM87.5 321.5h1v1h-1zM71.5 316h1v1h-1zM153.5 306h1v1h-1zM125.5 312h1v1h-1zM90 318h1v1h-1zM66.5 314h1v1h-1zM91.5 323h1v1h-1zM75.5 322h1v1h-1zM125.5 312.5h1v1h-1zM159.5 300.5h1v1h-1zM64 320.5h1v1h-1zM91.5 326.5h1v1h-1zM114.5 313h1v1h-1zM95 306h1v1h-1zM82.5 318.5h1v1h-1zM97.5 322h1v1h-1zM62 316.5h1v1h-1zM50.5 325h1v1h-1zM88.5 308h1v1h-1zM77 326.5h1v1h-1zM97.5 311h1v1h-1zM108.5 308h1v1h-1zM121 309.5h1v1h-1zM64.5 325.5h1v1h-1zM60 317.5h1v1h-1zM131 309h1v1h-1zM69.5 314h1v1h-1zM84.5 316h1v1h-1zM86 326h1v1h-1zM103 314.5h1v1h-1zM131.5 312h1v1h-1zM121 313.5h1v1h-1zM81 318h1v1h-1zM51 324.5h1v1h-1zM94 319h1v1h-1zM121.5 315.5h1v1h-1zM113 316.5h1v1h-1zM106.5 317.5h1v1h-1zM93.5 320h1v1h-1zM72 323.5h1v1h-1zM78 324.5h1v1h-1zM78 313.5h1v1h-1zM77.5 311h1v1h-1zM139.5 306h1v1h-1zM63 324h1v1h-1zM64 316h1v1h-1zM102 312.5h1v1h-1zM113 314.5h1v1h-1zM130 311.5h1v1h-1zM105.5 311h1v1h-1zM114 315h1v1h-1zM100 312.5h1v1h-1zM52 324.5h1v1h-1zM108 312.5h1v1h-1zM96 314.5h1v1h-1zM118.5 317h1v1h-1zM132 312.5h1v1h-1zM64.5 318.5h1v1h-1zM67.5 323h1v1h-1zM81 317h1v1h-1zM92 325h1v1h-1zM93 312h1v1h-1zM88 321.5h1v1h-1zM59.5 322h1v1h-1zM67 318.5h1v1h-1zM66 320h1v1h-1zM47.5 335h1v1h-1zM142 308.5h1v1h-1zM59.5 319.5h1v1h-1zM144.5 308.5h1v1h-1zM66.5 323h1v1h-1zM166.5 298h1v1h-1zM112.5 309h1v1h-1zM76.5 316h1v1h-1zM63.5 317h1v1h-1zM102 307h1v1h-1zM171.5 302h1v1h-1zM71.5 320h1v1h-1zM83 325h1v1h-1zM171 300h1v1h-1zM113 309.5h1v1h-1zM97 317h1v1h-1zM113 311h1v1h-1zM100.5 311h1v1h-1zM101.5 317h1v1h-1zM115.5 313h1v1h-1zM94.5 312.5h1v1h-1zM87.5 319.5h1v1h-1zM80 318.5h1v1h-1zM105 319.5h1v1h-1zM99 313h1v1h-1zM112.5 315.5h1v1h-1zM107 308.5h1v1h-1zM107 312h1v1h-1zM93 320.5h1v1h-1zM110.5 317.5h1v1h-1zM121 310h1v1h-1zM107 315h1v1h-1zM103 314h1v1h-1zM95 311h1v1h-1zM63 332h1v1h-1zM145 311h1v1h-1zM96 320.5h1v1h-1zM113.5 313.5h1v1h-1zM165.5 305h1v1h-1zM76.5 313.5h1v1h-1zM86 322.5h1v1h-1zM90 314h1v1h-1zM59 324.5h1v1h-1zM100 315h1v1h-1zM96 318h1v1h-1zM80.5 327.5h1v1h-1zM117 311h1v1h-1zM76 315.5h1v1h-1zM165.5 301.5h1v1h-1zM122.5 306.5h1v1h-1zM130.5 310.5h1v1h-1zM53.5 325h1v1h-1zM69.5 328h1v1h-1zM75.5 326h1v1h-1zM91.5 324h1v1h-1zM84.5 322.5h1v1h-1zM51.5 329.5h1v1h-1zM114 315.5h1v1h-1zM114.5 311h1v1h-1zM89 319.5h1v1h-1zM94.5 322.5h1v1h-1zM97.5 308.5h1v1h-1zM78 320h1v1h-1zM93 323h1v1h-1zM92.5 309h1v1h-1zM128.5 308h1v1h-1zM90.5 306.5h1v1h-1zM79 319.5h1v1h-1zM123 311h1v1h-1zM108 315.5h1v1h-1zM53.5 326h1v1h-1zM101.5 319h1v1h-1zM99.5 314h1v1h-1zM147 303h1v1h-1zM61.5 319.5h1v1h-1zM155 306h1v1h-1zM65.5 323.5h1v1h-1zM81 310.5h1v1h-1zM148.5 302h1v1h-1zM75.5 315.5h1v1h-1zM110.5 309h1v1h-1zM92.5 313h1v1h-1zM67 318h1v1h-1zM68.5 323h1v1h-1zM106 321h1v1h-1zM107.5 315h1v1h-1zM61 322h1v1h-1zM128.5 307h1v1h-1zM73 321h1v1h-1zM71 317.5h1v1h-1zM76 312.5h1v1h-1zM102 318.5h1v1h-1zM50.5 330.5h1v1h-1zM84 312.5h1v1h-1zM82.5 315.5h1v1h-1zM107 314h1v1h-1zM88 314.5h1v1h-1zM71.5 323.5h1v1h-1zM102 316.5h1v1h-1zM88.5 319h1v1h-1zM164.5 300.5h1v1h-1zM122.5 313.5h1v1h-1zM93 321h1v1h-1zM122.5 307.5h1v1h-1zM62 320h1v1h-1zM71 328h1v1h-1zM90.5 317h1v1h-1zM51.5 327.5h1v1h-1zM139 305h1v1h-1zM94 321h1v1h-1zM89 309.5h1v1h-1zM127.5 309h1v1h-1zM94.5 321.5h1v1h-1zM90.5 309.5h1v1h-1zM46.5 338.5h1v1h-1zM71.5 315h1v1h-1zM123 315h1v1h-1zM58 318.5h1v1h-1zM101.5 320.5h1v1h-1zM119.5 312h1v1h-1zM146 306h1v1h-1zM101 312.5h1v1h-1zM68.5 325.5h1v1h-1zM48.5 326.5h1v1h-1zM94 322.5h1v1h-1zM67 314h1v1h-1zM101 312h1v1h-1zM122 309h1v1h-1zM99 318h1v1h-1zM101 322h1v1h-1zM118 313h1v1h-1zM98.5 320h1v1h-1zM92.5 320h1v1h-1zM83.5 314h1v1h-1zM110.5 311h1v1h-1zM136.5 309.5h1v1h-1zM112.5 313.5h1v1h-1zM75 314h1v1h-1zM60.5 323.5h1v1h-1zM98 326h1v1h-1zM47.5 335.5h1v1h-1zM76.5 327.5h1v1h-1zM92 313.5h1v1h-1zM57 323.5h1v1h-1zM87 324.5h1v1h-1zM111 305.5h1v1h-1zM65.5 324.5h1v1h-1zM55 328.5h1v1h-1zM119 308.5h1v1h-1zM70 316.5h1v1h-1zM55.5 333h1v1h-1zM155 305.5h1v1h-1zM67 325.5h1v1h-1zM54 327h1v1h-1zM56.5 321.5h1v1h-1zM50 329h1v1h-1zM79.5 317h1v1h-1zM126 308.5h1v1h-1zM76.5 318.5h1v1h-1zM90.5 313h1v1h-1zM103 308.5h1v1h-1zM100 325h1v1h-1zM77.5 314.5h1v1h-1zM62 319.5h1v1h-1zM79.5 323.5h1v1h-1zM111.5 309.5h1v1h-1zM98 317.5h1v1h-1zM90 312h1v1h-1zM116.5 310h1v1h-1zM82.5 320h1v1h-1zM68 318h1v1h-1zM110 314.5h1v1h-1zM49 330.5h1v1h-1zM102.5 309.5h1v1h-1zM107 310h1v1h-1zM94.5 315h1v1h-1zM118.5 306h1v1h-1zM83 315.5h1v1h-1zM97 317.5h1v1h-1zM73 323h1v1h-1zM91 305.5h1v1h-1zM90.5 310.5h1v1h-1zM72 313.5h1v1h-1zM80.5 325.5h1v1h-1zM100 312h1v1h-1zM145 307h1v1h-1zM53.5 321.5h1v1h-1zM65.5 321.5h1v1h-1zM99.5 316h1v1h-1zM92.5 319.5h1v1h-1zM55 326.5h1v1h-1zM130.5 313h1v1h-1zM89.5 307.5h1v1h-1zM93.5 315h1v1h-1zM77 318h1v1h-1zM54 328h1v1h-1zM66 329.5h1v1h-1zM61.5 316h1v1h-1zM71.5 322.5h1v1h-1zM110 311.5h1v1h-1zM170 299.5h1v1h-1zM163.5 302h1v1h-1zM51.5 329h1v1h-1zM114 307h1v1h-1zM64 317.5h1v1h-1zM62.5 320.5h1v1h-1zM115.5 325h1v1h-1zM109.5 317h1v1h-1zM74 319h1v1h-1zM129 308.5h1v1h-1zM48.5 328.5h1v1h-1zM144 307h1v1h-1zM61.5 318.5h1v1h-1zM97 311h1v1h-1zM119 309h1v1h-1zM96 313h1v1h-1zM63 317h1v1h-1zM107.5 314h1v1h-1zM120.5 309.5h1v1h-1zM83.5 324h1v1h-1zM157.5 303h1v1h-1zM104 317h1v1h-1zM58.5 325h1v1h-1zM70 318h1v1h-1zM82 324.5h1v1h-1zM92.5 311h1v1h-1zM88 312h1v1h-1zM64 319.5h1v1h-1zM101.5 318h1v1h-1zM96.5 320.5h1v1h-1zM88.5 320h1v1h-1zM99.5 318h1v1h-1zM56.5 325.5h1v1h-1zM108 310h1v1h-1zM64 321h1v1h-1zM86 314.5h1v1h-1zM154 304h1v1h-1zM74 321.5h1v1h-1zM69.5 324.5h1v1h-1zM106.5 315h1v1h-1zM59.5 318h1v1h-1zM70 315h1v1h-1zM122 312.5h1v1h-1zM69 315.5h1v1h-1zM125 309.5h1v1h-1zM128 310h1v1h-1zM78 321h1v1h-1zM83 323.5h1v1h-1zM97.5 317h1v1h-1zM91.5 318.5h1v1h-1zM127.5 306.5h1v1h-1zM101.5 320h1v1h-1zM83 324.5h1v1h-1zM91 318.5h1v1h-1zM107 314.5h1v1h-1zM156.5 304h1v1h-1zM82.5 324h1v1h-1zM109.5 318h1v1h-1zM115 309.5h1v1h-1zM109.5 310h1v1h-1zM143.5 305h1v1h-1zM75.5 317h1v1h-1zM81 324h1v1h-1zM123 312.5h1v1h-1zM48 332h1v1h-1zM92.5 321.5h1v1h-1zM107 315.5h1v1h-1zM62 318h1v1h-1zM139 306h1v1h-1zM59 324h1v1h-1zM104.5 315.5h1v1h-1zM65 313h1v1h-1zM84 315.5h1v1h-1zM110 310.5h1v1h-1zM75 327h1v1h-1zM166 303.5h1v1h-1zM70 325h1v1h-1zM65.5 315.5h1v1h-1zM96 311.5h1v1h-1zM69 321.5h1v1h-1zM115 314h1v1h-1zM110.5 319h1v1h-1zM128 309.5h1v1h-1zM113 317h1v1h-1zM88.5 320.5h1v1h-1zM91 316.5h1v1h-1zM101 315h1v1h-1zM94 320.5h1v1h-1zM142 309.5h1v1h-1zM68 328h1v1h-1zM72 315.5h1v1h-1zM96 309.5h1v1h-1zM63 321.5h1v1h-1zM125 310h1v1h-1zM89 319h1v1h-1zM97.5 309.5h1v1h-1zM91 323h1v1h-1zM71 318.5h1v1h-1zM147 304.5h1v1h-1zM61 322.5h1v1h-1zM62 321.5h1v1h-1zM100 310h1v1h-1zM112 311.5h1v1h-1zM142.5 304h1v1h-1zM57 326h1v1h-1zM115 309h1v1h-1zM88.5 316h1v1h-1zM73.5 316h1v1h-1zM65 327.5h1v1h-1zM109 318h1v1h-1zM110.5 310.5h1v1h-1zM48.5 328h1v1h-1zM65 320h1v1h-1zM56.5 319h1v1h-1zM66 315h1v1h-1zM62.5 325h1v1h-1zM132.5 310.5h1v1h-1zM119 314h1v1h-1zM150.5 305h1v1h-1zM58 322.5h1v1h-1zM90.5 322.5h1v1h-1zM64 324.5h1v1h-1zM104 315.5h1v1h-1zM82 319.5h1v1h-1zM101 306.5h1v1h-1zM116 313h1v1h-1zM77 324.5h1v1h-1zM68 326.5h1v1h-1zM91 314h1v1h-1zM99.5 321h1v1h-1zM165 303.5h1v1h-1zM102 318h1v1h-1zM100.5 315h1v1h-1zM110.5 307h1v1h-1zM59.5 321h1v1h-1zM92 310.5h1v1h-1zM73.5 326h1v1h-1zM114 313.5h1v1h-1zM73 318h1v1h-1zM89.5 324h1v1h-1zM68.5 314.5h1v1h-1zM126.5 301h1v1h-1zM77.5 319.5h1v1h-1zM71 327.5h1v1h-1zM76.5 322h1v1h-1zM106 312h1v1h-1zM89.5 321h1v1h-1zM88 309h1v1h-1zM101.5 319.5h1v1h-1zM102 314h1v1h-1zM118 312h1v1h-1zM81.5 322.5h1v1h-1zM85.5 313h1v1h-1zM65 329h1v1h-1zM142.5 305.5h1v1h-1zM89 317h1v1h-1zM74 317h1v1h-1zM104.5 308.5h1v1h-1zM103.5 318h1v1h-1zM54.5 321.5h1v1h-1zM81 313h1v1h-1zM63 321h1v1h-1zM67 312.5h1v1h-1zM125 309h1v1h-1zM81 309h1v1h-1zM106 309h1v1h-1zM83 313.5h1v1h-1zM117.5 312h1v1h-1zM108.5 307h1v1h-1zM99.5 311h1v1h-1zM103 311h1v1h-1zM63.5 328h1v1h-1zM92 317.5h1v1h-1zM86.5 320.5h1v1h-1zM45.5 337.5h1v1h-1zM165 299h1v1h-1zM52 315h1v1h-1zM88.5 321.5h1v1h-1zM75 315.5h1v1h-1zM65.5 326.5h1v1h-1zM95.5 312.5h1v1h-1zM129 309h1v1h-1zM114 314h1v1h-1zM102.5 317.5h1v1h-1zM91 312h1v1h-1zM121 307h1v1h-1zM132.5 311.5h1v1h-1zM80 316.5h1v1h-1zM98.5 314h1v1h-1zM78 330h1v1h-1zM142.5 308.5h1v1h-1zM131.5 308h1v1h-1zM69.5 312h1v1h-1zM44.5 334h1v1h-1zM79.5 324h1v1h-1zM60 319.5h1v1h-1zM74 314h1v1h-1zM114.5 310.5h1v1h-1zM101 310h1v1h-1zM117.5 306h1v1h-1zM138.5 307h1v1h-1zM145 305.5h1v1h-1zM108 309.5h1v1h-1zM104.5 317.5h1v1h-1zM102.5 310.5h1v1h-1zM55 318.5h1v1h-1zM159.5 304.5h1v1h-1zM156 307h1v1h-1zM169.5 304.5h1v1h-1zM83.5 323h1v1h-1zM89 312.5h1v1h-1zM66 324.5h1v1h-1zM99.5 322h1v1h-1zM100 320.5h1v1h-1zM125.5 315h1v1h-1zM87.5 329h1v1h-1zM117 310h1v1h-1zM65.5 322h1v1h-1zM110 316h1v1h-1zM133.5 311.5h1v1h-1zM97 318.5h1v1h-1zM83.5 323.5h1v1h-1zM135 310h1v1h-1zM124 309h1v1h-1zM75.5 325.5h1v1h-1zM65.5 329.5h1v1h-1zM51.5 325h1v1h-1zM68.5 314h1v1h-1zM58.5 314h1v1h-1zM77.5 324.5h1v1h-1zM128.5 306.5h1v1h-1zM106 312.5h1v1h-1zM100 320h1v1h-1zM58 327h1v1h-1zM108.5 312h1v1h-1zM99 311.5h1v1h-1zM105 307.5h1v1h-1zM80.5 307h1v1h-1zM112.5 315h1v1h-1zM67.5 327.5h1v1h-1zM56.5 325h1v1h-1zM75 309h1v1h-1zM102.5 321.5h1v1h-1zM64 322h1v1h-1zM78.5 314h1v1h-1zM80 314h1v1h-1zM108 314.5h1v1h-1zM134 311h1v1h-1zM120 305.5h1v1h-1zM112 308.5h1v1h-1zM98.5 310h1v1h-1zM58 331h1v1h-1zM107 311h1v1h-1zM59 325.5h1v1h-1zM63.5 318h1v1h-1zM97 314.5h1v1h-1zM110 311h1v1h-1zM103 311.5h1v1h-1zM94.5 325h1v1h-1zM84 323.5h1v1h-1zM163.5 312h1v1h-1zM95.5 320h1v1h-1zM79 314.5h1v1h-1zM78 332h1v1h-1zM121 312h1v1h-1zM97 312h1v1h-1zM161 302.5h1v1h-1zM76 309h1v1h-1zM62 315h1v1h-1zM96 311h1v1h-1zM89 324.5h1v1h-1zM77.5 318h1v1h-1zM74 322h1v1h-1zM78 325.5h1v1h-1zM106.5 321.5h1v1h-1zM89.5 312.5h1v1h-1zM127 311.5h1v1h-1zM74.5 319h1v1h-1zM70 313.5h1v1h-1zM74 321h1v1h-1zM82 315h1v1h-1zM86 311h1v1h-1zM101 316h1v1h-1zM100.5 321.5h1v1h-1zM77.5 322.5h1v1h-1zM108 319h1v1h-1zM59 321.5h1v1h-1zM80.5 324h1v1h-1zM64.5 324.5h1v1h-1zM71 314.5h1v1h-1zM49 321.5h1v1h-1zM114.5 313.5h1v1h-1zM75 323.5h1v1h-1zM109 312h1v1h-1zM79 324h1v1h-1zM107.5 312.5h1v1h-1zM94 320h1v1h-1zM82 328h1v1h-1zM52 327h1v1h-1zM63 316.5h1v1h-1zM63.5 321h1v1h-1zM50 328h1v1h-1zM55 325.5h1v1h-1zM101.5 323h1v1h-1zM103 308h1v1h-1zM95 307h1v1h-1zM77 325h1v1h-1zM71.5 323h1v1h-1zM97.5 320.5h1v1h-1zM99 323h1v1h-1zM111 311.5h1v1h-1zM103.5 316h1v1h-1zM55 317h1v1h-1zM77 314.5h1v1h-1zM115 306.5h1v1h-1zM76 323h1v1h-1zM112.5 313h1v1h-1zM46 332.5h1v1h-1zM80 324h1v1h-1zM88.5 323h1v1h-1zM77.5 313.5h1v1h-1zM70.5 311.5h1v1h-1zM66.5 327h1v1h-1zM77 314h1v1h-1zM114.5 315.5h1v1h-1zM115.5 310.5h1v1h-1zM87.5 310h1v1h-1zM85.5 322h1v1h-1zM70 321h1v1h-1zM65.5 327.5h1v1h-1zM102.5 312h1v1h-1zM95 321h1v1h-1zM98.5 312h1v1h-1zM102.5 313h1v1h-1zM86.5 325h1v1h-1zM67 329.5h1v1h-1zM75 314.5h1v1h-1zM61 320.5h1v1h-1zM123.5 309.5h1v1h-1zM150.5 304.5h1v1h-1zM76.5 305h1v1h-1zM114.5 311.5h1v1h-1zM58.5 326h1v1h-1zM76 319h1v1h-1zM61.5 326.5h1v1h-1zM89 323h1v1h-1zM123.5 304.5h1v1h-1zM101.5 318.5h1v1h-1zM64.5 317h1v1h-1zM77 325.5h1v1h-1zM56 323.5h1v1h-1zM101 305.5h1v1h-1zM82.5 319h1v1h-1zM95 319h1v1h-1zM153.5 305.5h1v1h-1zM69.5 319.5h1v1h-1zM89.5 312h1v1h-1zM85.5 312.5h1v1h-1zM72 317.5h1v1h-1zM77.5 325.5h1v1h-1zM93.5 315.5h1v1h-1zM74.5 323.5h1v1h-1zM99 312.5h1v1h-1zM74.5 322h1v1h-1zM68.5 330h1v1h-1zM170 305h1v1h-1zM109 307h1v1h-1zM90.5 324h1v1h-1zM106 319h1v1h-1zM65.5 317.5h1v1h-1zM84.5 323.5h1v1h-1zM126 313.5h1v1h-1zM111 314h1v1h-1zM145 311.5h1v1h-1zM92.5 308h1v1h-1zM57.5 318h1v1h-1zM66.5 309.5h1v1h-1zM104.5 312h1v1h-1zM118 309h1v1h-1zM106.5 315.5h1v1h-1zM122 305.5h1v1h-1zM150 301h1v1h-1zM121 314.5h1v1h-1zM50.5 329.5h1v1h-1zM64.5 320h1v1h-1zM128 307.5h1v1h-1zM75 326.5h1v1h-1zM101.5 315.5h1v1h-1zM117 315h1v1h-1zM140 305.5h1v1h-1zM125.5 311h1v1h-1zM137.5 309.5h1v1h-1zM106.5 314h1v1h-1zM109 315.5h1v1h-1zM123.5 308h1v1h-1zM54 326.5h1v1h-1zM66.5 329h1v1h-1zM85.5 323.5h1v1h-1zM66.5 320.5h1v1h-1zM53 324.5h1v1h-1zM52 321h1v1h-1zM67.5 317.5h1v1h-1zM74 315h1v1h-1zM77.5 314h1v1h-1zM106 314.5h1v1h-1zM81.5 327.5h1v1h-1zM83.5 312h1v1h-1zM73 324.5h1v1h-1zM101 320h1v1h-1zM131.5 310h1v1h-1zM126 317h1v1h-1zM72 322.5h1v1h-1zM101 310.5h1v1h-1zM91 327h1v1h-1zM155.5 306h1v1h-1zM128 308h1v1h-1zM62.5 320h1v1h-1zM90.5 325.5h1v1h-1zM91 323.5h1v1h-1zM64.5 328h1v1h-1zM81.5 315h1v1h-1zM148.5 306h1v1h-1zM144.5 307.5h1v1h-1zM74 325h1v1h-1zM50.5 331.5h1v1h-1zM103 319.5h1v1h-1zM122 308.5h1v1h-1zM108 318.5h1v1h-1zM61 323h1v1h-1zM165.5 303h1v1h-1zM88 311.5h1v1h-1zM88 318.5h1v1h-1zM115 307h1v1h-1zM112.5 316.5h1v1h-1zM107 305.5h1v1h-1zM85 321h1v1h-1zM101 306h1v1h-1zM73.5 324.5h1v1h-1zM140.5 303.5h1v1h-1zM162.5 306h1v1h-1zM46 333.5h1v1h-1zM136 311h1v1h-1zM62.5 326h1v1h-1zM79 322h1v1h-1zM129.5 310h1v1h-1zM78.5 318h1v1h-1zM89.5 315h1v1h-1zM92.5 328h1v1h-1zM81 325.5h1v1h-1zM132 302.5h1v1h-1zM140.5 302.5h1v1h-1zM150 305.5h1v1h-1zM63 317.5h1v1h-1zM78.5 323.5h1v1h-1zM82 309h1v1h-1zM55.5 321.5h1v1h-1zM45.5 329.5h1v1h-1zM92.5 312.5h1v1h-1zM123.5 311h1v1h-1zM109 314h1v1h-1zM82 326.5h1v1h-1zM79 326.5h1v1h-1zM63 328h1v1h-1zM80 325h1v1h-1zM113 312.5h1v1h-1zM108.5 320h1v1h-1zM141 309.5h1v1h-1zM62.5 319.5h1v1h-1zM80.5 306.5h1v1h-1zM141 312h1v1h-1zM97.5 320h1v1h-1zM66.5 322h1v1h-1zM98 310h1v1h-1zM68.5 328h1v1h-1zM171 296h1v1h-1zM47 332h1v1h-1zM125 312h1v1h-1zM69 317h1v1h-1zM58.5 320.5h1v1h-1zM67 316.5h1v1h-1zM90 313.5h1v1h-1zM104 310h1v1h-1zM68.5 313.5h1v1h-1zM82.5 320.5h1v1h-1zM118 312.5h1v1h-1zM103.5 317h1v1h-1zM79 317h1v1h-1zM130 308.5h1v1h-1zM81.5 312.5h1v1h-1zM104 319h1v1h-1zM118.5 311h1v1h-1zM68 313.5h1v1h-1zM46 338h1v1h-1zM78 326h1v1h-1zM82.5 315h1v1h-1zM73 316h1v1h-1zM54.5 329h1v1h-1zM106 313h1v1h-1zM149 308h1v1h-1zM119.5 316h1v1h-1zM142 312.5h1v1h-1zM129 310h1v1h-1zM75 318h1v1h-1zM130 307.5h1v1h-1zM135 309.5h1v1h-1zM56 330.5h1v1h-1zM117 314h1v1h-1zM110 313.5h1v1h-1zM109.5 310.5h1v1h-1zM96.5 310.5h1v1h-1zM117.5 310.5h1v1h-1zM163.5 306.5h1v1h-1zM70 324.5h1v1h-1zM92.5 306.5h1v1h-1zM122.5 310h1v1h-1zM94 312h1v1h-1zM73.5 312.5h1v1h-1zM64.5 326h1v1h-1zM51.5 326.5h1v1h-1zM67.5 316h1v1h-1zM107.5 310h1v1h-1zM111 318h1v1h-1zM74.5 317.5h1v1h-1zM136.5 308h1v1h-1zM111.5 309h1v1h-1zM55.5 318.5h1v1h-1zM118.5 312h1v1h-1zM120 315.5h1v1h-1zM60 319h1v1h-1zM102 310h1v1h-1zM84 320h1v1h-1zM134 305h1v1h-1zM130 309.5h1v1h-1zM121 311h1v1h-1zM97.5 315.5h1v1h-1zM135 307h1v1h-1zM166.5 304.5h1v1h-1zM63.5 324.5h1v1h-1zM87 306.5h1v1h-1zM172 303.5h1v1h-1zM124.5 307h1v1h-1zM84 312h1v1h-1zM86 311.5h1v1h-1zM108 320.5h1v1h-1zM108 308h1v1h-1zM108 315h1v1h-1zM64 314.5h1v1h-1zM44.5 337.5h1v1h-1zM145 308.5h1v1h-1zM102 319h1v1h-1zM67 316h1v1h-1zM74.5 315h1v1h-1zM114 316.5h1v1h-1zM62 322.5h1v1h-1zM119.5 313h1v1h-1zM68.5 316h1v1h-1zM130.5 308.5h1v1h-1zM53.5 323h1v1h-1zM98.5 319h1v1h-1zM79.5 333h1v1h-1zM133 307.5h1v1h-1zM160 304h1v1h-1zM143 309.5h1v1h-1zM86.5 317h1v1h-1zM68 329h1v1h-1zM94.5 314h1v1h-1zM65.5 325h1v1h-1zM91.5 325.5h1v1h-1zM62 317.5h1v1h-1zM139 304h1v1h-1zM55 330.5h1v1h-1zM63 326h1v1h-1zM86 332h1v1h-1zM127 312.5h1v1h-1zM124 315h1v1h-1zM66 329h1v1h-1zM95.5 309.5h1v1h-1zM69.5 326.5h1v1h-1zM73.5 318h1v1h-1zM63 323.5h1v1h-1zM92.5 320.5h1v1h-1zM90 325.5h1v1h-1zM51 333h1v1h-1zM56.5 327.5h1v1h-1zM86 325h1v1h-1zM83.5 328h1v1h-1zM119.5 312.5h1v1h-1zM96.5 319.5h1v1h-1zM112 309.5h1v1h-1zM114 313h1v1h-1zM102.5 307h1v1h-1zM122.5 308.5h1v1h-1zM46 331h1v1h-1zM119 311.5h1v1h-1zM87 322h1v1h-1zM166.5 299h1v1h-1zM55.5 319.5h1v1h-1zM81 324.5h1v1h-1zM144 309h1v1h-1zM122.5 311h1v1h-1zM108 316h1v1h-1zM89.5 308.5h1v1h-1zM139 313h1v1h-1zM102.5 311.5h1v1h-1zM78.5 322h1v1h-1zM57.5 325.5h1v1h-1zM122 314.5h1v1h-1zM58.5 323.5h1v1h-1zM92.5 327.5h1v1h-1zM72 325.5h1v1h-1zM110.5 314h1v1h-1zM105 315.5h1v1h-1zM147 310.5h1v1h-1zM77 315.5h1v1h-1zM67 324h1v1h-1zM80.5 315h1v1h-1zM131.5 306.5h1v1h-1zM60 327.5h1v1h-1zM107 310.5h1v1h-1zM104.5 311h1v1h-1zM119.5 311h1v1h-1zM116 308.5h1v1h-1zM64.5 330h1v1h-1zM166 304h1v1h-1zM97 314h1v1h-1zM70.5 321h1v1h-1zM89.5 314h1v1h-1zM53.5 322h1v1h-1zM85.5 327.5h1v1h-1zM115.5 318.5h1v1h-1zM62.5 323.5h1v1h-1zM104.5 314h1v1h-1zM113.5 317h1v1h-1zM49.5 328h1v1h-1zM113.5 318.5h1v1h-1zM108.5 313h1v1h-1zM64 320h1v1h-1zM91 321.5h1v1h-1zM79.5 310.5h1v1h-1zM75.5 313.5h1v1h-1zM98 314h1v1h-1zM100 322.5h1v1h-1zM81 313.5h1v1h-1zM51.5 328.5h1v1h-1zM90.5 325h1v1h-1zM54 330.5h1v1h-1zM81.5 323.5h1v1h-1zM109.5 309.5h1v1h-1zM91.5 306h1v1h-1zM101 311h1v1h-1zM104 309.5h1v1h-1zM113 316h1v1h-1zM59 316h1v1h-1zM95 315h1v1h-1zM111.5 308.5h1v1h-1zM46 351.5h1v1h-1zM126 314.5h1v1h-1zM115.5 309h1v1h-1zM136 313.5h1v1h-1zM65.5 321h1v1h-1zM113 315h1v1h-1zM58 331.5h1v1h-1zM56 321h1v1h-1zM55.5 327h1v1h-1zM63.5 323.5h1v1h-1zM132 310h1v1h-1zM123 309h1v1h-1zM101 320.5h1v1h-1zM151 301h1v1h-1zM119 313h1v1h-1zM81.5 313h1v1h-1zM138.5 306.5h1v1h-1zM141.5 311h1v1h-1zM77 328h1v1h-1zM113 306.5h1v1h-1zM142 305h1v1h-1zM61 319h1v1h-1zM133.5 308.5h1v1h-1zM97 311.5h1v1h-1zM60.5 327.5h1v1h-1zM56.5 321h1v1h-1zM136 304.5h1v1h-1zM87.5 304.5h1v1h-1zM93.5 310.5h1v1h-1zM110.5 317h1v1h-1zM75.5 312h1v1h-1zM163 302.5h1v1h-1zM112 310h1v1h-1zM67.5 322.5h1v1h-1zM93 304h1v1h-1zM95.5 311h1v1h-1zM85 309.5h1v1h-1zM125 311h1v1h-1zM74 311.5h1v1h-1zM79.5 312.5h1v1h-1zM68 320.5h1v1h-1zM105 325.5h1v1h-1zM126.5 308.5h1v1h-1zM53 332.5h1v1h-1zM126.5 314h1v1h-1zM71.5 317h1v1h-1zM76.5 320h1v1h-1zM74 324.5h1v1h-1zM44.5 336.5h1v1h-1zM103 304h1v1h-1zM64.5 323.5h1v1h-1zM73 319h1v1h-1zM115.5 316h1v1h-1zM74.5 326h1v1h-1zM78 328h1v1h-1zM96 320h1v1h-1zM69 322h1v1h-1zM55 324h1v1h-1zM82 313h1v1h-1zM112 311h1v1h-1zM68.5 327.5h1v1h-1zM59.5 327h1v1h-1zM71 331h1v1h-1zM101 316.5h1v1h-1zM119.5 317h1v1h-1zM113 313.5h1v1h-1zM90 324h1v1h-1zM95.5 314.5h1v1h-1zM119.5 314h1v1h-1zM105.5 312.5h1v1h-1zM124 314h1v1h-1zM150.5 301.5h1v1h-1zM97.5 321h1v1h-1zM148 307h1v1h-1zM67.5 326h1v1h-1zM86.5 322.5h1v1h-1zM124.5 311.5h1v1h-1zM106.5 317h1v1h-1zM61.5 326h1v1h-1zM68.5 320h1v1h-1zM71 325.5h1v1h-1zM112 310.5h1v1h-1zM83 311.5h1v1h-1zM57 321h1v1h-1zM159 299.5h1v1h-1zM60 328h1v1h-1zM125 308.5h1v1h-1zM70.5 314.5h1v1h-1zM56 324.5h1v1h-1zM110.5 308h1v1h-1zM105.5 317.5h1v1h-1zM72 312.5h1v1h-1zM115.5 308.5h1v1h-1zM98.5 303.5h1v1h-1zM98 320h1v1h-1zM137 313.5h1v1h-1zM118 309.5h1v1h-1zM128.5 315h1v1h-1zM100 309h1v1h-1zM138 311.5h1v1h-1zM150.5 309h1v1h-1zM57.5 334h1v1h-1zM119.5 315h1v1h-1zM53 320h1v1h-1zM86 317.5h1v1h-1zM78 320.5h1v1h-1zM120.5 306h1v1h-1zM167.5 301h1v1h-1zM86 321.5h1v1h-1zM66.5 326h1v1h-1zM79 330.5h1v1h-1zM107.5 315.5h1v1h-1zM52.5 327h1v1h-1zM104 322h1v1h-1zM131 307.5h1v1h-1zM90.5 322h1v1h-1zM115 312h1v1h-1zM69 324h1v1h-1zM147.5 309.5h1v1h-1zM58.5 318h1v1h-1zM112.5 308.5h1v1h-1zM158 307.5h1v1h-1zM88.5 309.5h1v1h-1zM104 307.5h1v1h-1zM123 313.5h1v1h-1zM146.5 310.5h1v1h-1zM56 322.5h1v1h-1zM102.5 309h1v1h-1zM70 323.5h1v1h-1zM95 321.5h1v1h-1zM87 322.5h1v1h-1zM58.5 321h1v1h-1zM78.5 325h1v1h-1zM91.5 322.5h1v1h-1zM66.5 321.5h1v1h-1zM56 320.5h1v1h-1zM136.5 307.5h1v1h-1zM129.5 309.5h1v1h-1zM120 315h1v1h-1zM115 314.5h1v1h-1zM118 307.5h1v1h-1zM166.5 303h1v1h-1zM91.5 312h1v1h-1zM83.5 311.5h1v1h-1zM60.5 321h1v1h-1zM72.5 327h1v1h-1zM113.5 311.5h1v1h-1zM96.5 311h1v1h-1zM164.5 303h1v1h-1zM49 335.5h1v1h-1zM124.5 315.5h1v1h-1zM74 313h1v1h-1zM75.5 316.5h1v1h-1zM132.5 307.5h1v1h-1zM70.5 315.5h1v1h-1zM89 313.5h1v1h-1zM79.5 315.5h1v1h-1zM123.5 310.5h1v1h-1zM105 322h1v1h-1zM102.5 322h1v1h-1zM72.5 323.5h1v1h-1zM70.5 324.5h1v1h-1zM60 306h1v1h-1zM64.5 313.5h1v1h-1zM99.5 309h1v1h-1zM86.5 309h1v1h-1zM145.5 304.5h1v1h-1zM59 326.5h1v1h-1zM125 311.5h1v1h-1zM102.5 311h1v1h-1zM168.5 295.5h1v1h-1zM97.5 323h1v1h-1zM103 321.5h1v1h-1zM76.5 326h1v1h-1zM102 322.5h1v1h-1zM117.5 314.5h1v1h-1zM75 325.5h1v1h-1zM65 318.5h1v1h-1zM79 315h1v1h-1zM52.5 331.5h1v1h-1zM76 325.5h1v1h-1zM72.5 314h1v1h-1zM106.5 316h1v1h-1zM123.5 312h1v1h-1zM116.5 312h1v1h-1zM126.5 304h1v1h-1zM107.5 314.5h1v1h-1zM129 303.5h1v1h-1zM98.5 311.5h1v1h-1zM137 310h1v1h-1zM108 307.5h1v1h-1zM70 329h1v1h-1zM116 311.5h1v1h-1zM65.5 330.5h1v1h-1zM74.5 318.5h1v1h-1zM92.5 323.5h1v1h-1zM60.5 325h1v1h-1zM113 311.5h1v1h-1zM66.5 317h1v1h-1zM103 315h1v1h-1zM46.5 334.5h1v1h-1zM95 312h1v1h-1zM85.5 315h1v1h-1zM106.5 307.5h1v1h-1zM48 335.5h1v1h-1zM53 320.5h1v1h-1zM82.5 327.5h1v1h-1zM157.5 303.5h1v1h-1zM129.5 308h1v1h-1zM139.5 312.5h1v1h-1zM147.5 306.5h1v1h-1zM108 311.5h1v1h-1zM86.5 329h1v1h-1zM64 313h1v1h-1zM70.5 327h1v1h-1zM64.5 307.5h1v1h-1zM112.5 314h1v1h-1zM56.5 322h1v1h-1zM117.5 314h1v1h-1zM65.5 316h1v1h-1zM90.5 313.5h1v1h-1zM131 313h1v1h-1zM98 311h1v1h-1zM91 315h1v1h-1zM93 319h1v1h-1zM76 321.5h1v1h-1zM58.5 324.5h1v1h-1zM128.5 310h1v1h-1zM94.5 320h1v1h-1zM110.5 303h1v1h-1zM71 322.5h1v1h-1zM72 327h1v1h-1zM91.5 316.5h1v1h-1zM136 308h1v1h-1zM70.5 318.5h1v1h-1zM96 322h1v1h-1zM158.5 304.5h1v1h-1zM108.5 305.5h1v1h-1zM69.5 327h1v1h-1zM123 316.5h1v1h-1zM109.5 313h1v1h-1zM47 339h1v1h-1zM109 316h1v1h-1zM65.5 315h1v1h-1zM94 306.5h1v1h-1zM70 317h1v1h-1zM102 311.5h1v1h-1zM93.5 323.5h1v1h-1zM111 311h1v1h-1zM88 322h1v1h-1zM89.5 311.5h1v1h-1zM73 329.5h1v1h-1zM70 328.5h1v1h-1zM57.5 324h1v1h-1zM72.5 324h1v1h-1zM88 323h1v1h-1zM63.5 330.5h1v1h-1zM119.5 301.5h1v1h-1zM95 320.5h1v1h-1zM99 320.5h1v1h-1zM94 322h1v1h-1zM69.5 332.5h1v1h-1zM95.5 317.5h1v1h-1zM101 313h1v1h-1zM68.5 326.5h1v1h-1zM51 334h1v1h-1zM83.5 314.5h1v1h-1zM98 312h1v1h-1zM111 316.5h1v1h-1zM121.5 311.5h1v1h-1zM54 321h1v1h-1zM64 327.5h1v1h-1zM51.5 327h1v1h-1zM116.5 315h1v1h-1zM114 311h1v1h-1zM47 327h1v1h-1zM99.5 320.5h1v1h-1zM92.5 314.5h1v1h-1zM130 308h1v1h-1zM146 308.5h1v1h-1zM122.5 311.5h1v1h-1zM83.5 325.5h1v1h-1zM72.5 325h1v1h-1zM46.5 332.5h1v1h-1zM50 327.5h1v1h-1zM58 336h1v1h-1zM64.5 327h1v1h-1zM66.5 329.5h1v1h-1zM101 307h1v1h-1zM66 322h1v1h-1zM52 329.5h1v1h-1zM144.5 307h1v1h-1zM50 324.5h1v1h-1zM65 316h1v1h-1zM135 308h1v1h-1zM144.5 309.5h1v1h-1zM137.5 306.5h1v1h-1zM166.5 305h1v1h-1zM82 322h1v1h-1zM128.5 308.5h1v1h-1zM61 318h1v1h-1zM97.5 327.5h1v1h-1zM94.5 323h1v1h-1zM88.5 311h1v1h-1zM155.5 301.5h1v1h-1zM93.5 311h1v1h-1zM45 333h1v1h-1zM58 321.5h1v1h-1zM70.5 310.5h1v1h-1zM149 304.5h1v1h-1zM109.5 311h1v1h-1zM107.5 319.5h1v1h-1zM86 323.5h1v1h-1zM111.5 317.5h1v1h-1zM116 310h1v1h-1zM151.5 304h1v1h-1zM112.5 305h1v1h-1zM47 334h1v1h-1zM51 326.5h1v1h-1zM48.5 329h1v1h-1zM78 322.5h1v1h-1zM124.5 314.5h1v1h-1zM91.5 320.5h1v1h-1zM80.5 325h1v1h-1zM73 327h1v1h-1zM87.5 326h1v1h-1zM96 321.5h1v1h-1zM81.5 323h1v1h-1zM46.5 339h1v1h-1zM96.5 306h1v1h-1zM58 324h1v1h-1zM119 312.5h1v1h-1zM120.5 310h1v1h-1zM47 337h1v1h-1zM47.5 340.5h1v1h-1zM46 341h1v1h-1zM45.5 344h1v1h-1zM47.5 338.5h1v1h-1zM48 335h1v1h-1zM48 341h1v1h-1zM47.5 339h1v1h-1zM48 333h1v1h-1zM45 343.5h1v1h-1zM48.5 334.5h1v1h-1zM46.5 336.5h1v1h-1zM48 337h1v1h-1zM45 339h1v1h-1zM47 341h1v1h-1zM45.5 343.5h1v1h-1zM49.5 337h1v1h-1zM46.5 343.5h1v1h-1zM48.5 333.5h1v1h-1zM46 343.5h1v1h-1zM47 339.5h1v1h-1zM64 294.5h1v1h-1zM110 280.5h1v1h-1zM122.5 300.5h1v1h-1zM51.5 299h1v1h-1zM66.5 295.5h1v1h-1zM163 282h1v1h-1zM56.5 295h1v1h-1zM64 297h1v1h-1zM165.5 295h1v1h-1zM125 289.5h1v1h-1zM94 286.5h1v1h-1zM111.5 295h1v1h-1zM130 294h1v1h-1zM82 281.5h1v1h-1zM65 300.5h1v1h-1zM145.5 298h1v1h-1zM131 291.5h1v1h-1zM111.5 297h1v1h-1zM149.5 300.5h1v1h-1zM116 298h1v1h-1zM169.5 288.5h1v1h-1zM73.5 297h1v1h-1zM116.5 301h1v1h-1zM108 296.5h1v1h-1zM92 297h1v1h-1zM121.5 288h1v1h-1zM77 296.5h1v1h-1zM147.5 298.5h1v1h-1zM155.5 292.5h1v1h-1zM64 289h1v1h-1zM106 280h1v1h-1zM82.5 284h1v1h-1zM58.5 294h1v1h-1zM159 294.5h1v1h-1zM101.5 302h1v1h-1zM66.5 292h1v1h-1zM131.5 285.5h1v1h-1zM73 288.5h1v1h-1zM160 293h1v1h-1zM75 287.5h1v1h-1zM52 285h1v1h-1zM73 301h1v1h-1zM91 287h1v1h-1zM106 300h1v1h-1zM160.5 280.5h1v1h-1zM161.5 294h1v1h-1zM154.5 292h1v1h-1zM141.5 297.5h1v1h-1zM149.5 296.5h1v1h-1zM151.5 298h1v1h-1zM157.5 289.5h1v1h-1zM167 298.5h1v1h-1zM115 293h1v1h-1zM147 296h1v1h-1zM114.5 298.5h1v1h-1zM134.5 281.5h1v1h-1zM157.5 286.5h1v1h-1zM165 292h1v1h-1zM156 294h1v1h-1zM107.5 296.5h1v1h-1zM129 296h1v1h-1zM116 289.5h1v1h-1zM172 291.5h1v1h-1zM114.5 292.5h1v1h-1zM121.5 300h1v1h-1zM129 294.5h1v1h-1zM109 295h1v1h-1zM163.5 294.5h1v1h-1zM147.5 289.5h1v1h-1zM115.5 296.5h1v1h-1zM138.5 299.5h1v1h-1zM110.5 299.5h1v1h-1zM146 297h1v1h-1zM120.5 284h1v1h-1zM107.5 301h1v1h-1z" fill="#000"/>
<path d="M228 313.5h1v1h-1zM229.5 317h1v1h-1zM259 310.5h1v1h-1zM220.5 313.5h1v1h-1zM243.5 310.5h1v1h-1zM251.5 303h1v1h-1zM225 313h1v1h-1zM219 324.5h1v1h-1zM228.5 319h1v1h-1zM246.5 306.5h1v1h-1zM241.5 304.5h1v1h-1zM223 313h1v1h-1zM235.5 312h1v1h-1zM247.5 315.5h1v1h-1zM235 305h1v1h-1zM245 310h1v1h-1zM301 287.5h1v1h-1zM248 312h1v1h-1zM233.5 309.5h1v1h-1zM225 302.5h1v1h-1zM231.5 315h1v1h-1zM239 312.5h1v1h-1zM270 301.5h1v1h-1zM255 307.5h1v1h-1zM230.5 305.5h1v1h-1zM278 290.5h1v1h-1zM237 308.5h1v1h-1zM249 313h1v1h-1zM221.5 309h1v1h-1zM221.5 321h1v1h-1zM225.5 305.5h1v1h-1zM269 307h1v1h-1zM248 300.5h1v1h-1zM263 300h1v1h-1zM246 303h1v1h-1zM234 311h1v1h-1zM239 310.5h1v1h-1zM243 309h1v1h-1zM265 297.5h1v1h-1zM235.5 308h1v1h-1zM270 304.5h1v1h-1zM244 311h1v1h-1zM260.5 302.5h1v1h-1zM238 315h1v1h-1zM248.5 303.5h1v1h-1zM231.5 311h1v1h-1zM239.5 310.5h1v1h-1zM226 315h1v1h-1zM221 318h1v1h-1zM218 321.5h1v1h-1zM249.5 309h1v1h-1zM236.5 310.5h1v1h-1zM271.5 310.5h1v1h-1zM261.5 301h1v1h-1zM233 317h1v1h-1zM307 299h1v1h-1zM243 308.5h1v1h-1zM254.5 311.5h1v1h-1zM234 312h1v1h-1zM225 316h1v1h-1zM224 313.5h1v1h-1zM224.5 314h1v1h-1zM243.5 317.5h1v1h-1zM221.5 311h1v1h-1zM217 316.5h1v1h-1zM261 311h1v1h-1zM236 311.5h1v1h-1zM237.5 312.5h1v1h-1zM244.5 307.5h1v1h-1zM238.5 311.5h1v1h-1zM282.5 294.5h1v1h-1zM253 299h1v1h-1zM242 304h1v1h-1zM244 321h1v1h-1zM238.5 313h1v1h-1zM298.5 290h1v1h-1zM226.5 318h1v1h-1zM248.5 313.5h1v1h-1zM241 309.5h1v1h-1zM218 319h1v1h-1zM229.5 315h1v1h-1zM279 296.5h1v1h-1zM256 289.5h1v1h-1zM216.5 318h1v1h-1zM229.5 323h1v1h-1zM216.5 315.5h1v1h-1zM260.5 303.5h1v1h-1zM221.5 312h1v1h-1zM219 317.5h1v1h-1zM316.5 290.5h1v1h-1zM236 321h1v1h-1zM230.5 313h1v1h-1zM218.5 329.5h1v1h-1zM233.5 299h1v1h-1zM232.5 310.5h1v1h-1zM216 322.5h1v1h-1zM223 319.5h1v1h-1zM226 311.5h1v1h-1zM235.5 309.5h1v1h-1zM229.5 317.5h1v1h-1zM244 308h1v1h-1zM229 309h1v1h-1zM274 299h1v1h-1zM296.5 295h1v1h-1zM219 325h1v1h-1zM225.5 325h1v1h-1zM241.5 315h1v1h-1zM254.5 302.5h1v1h-1zM219.5 324h1v1h-1zM224.5 309.5h1v1h-1zM236.5 320h1v1h-1zM247 300h1v1h-1zM272.5 293h1v1h-1zM266 305h1v1h-1zM257 304h1v1h-1zM219 320h1v1h-1zM310 293h1v1h-1zM244 309h1v1h-1zM220.5 316.5h1v1h-1zM227.5 315.5h1v1h-1zM244.5 310h1v1h-1zM233.5 316.5h1v1h-1zM236 306.5h1v1h-1zM258 309.5h1v1h-1zM260 301.5h1v1h-1zM240.5 307.5h1v1h-1zM256.5 307h1v1h-1zM234 313.5h1v1h-1zM308 295h1v1h-1zM243.5 312h1v1h-1zM301 269.5h1v1h-1zM218.5 319h1v1h-1zM268.5 303h1v1h-1zM241 307.5h1v1h-1zM250 307h1v1h-1zM225 312.5h1v1h-1zM240.5 307h1v1h-1zM229 311h1v1h-1zM221.5 310.5h1v1h-1zM215.5 327h1v1h-1zM273.5 293h1v1h-1zM247.5 312.5h1v1h-1zM225.5 319h1v1h-1zM228 310.5h1v1h-1zM236.5 311h1v1h-1zM259.5 309h1v1h-1zM222 315.5h1v1h-1zM301.5 292h1v1h-1zM285 301.5h1v1h-1zM227 314.5h1v1h-1zM245.5 309h1v1h-1zM232 310h1v1h-1zM249 312.5h1v1h-1zM220.5 322h1v1h-1zM237 314.5h1v1h-1zM242.5 307.5h1v1h-1zM244.5 315h1v1h-1zM249 305h1v1h-1zM270 307h1v1h-1zM227 318h1v1h-1zM223.5 323h1v1h-1zM233.5 312h1v1h-1zM241.5 310.5h1v1h-1zM295.5 285.5h1v1h-1zM250 305.5h1v1h-1zM252 301.5h1v1h-1zM306 292.5h1v1h-1zM228 319h1v1h-1zM228 311.5h1v1h-1zM235 304.5h1v1h-1zM229.5 312h1v1h-1zM246 314.5h1v1h-1zM289 298h1v1h-1zM223.5 312h1v1h-1zM239 306h1v1h-1zM248 306.5h1v1h-1zM238 306h1v1h-1zM275 303.5h1v1h-1zM252 309.5h1v1h-1zM268.5 299h1v1h-1zM221.5 313h1v1h-1zM225 311h1v1h-1zM219.5 312.5h1v1h-1zM260.5 304h1v1h-1zM297 279h1v1h-1zM216.5 322h1v1h-1zM256.5 303h1v1h-1zM251 305h1v1h-1zM273.5 304h1v1h-1zM228.5 313h1v1h-1zM250.5 306h1v1h-1zM227 322h1v1h-1zM220 318h1v1h-1zM252.5 303.5h1v1h-1zM218 316h1v1h-1zM249 308h1v1h-1zM229 315.5h1v1h-1zM237.5 311.5h1v1h-1zM227 318.5h1v1h-1zM237 317h1v1h-1zM232 306h1v1h-1zM225 321h1v1h-1zM237 311h1v1h-1zM224.5 317h1v1h-1zM257.5 307h1v1h-1zM244 306.5h1v1h-1zM229 311.5h1v1h-1zM306.5 287h1v1h-1zM231.5 313.5h1v1h-1zM247.5 302h1v1h-1zM251.5 307.5h1v1h-1zM228 314.5h1v1h-1zM216.5 317h1v1h-1zM270.5 299h1v1h-1zM292.5 288h1v1h-1zM224 317h1v1h-1zM223.5 310.5h1v1h-1zM235.5 315.5h1v1h-1zM243 319h1v1h-1zM325.5 278h1v1h-1zM297.5 288h1v1h-1zM324 295.5h1v1h-1zM227.5 310.5h1v1h-1zM243 304.5h1v1h-1zM235.5 306.5h1v1h-1zM226.5 315.5h1v1h-1zM219.5 318h1v1h-1zM224 312.5h1v1h-1zM232 306.5h1v1h-1zM220.5 319.5h1v1h-1zM223 315h1v1h-1zM218.5 315h1v1h-1zM244.5 307h1v1h-1zM238 309h1v1h-1zM227 311.5h1v1h-1zM239.5 305.5h1v1h-1zM235 306h1v1h-1zM246.5 309h1v1h-1zM280.5 301.5h1v1h-1zM232 307h1v1h-1zM246 313.5h1v1h-1zM226 317h1v1h-1zM283.5 294.5h1v1h-1zM244 302.5h1v1h-1zM223.5 322h1v1h-1zM223.5 314.5h1v1h-1zM224.5 308h1v1h-1zM230 312.5h1v1h-1zM260 299.5h1v1h-1zM236.5 307.5h1v1h-1zM228.5 312.5h1v1h-1zM234.5 320h1v1h-1zM228 309h1v1h-1zM251.5 310.5h1v1h-1zM219 319.5h1v1h-1zM230.5 306.5h1v1h-1zM224.5 304h1v1h-1zM252 306.5h1v1h-1zM224.5 320h1v1h-1zM229.5 311.5h1v1h-1zM219 317h1v1h-1zM253.5 303h1v1h-1zM232.5 308h1v1h-1zM246.5 315h1v1h-1zM226 315.5h1v1h-1zM217 322.5h1v1h-1zM230.5 315.5h1v1h-1zM255.5 297.5h1v1h-1zM261.5 305h1v1h-1zM231.5 307h1v1h-1zM263 299.5h1v1h-1zM218.5 323.5h1v1h-1zM239.5 308h1v1h-1zM228 310h1v1h-1zM235.5 304.5h1v1h-1zM226.5 314.5h1v1h-1zM270.5 303.5h1v1h-1zM229.5 314.5h1v1h-1zM285.5 294.5h1v1h-1zM221.5 314.5h1v1h-1zM235 307h1v1h-1zM250 289h1v1h-1zM231.5 317h1v1h-1zM238 306.5h1v1h-1zM230 315h1v1h-1zM251 299h1v1h-1zM221.5 321.5h1v1h-1zM227 313h1v1h-1zM224 319h1v1h-1zM222 316h1v1h-1zM259 304h1v1h-1zM248.5 306h1v1h-1zM233 314.5h1v1h-1zM251.5 298.5h1v1h-1zM243.5 314h1v1h-1zM275.5 298.5h1v1h-1zM276.5 296.5h1v1h-1zM237.5 307h1v1h-1zM246.5 307h1v1h-1zM240.5 302h1v1h-1zM230 303.5h1v1h-1zM236 315.5h1v1h-1zM250.5 303h1v1h-1zM241 310h1v1h-1zM245 299h1v1h-1zM237.5 313.5h1v1h-1zM290 300.5h1v1h-1zM255 307h1v1h-1zM222.5 312.5h1v1h-1zM276 297.5h1v1h-1zM259.5 306h1v1h-1zM231.5 309.5h1v1h-1zM232.5 304h1v1h-1zM227 304.5h1v1h-1zM219 319h1v1h-1zM237 309.5h1v1h-1zM263.5 293.5h1v1h-1zM254.5 301.5h1v1h-1zM247 312h1v1h-1zM263 308.5h1v1h-1zM246.5 308h1v1h-1zM226.5 315h1v1h-1zM258 306h1v1h-1zM232.5 315h1v1h-1zM270 298.5h1v1h-1zM230.5 310h1v1h-1zM220.5 315.5h1v1h-1zM251.5 307h1v1h-1zM221.5 322.5h1v1h-1zM266.5 301.5h1v1h-1zM234.5 313h1v1h-1zM255.5 311h1v1h-1zM219 323h1v1h-1zM240.5 309.5h1v1h-1zM247.5 297.5h1v1h-1zM222.5 312h1v1h-1zM243.5 299h1v1h-1zM223 315.5h1v1h-1zM230 307.5h1v1h-1zM232.5 307.5h1v1h-1zM244.5 313.5h1v1h-1zM222.5 322h1v1h-1zM224.5 319h1v1h-1zM255.5 309h1v1h-1zM250.5 303.5h1v1h-1zM236 313.5h1v1h-1zM229 312.5h1v1h-1zM248.5 311h1v1h-1zM237 313h1v1h-1zM230 317h1v1h-1zM267 295.5h1v1h-1zM225.5 313.5h1v1h-1zM258 308h1v1h-1zM244 315.5h1v1h-1zM246 299.5h1v1h-1zM248 312.5h1v1h-1zM253 300h1v1h-1zM268 301h1v1h-1zM277 303.5h1v1h-1zM227.5 313.5h1v1h-1zM224 311h1v1h-1zM271 295h1v1h-1zM225.5 312.5h1v1h-1zM226.5 318.5h1v1h-1zM258 303h1v1h-1zM300 283h1v1h-1zM262.5 297.5h1v1h-1zM239 305h1v1h-1zM325 286.5h1v1h-1zM252 294.5h1v1h-1zM245 308h1v1h-1zM216.5 321.5h1v1h-1zM225 316.5h1v1h-1zM216.5 319h1v1h-1zM273.5 298h1v1h-1zM227 310h1v1h-1zM224 323h1v1h-1zM242.5 308.5h1v1h-1zM225.5 316.5h1v1h-1zM288 283h1v1h-1zM265.5 298.5h1v1h-1zM275.5 294.5h1v1h-1zM234 314.5h1v1h-1zM239.5 312h1v1h-1zM230.5 307h1v1h-1zM343.5 280.5h1v1h-1zM230 310h1v1h-1zM252 307h1v1h-1zM244.5 308.5h1v1h-1zM248.5 302.5h1v1h-1zM221 315.5h1v1h-1zM240 316.5h1v1h-1zM338.5 287.5h1v1h-1zM241.5 308.5h1v1h-1zM225 314h1v1h-1zM231 312h1v1h-1zM252.5 300h1v1h-1zM217 318h1v1h-1zM218.5 313h1v1h-1zM246.5 303.5h1v1h-1zM268.5 305h1v1h-1zM235.5 309h1v1h-1zM228 312h1v1h-1zM228.5 307h1v1h-1zM237 313.5h1v1h-1zM226 319.5h1v1h-1zM236 310h1v1h-1zM223 310h1v1h-1zM278 305h1v1h-1zM246 299h1v1h-1zM221 316h1v1h-1zM225 309.5h1v1h-1zM228 308.5h1v1h-1zM217 317.5h1v1h-1zM247.5 313h1v1h-1zM241.5 305.5h1v1h-1zM262 309.5h1v1h-1zM224 318h1v1h-1zM253 308h1v1h-1zM260 307h1v1h-1zM252.5 306.5h1v1h-1zM235.5 313.5h1v1h-1zM218.5 318.5h1v1h-1zM245.5 303.5h1v1h-1zM217.5 318h1v1h-1zM234.5 309h1v1h-1zM222 310h1v1h-1zM236 312.5h1v1h-1zM263.5 288h1v1h-1zM257.5 298h1v1h-1zM339.5 279h1v1h-1zM218 325h1v1h-1zM250 302.5h1v1h-1zM251.5 305h1v1h-1zM229 316h1v1h-1zM258.5 305h1v1h-1zM232.5 314h1v1h-1zM225.5 307.5h1v1h-1zM239 311.5h1v1h-1zM244 307h1v1h-1zM261.5 306h1v1h-1zM247 305h1v1h-1zM242 309.5h1v1h-1zM249.5 305.5h1v1h-1zM218.5 322.5h1v1h-1zM246.5 298h1v1h-1zM256.5 309h1v1h-1zM218 313.5h1v1h-1zM216.5 316h1v1h-1zM270 303.5h1v1h-1zM271 299.5h1v1h-1zM224.5 318h1v1h-1zM277.5 298h1v1h-1zM239 312h1v1h-1zM237 304h1v1h-1zM231 314h1v1h-1zM268.5 298.5h1v1h-1zM244 302h1v1h-1zM280.5 305h1v1h-1zM278 296.5h1v1h-1zM239 305.5h1v1h-1zM237 312h1v1h-1zM242 309h1v1h-1zM216 320h1v1h-1zM254.5 307.5h1v1h-1zM223 318.5h1v1h-1zM285 306.5h1v1h-1zM218.5 317h1v1h-1zM250 303h1v1h-1zM254.5 314.5h1v1h-1zM240.5 308.5h1v1h-1zM221 321.5h1v1h-1zM258.5 303h1v1h-1zM230.5 302.5h1v1h-1zM229 306h1v1h-1zM248.5 307h1v1h-1zM305 293.5h1v1h-1zM221 323h1v1h-1zM235.5 313h1v1h-1zM247.5 303.5h1v1h-1zM228.5 320h1v1h-1zM243.5 307h1v1h-1zM220 311h1v1h-1zM223.5 316.5h1v1h-1zM223 307.5h1v1h-1zM236.5 309.5h1v1h-1zM274 300h1v1h-1zM221.5 319h1v1h-1zM226 316.5h1v1h-1zM242 311h1v1h-1zM235 314.5h1v1h-1zM234.5 316h1v1h-1zM223 307h1v1h-1zM260 310h1v1h-1zM237.5 304.5h1v1h-1zM265.5 302.5h1v1h-1zM217.5 326.5h1v1h-1zM236.5 313.5h1v1h-1zM232.5 313h1v1h-1zM262 304.5h1v1h-1zM248.5 306.5h1v1h-1zM239.5 305h1v1h-1zM223.5 310h1v1h-1zM248 301h1v1h-1zM271 297.5h1v1h-1zM300.5 292.5h1v1h-1zM230 311.5h1v1h-1zM226 316h1v1h-1zM257.5 301.5h1v1h-1zM245 309.5h1v1h-1zM256 306.5h1v1h-1zM237.5 312h1v1h-1zM263.5 301.5h1v1h-1zM249 310.5h1v1h-1zM227 309h1v1h-1zM242.5 305h1v1h-1zM246.5 309.5h1v1h-1zM225.5 317h1v1h-1zM282 302h1v1h-1zM258 308.5h1v1h-1zM223 321h1v1h-1zM226 320h1v1h-1zM215.5 320.5h1v1h-1zM283 296h1v1h-1zM224 313h1v1h-1zM261 295h1v1h-1zM219 315.5h1v1h-1zM226 306.5h1v1h-1zM228 307.5h1v1h-1zM254 310.5h1v1h-1zM232.5 312h1v1h-1zM223 312h1v1h-1zM286 294h1v1h-1zM239 310h1v1h-1zM306 288.5h1v1h-1zM247.5 304h1v1h-1zM235.5 310h1v1h-1zM223 308h1v1h-1zM249 314.5h1v1h-1zM221 308.5h1v1h-1zM283 297h1v1h-1zM253 311h1v1h-1zM254.5 305h1v1h-1zM265.5 305.5h1v1h-1zM237 308h1v1h-1zM258.5 307h1v1h-1zM221.5 312.5h1v1h-1zM249.5 300h1v1h-1zM253 312h1v1h-1zM226 307h1v1h-1zM221.5 317.5h1v1h-1zM276 298h1v1h-1zM270 296h1v1h-1zM221.5 309.5h1v1h-1zM242.5 305.5h1v1h-1zM224.5 319.5h1v1h-1zM225.5 309.5h1v1h-1zM279.5 279.5h1v1h-1zM247 300.5h1v1h-1zM253.5 309h1v1h-1zM229 314h1v1h-1zM255 302h1v1h-1zM247.5 304.5h1v1h-1zM231.5 312h1v1h-1zM238 316.5h1v1h-1zM227.5 300.5h1v1h-1zM243 309.5h1v1h-1zM225 309h1v1h-1zM236 308.5h1v1h-1zM264 304.5h1v1h-1zM246.5 308.5h1v1h-1zM221.5 320h1v1h-1zM260 306h1v1h-1zM244.5 310.5h1v1h-1zM287 295.5h1v1h-1zM281 301.5h1v1h-1zM280.5 297.5h1v1h-1zM240 307h1v1h-1zM254.5 306.5h1v1h-1zM221 322h1v1h-1zM218.5 321.5h1v1h-1zM256 304.5h1v1h-1zM286.5 289h1v1h-1zM230 313h1v1h-1zM256 312.5h1v1h-1zM244 316.5h1v1h-1zM263 310.5h1v1h-1zM233.5 298h1v1h-1zM262.5 306.5h1v1h-1zM265 304.5h1v1h-1zM272.5 302h1v1h-1zM234 313h1v1h-1zM273.5 303h1v1h-1zM230 307h1v1h-1zM243 306h1v1h-1zM314 282.5h1v1h-1zM246 311h1v1h-1zM243 307.5h1v1h-1zM232 309.5h1v1h-1zM239 313h1v1h-1zM238 318h1v1h-1zM248 311.5h1v1h-1zM240 302h1v1h-1zM230.5 310.5h1v1h-1zM225 308h1v1h-1zM323.5 279.5h1v1h-1zM244.5 295h1v1h-1zM224 307h1v1h-1zM231 317h1v1h-1zM246 307.5h1v1h-1zM227 307h1v1h-1zM271 301.5h1v1h-1zM240 309.5h1v1h-1zM248 308h1v1h-1zM247 309h1v1h-1zM223.5 312.5h1v1h-1zM280.5 285.5h1v1h-1zM262.5 303.5h1v1h-1zM241.5 307.5h1v1h-1zM239.5 304h1v1h-1zM230 309.5h1v1h-1zM233 317.5h1v1h-1zM245 306.5h1v1h-1zM235 317h1v1h-1zM221 307.5h1v1h-1zM226.5 311h1v1h-1zM223.5 321h1v1h-1zM245 296h1v1h-1zM226 313.5h1v1h-1zM219 327h1v1h-1zM296.5 274.5h1v1h-1zM224.5 312h1v1h-1zM227 312h1v1h-1zM249.5 307h1v1h-1zM321.5 274h1v1h-1zM222 309h1v1h-1zM234 304h1v1h-1zM264 300.5h1v1h-1zM220.5 324.5h1v1h-1zM227.5 311h1v1h-1zM244 316h1v1h-1zM260.5 296.5h1v1h-1zM234.5 317h1v1h-1zM243 319.5h1v1h-1zM240.5 306h1v1h-1zM240 311.5h1v1h-1zM331.5 278h1v1h-1zM319 280.5h1v1h-1zM226 309.5h1v1h-1zM227.5 309.5h1v1h-1zM234 306.5h1v1h-1zM221 317h1v1h-1zM223 319h1v1h-1zM241.5 312.5h1v1h-1zM323 288h1v1h-1zM229.5 308.5h1v1h-1zM244 305h1v1h-1zM229.5 316.5h1v1h-1zM216.5 320.5h1v1h-1zM221 313.5h1v1h-1zM267.5 298.5h1v1h-1zM221.5 314h1v1h-1zM245.5 310h1v1h-1zM254.5 312h1v1h-1zM238.5 307h1v1h-1zM226.5 309.5h1v1h-1zM226 310h1v1h-1zM227 315.5h1v1h-1zM227 294.5h1v1h-1zM227.5 320.5h1v1h-1zM229.5 310h1v1h-1zM243 310h1v1h-1zM219.5 319.5h1v1h-1zM235 310h1v1h-1zM280 285h1v1h-1zM283 292h1v1h-1zM229.5 309h1v1h-1zM222.5 310.5h1v1h-1zM228 320.5h1v1h-1zM278 297h1v1h-1zM267.5 304.5h1v1h-1zM236 310.5h1v1h-1zM240.5 303h1v1h-1zM249.5 312h1v1h-1zM249.5 306.5h1v1h-1zM249 309h1v1h-1zM252 304.5h1v1h-1zM222.5 321.5h1v1h-1zM248.5 298.5h1v1h-1zM247 303h1v1h-1zM223.5 315.5h1v1h-1zM225 312h1v1h-1zM245.5 308h1v1h-1zM258.5 304.5h1v1h-1zM228.5 311.5h1v1h-1zM247 315.5h1v1h-1zM244 304h1v1h-1zM228.5 311h1v1h-1zM232 313.5h1v1h-1zM229.5 315.5h1v1h-1zM220.5 316h1v1h-1zM227 307.5h1v1h-1zM226.5 321h1v1h-1zM245.5 308.5h1v1h-1zM234.5 319h1v1h-1zM236.5 312.5h1v1h-1zM225.5 313h1v1h-1zM256 303h1v1h-1zM285 297.5h1v1h-1zM242.5 310h1v1h-1zM285 280h1v1h-1zM240.5 311.5h1v1h-1zM232 312h1v1h-1zM232.5 315.5h1v1h-1zM279.5 300.5h1v1h-1zM239.5 317h1v1h-1zM223.5 309.5h1v1h-1zM234.5 308h1v1h-1zM236 307.5h1v1h-1zM258 312h1v1h-1zM222 317.5h1v1h-1zM236 309h1v1h-1zM222.5 314h1v1h-1zM227.5 312.5h1v1h-1zM267.5 294h1v1h-1zM224 321.5h1v1h-1zM249.5 314h1v1h-1zM239.5 308.5h1v1h-1zM220.5 312.5h1v1h-1zM248 302h1v1h-1zM293.5 286h1v1h-1zM252 306h1v1h-1zM337.5 288h1v1h-1zM252.5 296.5h1v1h-1zM231 307.5h1v1h-1zM257.5 303h1v1h-1zM241.5 316h1v1h-1zM220.5 320h1v1h-1zM232.5 313.5h1v1h-1zM286 291.5h1v1h-1zM250 306.5h1v1h-1zM248 302.5h1v1h-1zM223.5 313h1v1h-1zM258 299.5h1v1h-1zM222 313.5h1v1h-1zM240.5 301h1v1h-1zM222 312.5h1v1h-1zM228.5 309h1v1h-1zM254.5 309h1v1h-1zM232 313h1v1h-1zM260 306.5h1v1h-1zM245 314h1v1h-1zM223 322.5h1v1h-1zM245 306h1v1h-1zM219.5 321.5h1v1h-1zM237 320.5h1v1h-1zM234.5 314h1v1h-1zM259 302.5h1v1h-1zM240 306.5h1v1h-1zM264.5 306.5h1v1h-1zM290.5 280.5h1v1h-1zM271 294.5h1v1h-1zM254.5 308.5h1v1h-1zM217 314h1v1h-1zM215.5 329h1v1h-1zM224 314.5h1v1h-1zM229.5 323.5h1v1h-1zM222.5 319.5h1v1h-1zM235 312h1v1h-1zM225.5 315h1v1h-1zM239 306.5h1v1h-1zM316 285.5h1v1h-1zM251 316.5h1v1h-1zM278 292.5h1v1h-1zM231 306.5h1v1h-1zM232 302.5h1v1h-1zM236.5 306.5h1v1h-1zM236.5 306h1v1h-1zM256.5 304.5h1v1h-1zM236.5 319h1v1h-1zM235.5 311h1v1h-1zM244.5 309.5h1v1h-1zM241 317h1v1h-1zM218.5 324.5h1v1h-1zM264 299h1v1h-1zM245.5 313.5h1v1h-1zM223.5 319h1v1h-1zM238 305h1v1h-1zM272 294.5h1v1h-1zM234 312.5h1v1h-1zM227 316h1v1h-1zM289 292h1v1h-1zM252 305h1v1h-1zM247 323.5h1v1h-1zM265.5 305h1v1h-1zM225 311.5h1v1h-1zM260.5 307h1v1h-1zM257.5 307.5h1v1h-1zM239.5 311.5h1v1h-1zM248.5 309.5h1v1h-1zM233.5 311h1v1h-1zM234.5 313.5h1v1h-1zM228.5 310h1v1h-1zM256 308h1v1h-1zM238 312h1v1h-1zM321.5 281.5h1v1h-1zM241.5 310h1v1h-1zM288.5 285.5h1v1h-1zM222 319.5h1v1h-1zM275.5 297h1v1h-1zM246 310h1v1h-1zM225 310h1v1h-1zM234.5 306.5h1v1h-1zM228.5 318h1v1h-1zM237 310.5h1v1h-1zM237.5 310h1v1h-1zM320.5 291h1v1h-1zM274.5 297h1v1h-1zM222.5 318h1v1h-1zM248 314h1v1h-1zM228 312.5h1v1h-1zM278.5 297h1v1h-1zM242 299.5h1v1h-1zM241.5 303h1v1h-1zM240.5 312h1v1h-1zM257.5 309.5h1v1h-1zM234.5 305.5h1v1h-1zM238.5 310.5h1v1h-1zM263 307h1v1h-1zM276.5 303.5h1v1h-1zM215.5 319.5h1v1h-1zM253.5 301h1v1h-1zM306.5 287.5h1v1h-1zM264.5 304h1v1h-1zM226 325h1v1h-1zM328.5 300.5h1v1h-1zM232.5 311.5h1v1h-1zM264.5 296.5h1v1h-1zM255.5 304.5h1v1h-1zM243.5 305h1v1h-1zM299 290.5h1v1h-1zM293 284.5h1v1h-1zM235.5 308.5h1v1h-1zM237 305.5h1v1h-1zM272.5 300.5h1v1h-1zM236 303.5h1v1h-1zM266 300.5h1v1h-1zM226.5 316.5h1v1h-1zM233.5 312.5h1v1h-1zM236 320.5h1v1h-1zM224 317.5h1v1h-1zM233 304h1v1h-1zM224.5 313.5h1v1h-1zM231.5 318.5h1v1h-1zM233.5 307h1v1h-1zM284 292h1v1h-1zM234.5 307.5h1v1h-1zM243 311.5h1v1h-1zM278 297.5h1v1h-1zM236 304h1v1h-1zM228.5 310.5h1v1h-1zM241.5 311h1v1h-1zM260 303h1v1h-1zM229 312h1v1h-1zM237.5 308.5h1v1h-1zM239.5 320.5h1v1h-1zM246 305h1v1h-1zM237 310h1v1h-1zM225 317.5h1v1h-1zM226.5 311.5h1v1h-1zM218.5 316h1v1h-1zM268.5 301h1v1h-1zM246 307h1v1h-1zM283 295.5h1v1h-1zM230.5 304.5h1v1h-1zM241 314.5h1v1h-1zM241 305.5h1v1h-1zM243.5 316.5h1v1h-1zM235 316h1v1h-1zM231.5 306h1v1h-1zM220 309h1v1h-1zM243 315h1v1h-1zM225 317h1v1h-1zM220 315.5h1v1h-1zM318.5 291h1v1h-1zM270 301h1v1h-1zM232 311h1v1h-1zM225.5 306h1v1h-1zM322 282.5h1v1h-1zM229.5 308h1v1h-1zM261.5 305.5h1v1h-1zM252.5 307.5h1v1h-1zM217 321.5h1v1h-1zM218 315.5h1v1h-1zM235.5 307h1v1h-1zM217.5 322.5h1v1h-1zM276.5 291.5h1v1h-1zM303.5 288.5h1v1h-1zM226 314h1v1h-1zM222.5 320h1v1h-1zM241.5 312h1v1h-1zM250.5 312h1v1h-1zM266 308.5h1v1h-1zM245 307.5h1v1h-1zM292 300h1v1h-1zM259.5 310.5h1v1h-1zM235.5 318.5h1v1h-1zM257.5 305.5h1v1h-1zM238.5 309.5h1v1h-1zM267.5 299h1v1h-1zM238 311.5h1v1h-1zM267 309h1v1h-1zM251 304h1v1h-1zM252 313h1v1h-1zM252 292h1v1h-1zM218.5 320.5h1v1h-1zM221.5 310h1v1h-1zM237.5 298h1v1h-1zM254 299.5h1v1h-1zM249 315h1v1h-1zM256.5 312h1v1h-1zM242 306h1v1h-1zM253.5 307.5h1v1h-1zM268.5 301.5h1v1h-1zM238.5 315h1v1h-1zM216.5 324h1v1h-1zM277 314h1v1h-1zM242.5 307h1v1h-1zM224.5 311h1v1h-1zM251.5 311h1v1h-1zM236 316h1v1h-1zM224.5 307h1v1h-1zM244 298.5h1v1h-1zM231 315h1v1h-1zM233 314h1v1h-1zM251.5 308h1v1h-1zM231.5 310.5h1v1h-1zM234.5 319.5h1v1h-1zM245.5 307h1v1h-1zM318 293h1v1h-1zM261 303.5h1v1h-1zM283 282.5h1v1h-1zM255 309h1v1h-1zM343 275h1v1h-1zM216.5 322.5h1v1h-1zM237 307h1v1h-1zM252.5 301h1v1h-1zM219.5 317.5h1v1h-1zM238.5 303.5h1v1h-1zM219.5 318.5h1v1h-1zM223.5 311h1v1h-1zM218.5 320h1v1h-1zM276.5 306h1v1h-1zM223 316h1v1h-1zM233.5 313h1v1h-1zM217 313h1v1h-1zM282 293.5h1v1h-1zM323 288.5h1v1h-1zM331 282h1v1h-1zM238.5 312.5h1v1h-1zM221.5 311.5h1v1h-1zM235 315.5h1v1h-1zM230.5 314h1v1h-1zM265 299h1v1h-1zM217.5 312h1v1h-1zM278 294.5h1v1h-1zM278 287.5h1v1h-1zM230 311h1v1h-1zM283 292.5h1v1h-1zM269.5 303.5h1v1h-1zM229.5 309.5h1v1h-1zM239 311h1v1h-1zM281 296h1v1h-1zM224.5 316h1v1h-1zM233 308.5h1v1h-1zM247 302h1v1h-1zM223 311.5h1v1h-1zM246 305.5h1v1h-1zM266 306.5h1v1h-1zM227 325h1v1h-1zM275.5 290.5h1v1h-1zM230.5 322h1v1h-1zM276 296.5h1v1h-1zM251 309.5h1v1h-1zM244 301.5h1v1h-1zM255 308.5h1v1h-1zM230 310.5h1v1h-1zM251.5 302.5h1v1h-1zM246.5 312.5h1v1h-1zM306 289h1v1h-1zM298 287h1v1h-1zM272 296.5h1v1h-1zM243 305h1v1h-1zM235.5 296.5h1v1h-1zM233 307.5h1v1h-1zM236 312h1v1h-1zM289 282.5h1v1h-1zM254 304.5h1v1h-1zM243 312h1v1h-1zM329.5 288h1v1h-1zM239 307h1v1h-1zM271 296.5h1v1h-1zM217 319.5h1v1h-1zM227.5 308h1v1h-1zM229 307h1v1h-1zM241 311h1v1h-1zM224.5 317.5h1v1h-1zM255.5 309.5h1v1h-1zM242.5 304.5h1v1h-1zM308.5 282.5h1v1h-1zM224 315.5h1v1h-1zM223.5 311.5h1v1h-1zM238.5 308.5h1v1h-1zM224.5 315h1v1h-1zM258.5 299.5h1v1h-1zM251 303.5h1v1h-1zM237 314h1v1h-1zM267 319h1v1h-1zM235 307.5h1v1h-1zM317 285h1v1h-1zM299 291h1v1h-1zM292 281h1v1h-1zM239.5 306.5h1v1h-1zM244 310h1v1h-1zM257.5 297h1v1h-1zM294.5 297.5h1v1h-1zM273 294h1v1h-1zM292.5 302h1v1h-1zM216 327.5h1v1h-1zM221 319h1v1h-1zM230 314h1v1h-1zM230 314.5h1v1h-1zM274 293h1v1h-1zM237 304.5h1v1h-1zM221.5 315.5h1v1h-1zM253.5 308h1v1h-1zM282.5 297.5h1v1h-1zM250 304h1v1h-1zM216 318.5h1v1h-1zM262.5 307h1v1h-1zM226 317.5h1v1h-1zM259.5 301h1v1h-1zM260 315.5h1v1h-1zM248 306h1v1h-1zM220 312h1v1h-1zM222 316.5h1v1h-1zM255.5 308h1v1h-1zM219.5 321h1v1h-1zM252.5 295.5h1v1h-1zM260 311h1v1h-1zM220.5 317h1v1h-1zM268 317h1v1h-1zM229.5 312.5h1v1h-1zM215.5 318h1v1h-1zM284 294.5h1v1h-1zM251.5 319h1v1h-1zM250.5 308.5h1v1h-1zM241.5 303.5h1v1h-1zM222.5 317.5h1v1h-1zM226.5 317h1v1h-1zM289.5 294.5h1v1h-1zM247 307h1v1h-1zM251.5 312.5h1v1h-1zM221.5 315h1v1h-1zM228 316h1v1h-1zM341.5 276h1v1h-1zM227.5 312h1v1h-1zM233.5 316h1v1h-1zM244 312h1v1h-1zM233 311h1v1h-1zM239.5 325h1v1h-1zM265 297h1v1h-1zM265 308h1v1h-1zM228 306.5h1v1h-1zM241.5 306h1v1h-1zM237 306h1v1h-1zM217.5 319h1v1h-1zM252 311h1v1h-1zM222 313h1v1h-1zM219.5 307h1v1h-1zM322 292h1v1h-1zM227.5 306h1v1h-1zM224.5 313h1v1h-1zM267 305.5h1v1h-1zM249 309.5h1v1h-1zM216 317.5h1v1h-1zM222.5 315h1v1h-1zM288.5 299.5h1v1h-1zM241.5 300.5h1v1h-1zM220 316h1v1h-1zM217 324h1v1h-1zM263 315.5h1v1h-1zM280.5 297h1v1h-1zM240 312.5h1v1h-1zM257 313h1v1h-1zM228.5 317h1v1h-1zM244 310.5h1v1h-1zM243.5 304h1v1h-1zM280.5 296h1v1h-1zM227.5 305.5h1v1h-1zM265 306.5h1v1h-1zM222.5 316.5h1v1h-1zM236.5 308h1v1h-1zM244 304.5h1v1h-1zM327 282h1v1h-1zM250 304.5h1v1h-1zM235 308.5h1v1h-1zM239 309.5h1v1h-1zM221.5 317h1v1h-1zM247.5 299.5h1v1h-1zM235.5 307.5h1v1h-1zM219 322.5h1v1h-1zM225.5 314h1v1h-1zM250.5 307.5h1v1h-1zM284 292.5h1v1h-1zM260 304.5h1v1h-1zM316 287.5h1v1h-1zM262 306h1v1h-1zM251.5 309h1v1h-1zM237.5 311h1v1h-1zM222 315h1v1h-1zM229 319h1v1h-1zM250.5 304.5h1v1h-1zM247 310h1v1h-1zM276 301.5h1v1h-1zM256.5 308h1v1h-1zM235.5 304h1v1h-1zM221.5 316.5h1v1h-1zM238 307h1v1h-1zM317 290h1v1h-1zM260.5 308.5h1v1h-1zM232 305.5h1v1h-1zM217.5 320h1v1h-1zM240.5 313h1v1h-1zM301 292.5h1v1h-1zM217 319h1v1h-1zM250.5 305h1v1h-1zM294 293h1v1h-1zM298.5 282h1v1h-1zM256 302h1v1h-1zM248 307h1v1h-1zM228.5 318.5h1v1h-1zM284 290.5h1v1h-1zM243.5 308h1v1h-1zM312.5 291h1v1h-1zM261.5 299h1v1h-1zM216.5 321h1v1h-1zM247.5 308.5h1v1h-1zM291.5 298h1v1h-1zM273 295h1v1h-1zM238 308h1v1h-1zM219 316h1v1h-1zM225.5 302.5h1v1h-1zM220.5 326.5h1v1h-1zM253.5 309.5h1v1h-1zM267.5 307.5h1v1h-1zM261.5 302.5h1v1h-1zM235.5 315h1v1h-1zM238 312.5h1v1h-1zM217.5 312.5h1v1h-1zM224 327.5h1v1h-1zM221.5 318h1v1h-1zM237.5 313h1v1h-1zM334.5 276.5h1v1h-1zM245.5 305h1v1h-1zM225.5 306.5h1v1h-1zM248 299.5h1v1h-1zM222.5 315.5h1v1h-1zM239 296h1v1h-1zM293 289h1v1h-1zM272.5 302.5h1v1h-1zM221.5 319.5h1v1h-1zM266.5 311.5h1v1h-1zM231.5 303.5h1v1h-1zM231 312.5h1v1h-1zM311 285h1v1h-1zM259.5 305h1v1h-1zM338.5 284h1v1h-1zM257 303.5h1v1h-1zM302 284h1v1h-1zM234.5 310.5h1v1h-1zM282 295h1v1h-1zM240.5 304.5h1v1h-1zM258.5 310h1v1h-1zM267.5 296h1v1h-1zM233.5 310.5h1v1h-1zM230 316.5h1v1h-1zM233.5 314.5h1v1h-1zM239 301.5h1v1h-1zM268.5 309.5h1v1h-1zM251.5 304h1v1h-1zM228 317.5h1v1h-1zM263.5 295h1v1h-1zM269.5 295.5h1v1h-1zM252.5 311h1v1h-1zM231 318h1v1h-1zM277.5 289h1v1h-1zM233 319.5h1v1h-1zM251.5 300.5h1v1h-1zM258 303.5h1v1h-1zM248.5 311.5h1v1h-1zM219 318h1v1h-1zM226 312h1v1h-1zM255.5 312h1v1h-1zM246 314h1v1h-1zM262.5 301.5h1v1h-1zM249.5 316h1v1h-1zM248.5 310.5h1v1h-1zM268 306h1v1h-1zM279.5 294.5h1v1h-1zM229 308h1v1h-1zM261 302h1v1h-1zM299 302h1v1h-1zM222 311.5h1v1h-1zM235.5 312.5h1v1h-1zM240.5 310.5h1v1h-1zM241.5 313.5h1v1h-1zM266 305.5h1v1h-1zM216 323.5h1v1h-1zM219.5 309h1v1h-1zM256 306h1v1h-1zM223 328h1v1h-1zM294.5 285.5h1v1h-1zM238 301h1v1h-1zM219.5 316.5h1v1h-1zM273 302.5h1v1h-1zM242.5 301.5h1v1h-1zM217.5 327.5h1v1h-1zM266 303.5h1v1h-1zM222 311h1v1h-1zM251 312h1v1h-1zM246 312.5h1v1h-1zM229 304h1v1h-1zM255 312.5h1v1h-1zM315 286h1v1h-1zM243 318h1v1h-1zM275 314h1v1h-1zM254 297.5h1v1h-1zM228.5 315.5h1v1h-1zM217.5 317h1v1h-1zM282.5 290.5h1v1h-1zM226.5 323.5h1v1h-1zM231.5 310h1v1h-1zM259 307.5h1v1h-1zM220 323h1v1h-1zM220 315h1v1h-1zM226 305.5h1v1h-1zM268 295h1v1h-1zM260.5 305h1v1h-1zM271.5 304h1v1h-1zM222.5 324.5h1v1h-1zM251 304.5h1v1h-1zM252 305.5h1v1h-1zM244.5 303.5h1v1h-1zM242.5 299.5h1v1h-1zM241 313.5h1v1h-1zM255 301.5h1v1h-1zM248 310h1v1h-1zM255.5 306h1v1h-1zM245 307h1v1h-1zM254 303h1v1h-1zM230.5 311.5h1v1h-1zM217 317h1v1h-1zM253 299.5h1v1h-1zM219 314h1v1h-1zM221 315h1v1h-1zM223 320.5h1v1h-1zM259 302h1v1h-1zM240 309h1v1h-1zM222.5 318.5h1v1h-1zM220 320h1v1h-1zM255.5 305.5h1v1h-1zM223 314.5h1v1h-1zM222 320h1v1h-1zM254 306h1v1h-1zM226 305h1v1h-1zM242.5 312.5h1v1h-1zM234.5 312.5h1v1h-1zM242 310.5h1v1h-1zM279 295h1v1h-1zM237.5 308h1v1h-1zM222.5 317h1v1h-1zM248.5 316h1v1h-1zM255 302.5h1v1h-1zM216 321h1v1h-1zM216 322h1v1h-1zM221.5 308.5h1v1h-1zM337 278.5h1v1h-1zM235.5 306h1v1h-1zM238 321h1v1h-1zM249 307.5h1v1h-1zM238 305.5h1v1h-1zM245.5 304h1v1h-1zM258 306.5h1v1h-1zM219 320.5h1v1h-1zM224 316h1v1h-1zM244.5 314h1v1h-1zM235 315h1v1h-1zM236.5 315.5h1v1h-1zM233 309.5h1v1h-1zM220.5 317.5h1v1h-1zM266.5 298.5h1v1h-1zM232.5 309.5h1v1h-1zM262 305h1v1h-1zM269 297h1v1h-1zM234 316.5h1v1h-1zM246.5 318h1v1h-1zM258 307h1v1h-1zM323.5 290h1v1h-1zM215.5 323h1v1h-1zM227 320h1v1h-1zM226 314.5h1v1h-1zM249.5 317h1v1h-1zM227 315h1v1h-1zM238 304h1v1h-1zM216.5 325.5h1v1h-1zM237.5 302.5h1v1h-1zM274 301h1v1h-1zM217.5 311h1v1h-1zM221.5 313.5h1v1h-1zM281 297.5h1v1h-1zM227.5 316.5h1v1h-1zM218 321h1v1h-1zM239 313.5h1v1h-1zM259.5 305.5h1v1h-1zM249 316.5h1v1h-1zM254.5 313.5h1v1h-1zM247 299.5h1v1h-1zM265.5 301h1v1h-1zM244 313.5h1v1h-1zM226.5 316h1v1h-1zM231 308.5h1v1h-1zM239.5 313h1v1h-1zM241 301h1v1h-1zM225 320.5h1v1h-1zM252 302h1v1h-1zM235.5 305h1v1h-1zM253 301.5h1v1h-1zM218 318h1v1h-1zM244 311.5h1v1h-1zM275.5 303.5h1v1h-1zM273.5 301h1v1h-1zM232 304.5h1v1h-1zM242 307h1v1h-1zM239.5 312.5h1v1h-1zM233 306h1v1h-1zM274.5 302.5h1v1h-1zM242 320.5h1v1h-1zM262 306.5h1v1h-1zM291.5 296h1v1h-1zM230.5 315h1v1h-1zM218.5 315.5h1v1h-1zM226.5 307.5h1v1h-1zM252 310h1v1h-1zM255.5 305h1v1h-1zM248.5 312.5h1v1h-1zM272 301h1v1h-1zM268.5 296h1v1h-1zM225 315.5h1v1h-1zM282 296.5h1v1h-1zM231 314.5h1v1h-1zM242 303.5h1v1h-1zM232 320h1v1h-1zM235.5 314h1v1h-1zM260 307.5h1v1h-1zM237 317.5h1v1h-1zM231.5 316h1v1h-1zM227.5 314.5h1v1h-1zM269.5 297h1v1h-1zM256.5 305.5h1v1h-1zM241.5 314.5h1v1h-1zM222.5 311h1v1h-1zM222 320.5h1v1h-1zM233 315h1v1h-1zM219.5 313h1v1h-1zM261.5 300h1v1h-1zM223 312.5h1v1h-1zM255 309.5h1v1h-1zM241.5 304h1v1h-1zM220 319.5h1v1h-1zM265 309.5h1v1h-1zM276.5 300h1v1h-1zM259.5 307.5h1v1h-1zM261 308h1v1h-1zM245.5 306h1v1h-1zM249.5 302h1v1h-1zM248.5 313h1v1h-1zM228.5 315h1v1h-1zM262.5 307.5h1v1h-1zM255 303h1v1h-1zM248.5 304.5h1v1h-1zM243.5 308.5h1v1h-1zM238 300.5h1v1h-1zM235.5 311.5h1v1h-1zM242 304.5h1v1h-1zM245.5 324h1v1h-1zM220 310.5h1v1h-1zM275.5 299.5h1v1h-1zM248.5 301.5h1v1h-1zM247 313.5h1v1h-1zM227.5 313h1v1h-1zM244.5 311h1v1h-1zM255 305h1v1h-1zM240 302.5h1v1h-1zM286.5 291h1v1h-1zM246 304.5h1v1h-1zM216 316h1v1h-1zM219.5 314h1v1h-1zM234.5 305h1v1h-1zM219.5 322h1v1h-1zM260.5 303h1v1h-1zM238.5 307.5h1v1h-1zM281 294h1v1h-1zM273.5 291h1v1h-1zM295.5 289h1v1h-1zM246 315h1v1h-1zM234 321h1v1h-1zM252 295h1v1h-1zM255.5 302.5h1v1h-1zM216.5 317.5h1v1h-1zM251 307h1v1h-1zM247.5 307h1v1h-1zM265 300h1v1h-1zM260 308.5h1v1h-1zM224.5 311.5h1v1h-1zM239.5 303h1v1h-1zM244.5 305h1v1h-1zM231.5 307.5h1v1h-1zM243.5 311.5h1v1h-1zM245.5 319h1v1h-1zM252.5 309.5h1v1h-1zM226.5 309h1v1h-1zM240.5 310h1v1h-1zM318 281h1v1h-1zM227.5 306.5h1v1h-1zM265.5 291h1v1h-1zM225.5 311.5h1v1h-1zM254.5 303.5h1v1h-1zM249 302.5h1v1h-1zM333.5 281.5h1v1h-1zM247 301h1v1h-1zM278.5 304.5h1v1h-1zM267.5 304h1v1h-1zM232 317h1v1h-1zM240.5 302.5h1v1h-1zM221 314.5h1v1h-1zM268.5 311h1v1h-1zM231 311.5h1v1h-1zM259 300.5h1v1h-1zM243 305.5h1v1h-1zM224 316.5h1v1h-1zM262.5 300h1v1h-1zM243.5 295.5h1v1h-1zM247.5 312h1v1h-1zM252 301h1v1h-1zM221.5 316h1v1h-1zM250.5 294.5h1v1h-1zM267.5 302h1v1h-1zM227.5 301h1v1h-1zM261 293h1v1h-1zM228.5 304.5h1v1h-1zM231 313.5h1v1h-1zM272.5 298h1v1h-1zM247 311h1v1h-1zM254 305h1v1h-1zM239 309h1v1h-1zM301 292h1v1h-1zM216 325h1v1h-1zM253 310h1v1h-1zM261.5 310h1v1h-1zM318.5 302.5h1v1h-1zM279 298.5h1v1h-1zM215.5 321.5h1v1h-1zM237 309h1v1h-1zM235.5 305.5h1v1h-1zM222 317h1v1h-1zM246.5 305h1v1h-1zM336 280.5h1v1h-1zM250 308h1v1h-1zM222.5 314.5h1v1h-1zM276.5 298h1v1h-1zM225.5 312h1v1h-1zM236.5 313h1v1h-1zM257.5 313.5h1v1h-1zM217 321h1v1h-1zM294 294.5h1v1h-1zM226.5 317.5h1v1h-1zM229.5 304h1v1h-1zM218.5 317.5h1v1h-1zM232 309h1v1h-1zM237.5 304h1v1h-1zM265 305h1v1h-1zM267.5 301h1v1h-1zM294.5 294.5h1v1h-1zM233 313h1v1h-1zM231 310.5h1v1h-1zM218 314.5h1v1h-1zM251 303h1v1h-1zM281.5 305h1v1h-1zM217.5 313h1v1h-1zM230.5 308.5h1v1h-1zM222.5 313.5h1v1h-1zM223 317h1v1h-1zM221 312.5h1v1h-1zM241.5 309.5h1v1h-1zM318.5 279h1v1h-1zM222.5 321h1v1h-1zM267.5 301.5h1v1h-1zM305 285h1v1h-1zM327.5 271h1v1h-1zM228 302.5h1v1h-1zM222.5 313h1v1h-1zM288.5 288h1v1h-1zM249.5 307.5h1v1h-1zM216 315h1v1h-1zM218 323h1v1h-1zM240.5 301.5h1v1h-1zM268 298.5h1v1h-1zM225.5 322h1v1h-1zM220.5 309h1v1h-1zM296 295.5h1v1h-1zM218 324h1v1h-1zM233 311.5h1v1h-1zM223.5 319.5h1v1h-1zM233 312h1v1h-1zM233.5 311.5h1v1h-1zM255.5 298.5h1v1h-1zM229 310h1v1h-1zM220 316.5h1v1h-1zM243.5 306h1v1h-1zM234 308h1v1h-1zM267 302h1v1h-1zM232.5 316h1v1h-1zM226 308.5h1v1h-1zM238 303h1v1h-1zM283 301h1v1h-1zM256.5 314h1v1h-1zM247 306.5h1v1h-1zM254.5 300h1v1h-1zM253.5 304h1v1h-1zM274 301.5h1v1h-1zM219 318.5h1v1h-1zM236.5 317h1v1h-1zM219 311.5h1v1h-1zM330.5 279.5h1v1h-1zM283 297.5h1v1h-1zM331 281h1v1h-1zM232 314h1v1h-1zM229 310.5h1v1h-1zM340 283h1v1h-1zM260 301h1v1h-1zM228.5 313.5h1v1h-1zM255.5 307.5h1v1h-1zM257.5 304.5h1v1h-1zM240 311h1v1h-1zM236.5 311.5h1v1h-1zM235 320.5h1v1h-1zM228 311h1v1h-1zM241 308.5h1v1h-1zM271 303.5h1v1h-1zM219 312h1v1h-1zM252.5 310h1v1h-1zM267 311.5h1v1h-1zM259 306h1v1h-1zM242.5 312h1v1h-1zM251 313.5h1v1h-1zM235 312.5h1v1h-1zM256 305.5h1v1h-1zM231 311h1v1h-1zM254.5 296h1v1h-1zM286 294.5h1v1h-1zM220 311.5h1v1h-1zM236.5 302.5h1v1h-1zM245.5 312.5h1v1h-1zM242.5 309h1v1h-1zM260 298h1v1h-1zM325.5 285.5h1v1h-1zM268 304h1v1h-1zM239.5 314h1v1h-1zM270.5 305.5h1v1h-1zM244.5 301h1v1h-1zM229.5 314h1v1h-1zM252.5 306h1v1h-1zM253 303.5h1v1h-1zM226 309h1v1h-1zM250 303.5h1v1h-1zM252 299.5h1v1h-1zM220.5 314h1v1h-1zM245 313.5h1v1h-1zM248.5 310h1v1h-1zM248 297h1v1h-1zM228.5 309.5h1v1h-1zM256.5 294h1v1h-1zM226.5 308h1v1h-1zM250.5 311.5h1v1h-1zM218.5 322h1v1h-1zM260.5 308h1v1h-1zM234 315h1v1h-1zM271.5 310h1v1h-1zM232.5 304.5h1v1h-1zM335.5 287h1v1h-1zM248.5 308h1v1h-1zM217 309.5h1v1h-1zM224.5 322.5h1v1h-1zM225 313.5h1v1h-1zM220.5 331h1v1h-1zM235 298.5h1v1h-1zM280 287.5h1v1h-1zM220.5 318h1v1h-1zM226.5 308.5h1v1h-1zM261.5 311.5h1v1h-1zM244.5 306.5h1v1h-1zM245.5 300.5h1v1h-1zM265.5 303.5h1v1h-1zM241 305h1v1h-1zM232.5 311h1v1h-1zM234.5 302h1v1h-1zM271.5 295h1v1h-1zM244 315h1v1h-1zM259.5 296h1v1h-1zM235 309.5h1v1h-1zM240.5 313.5h1v1h-1zM224.5 308.5h1v1h-1zM219.5 323h1v1h-1zM256.5 307.5h1v1h-1zM248 305.5h1v1h-1zM266 310h1v1h-1zM240.5 315.5h1v1h-1zM269 315h1v1h-1zM219.5 315.5h1v1h-1zM232 311.5h1v1h-1zM255 311.5h1v1h-1zM254 301.5h1v1h-1zM252 300.5h1v1h-1zM253.5 307h1v1h-1zM287 306h1v1h-1zM264.5 299h1v1h-1zM222 318h1v1h-1zM216.5 318.5h1v1h-1zM261.5 294h1v1h-1zM226.5 310.5h1v1h-1zM227 317h1v1h-1zM219.5 325h1v1h-1zM240 307.5h1v1h-1zM239.5 310h1v1h-1zM300.5 293h1v1h-1zM256.5 295.5h1v1h-1zM219.5 320.5h1v1h-1zM220.5 319h1v1h-1zM234.5 315h1v1h-1zM240.5 311h1v1h-1zM229.5 307h1v1h-1zM314.5 282h1v1h-1zM263.5 308h1v1h-1zM242 306.5h1v1h-1zM288 295h1v1h-1zM269.5 293.5h1v1h-1zM216.5 315h1v1h-1zM278.5 300.5h1v1h-1zM225.5 309h1v1h-1zM250.5 299.5h1v1h-1zM226.5 313h1v1h-1zM226 307.5h1v1h-1zM283 288.5h1v1h-1zM227 324h1v1h-1zM256.5 310.5h1v1h-1zM224.5 321h1v1h-1zM245 311.5h1v1h-1zM247.5 305.5h1v1h-1zM233.5 310h1v1h-1zM227.5 315h1v1h-1zM217.5 324h1v1h-1zM218.5 319.5h1v1h-1zM226.5 313.5h1v1h-1zM227 313.5h1v1h-1zM225 310.5h1v1h-1zM230 315.5h1v1h-1zM247.5 316h1v1h-1zM219.5 317h1v1h-1zM259 305.5h1v1h-1zM255 311h1v1h-1zM238.5 312h1v1h-1zM219 303.5h1v1h-1zM283.5 297h1v1h-1zM245.5 314.5h1v1h-1zM279.5 287.5h1v1h-1zM267.5 300.5h1v1h-1zM247 309.5h1v1h-1zM265.5 309h1v1h-1zM228.5 314h1v1h-1zM219.5 316h1v1h-1zM249.5 309.5h1v1h-1zM233.5 313.5h1v1h-1zM280.5 305.5h1v1h-1zM313.5 278.5h1v1h-1zM250.5 308h1v1h-1zM255 304.5h1v1h-1zM289.5 298.5h1v1h-1zM219.5 315h1v1h-1zM281.5 296h1v1h-1zM304 298.5h1v1h-1zM283.5 297.5h1v1h-1zM238 313.5h1v1h-1zM311 292.5h1v1h-1zM233.5 308.5h1v1h-1zM242.5 310.5h1v1h-1zM234 308.5h1v1h-1zM246 300h1v1h-1zM224 320.5h1v1h-1zM229 302.5h1v1h-1zM263.5 299h1v1h-1zM238.5 305h1v1h-1zM230.5 312.5h1v1h-1zM220 308.5h1v1h-1zM261.5 299.5h1v1h-1zM327.5 274.5h1v1h-1zM284.5 298.5h1v1h-1zM225 306h1v1h-1zM244.5 317h1v1h-1zM246.5 315.5h1v1h-1zM254 309h1v1h-1zM265 303h1v1h-1zM291.5 277h1v1h-1zM247 317h1v1h-1zM329 282h1v1h-1zM279 302.5h1v1h-1zM225 322h1v1h-1zM287.5 291h1v1h-1zM259.5 307h1v1h-1zM255.5 304h1v1h-1zM264 299.5h1v1h-1zM262 290.5h1v1h-1zM277.5 301h1v1h-1zM271 288h1v1h-1zM250 302h1v1h-1zM231 304.5h1v1h-1zM220.5 310h1v1h-1zM263 302.5h1v1h-1zM286 291h1v1h-1zM287 290h1v1h-1zM217 325h1v1h-1zM219 322h1v1h-1zM269 301.5h1v1h-1zM225.5 318.5h1v1h-1zM238 303.5h1v1h-1zM239.5 317.5h1v1h-1zM268.5 310.5h1v1h-1zM221 325h1v1h-1zM312 283.5h1v1h-1zM221 308h1v1h-1zM232.5 307h1v1h-1zM269 304h1v1h-1zM233.5 307.5h1v1h-1zM233.5 309h1v1h-1zM236.5 299.5h1v1h-1zM231 317.5h1v1h-1zM271.5 304.5h1v1h-1zM267.5 298h1v1h-1zM252 307.5h1v1h-1zM231.5 313h1v1h-1zM265 296h1v1h-1zM241 302h1v1h-1zM229 319.5h1v1h-1zM242 314h1v1h-1zM288 283.5h1v1h-1zM251 312.5h1v1h-1zM232.5 308.5h1v1h-1zM248 307.5h1v1h-1zM267 291h1v1h-1zM250.5 310h1v1h-1zM257 304.5h1v1h-1zM251.5 302h1v1h-1zM254 314h1v1h-1zM342 282.5h1v1h-1zM342 289h1v1h-1zM225.5 318h1v1h-1zM281 287h1v1h-1zM228 314h1v1h-1zM234.5 308.5h1v1h-1zM264 296.5h1v1h-1zM234 311.5h1v1h-1zM280 288h1v1h-1zM323.5 276h1v1h-1zM256.5 306h1v1h-1zM310 284h1v1h-1zM259.5 315.5h1v1h-1zM232 316.5h1v1h-1zM241 304h1v1h-1zM273 300h1v1h-1zM218 319.5h1v1h-1zM243.5 313h1v1h-1zM293.5 295h1v1h-1zM242.5 311h1v1h-1zM235 306.5h1v1h-1zM225 307h1v1h-1zM258.5 306h1v1h-1zM262.5 302.5h1v1h-1zM237 312.5h1v1h-1zM260 293h1v1h-1zM227.5 311.5h1v1h-1zM224.5 310h1v1h-1zM253.5 295.5h1v1h-1zM231.5 311.5h1v1h-1zM249.5 312.5h1v1h-1zM237.5 310.5h1v1h-1zM240 310h1v1h-1zM276 302h1v1h-1zM237.5 309.5h1v1h-1zM258 301.5h1v1h-1zM218 318.5h1v1h-1zM227 310.5h1v1h-1zM264.5 300.5h1v1h-1zM278.5 286.5h1v1h-1zM333 282.5h1v1h-1zM242.5 300h1v1h-1zM241.5 306.5h1v1h-1zM234 314h1v1h-1zM271 292h1v1h-1zM228.5 314.5h1v1h-1zM225.5 310.5h1v1h-1zM222 308h1v1h-1zM255 305.5h1v1h-1zM236 316.5h1v1h-1zM256 301.5h1v1h-1zM259 300h1v1h-1zM235 301.5h1v1h-1zM249.5 299h1v1h-1zM226 313h1v1h-1zM254 313h1v1h-1zM257.5 299h1v1h-1zM247.5 303h1v1h-1zM239 294.5h1v1h-1zM266 293h1v1h-1zM260 309.5h1v1h-1zM239 314h1v1h-1zM259 313h1v1h-1zM254 306.5h1v1h-1zM234.5 312h1v1h-1zM298.5 287h1v1h-1zM268.5 299.5h1v1h-1zM231 313h1v1h-1zM249 303.5h1v1h-1zM241 311.5h1v1h-1zM322 289h1v1h-1zM245.5 303h1v1h-1zM257.5 304h1v1h-1zM236.5 314h1v1h-1zM223.5 315h1v1h-1zM255 301h1v1h-1zM237 318.5h1v1h-1zM258.5 315.5h1v1h-1zM290.5 299h1v1h-1zM225.5 323.5h1v1h-1zM229 301.5h1v1h-1zM232.5 305.5h1v1h-1zM248 313h1v1h-1zM221 316.5h1v1h-1zM258.5 302.5h1v1h-1zM217.5 316h1v1h-1zM235.5 316h1v1h-1zM277.5 297.5h1v1h-1zM258.5 311h1v1h-1zM259 309h1v1h-1zM271.5 306h1v1h-1zM228.5 302h1v1h-1zM243.5 305.5h1v1h-1zM276 288h1v1h-1zM253.5 300h1v1h-1zM248 316h1v1h-1zM231.5 314h1v1h-1zM236.5 300.5h1v1h-1zM270 302.5h1v1h-1zM252.5 310.5h1v1h-1zM254 305.5h1v1h-1zM249 321.5h1v1h-1zM251 311h1v1h-1zM224.5 318.5h1v1h-1zM238 311h1v1h-1zM270.5 291.5h1v1h-1zM230.5 307.5h1v1h-1zM229 308.5h1v1h-1zM234.5 299h1v1h-1zM258.5 303.5h1v1h-1zM272.5 301.5h1v1h-1zM298 284.5h1v1h-1zM245 312h1v1h-1zM234 307.5h1v1h-1zM287 287.5h1v1h-1zM234 309.5h1v1h-1zM236 313h1v1h-1zM252 303h1v1h-1zM264 311h1v1h-1zM251 302h1v1h-1zM217 322h1v1h-1zM236 318h1v1h-1zM264 302h1v1h-1zM252.5 318h1v1h-1zM249.5 308h1v1h-1zM223 308.5h1v1h-1zM220 309.5h1v1h-1zM227 306.5h1v1h-1zM231 316h1v1h-1zM240 310.5h1v1h-1zM243.5 304.5h1v1h-1zM256.5 297h1v1h-1zM255 303.5h1v1h-1zM248.5 303h1v1h-1zM232.5 312.5h1v1h-1zM247.5 302.5h1v1h-1zM245 317.5h1v1h-1zM233 307h1v1h-1zM219.5 319h1v1h-1zM268 304.5h1v1h-1zM307 284.5h1v1h-1zM262.5 298.5h1v1h-1zM226.5 314h1v1h-1zM216 320.5h1v1h-1zM219.5 314.5h1v1h-1zM279 293.5h1v1h-1zM262 301h1v1h-1zM221 314h1v1h-1zM238.5 311h1v1h-1zM296.5 289h1v1h-1zM232.5 310h1v1h-1zM250 309.5h1v1h-1zM301.5 278.5h1v1h-1zM232 315h1v1h-1zM331 286.5h1v1h-1zM252.5 304h1v1h-1zM222 319h1v1h-1zM272 293.5h1v1h-1zM250.5 302.5h1v1h-1zM223.5 320h1v1h-1zM246.5 307.5h1v1h-1zM287.5 290.5h1v1h-1zM242 312.5h1v1h-1zM256 307h1v1h-1zM221.5 325.5h1v1h-1zM343 283h1v1h-1zM264.5 303.5h1v1h-1zM260.5 305.5h1v1h-1zM242.5 314h1v1h-1zM252 314h1v1h-1zM262.5 306h1v1h-1zM235 310.5h1v1h-1zM265.5 296h1v1h-1zM227 319h1v1h-1zM264 291h1v1h-1zM251 297.5h1v1h-1zM285.5 289h1v1h-1zM282.5 299.5h1v1h-1zM267.5 296.5h1v1h-1zM222.5 311.5h1v1h-1zM284 285.5h1v1h-1zM250 296h1v1h-1zM239.5 302h1v1h-1zM240 305h1v1h-1zM227 308h1v1h-1zM253 298.5h1v1h-1zM222 307.5h1v1h-1zM220 321h1v1h-1zM243.5 307.5h1v1h-1zM235 313.5h1v1h-1zM252 308h1v1h-1zM223.5 308.5h1v1h-1zM220.5 313h1v1h-1zM241 306.5h1v1h-1zM332.5 277h1v1h-1zM275.5 296h1v1h-1zM229 316.5h1v1h-1zM269.5 291h1v1h-1zM258 300.5h1v1h-1zM255 316h1v1h-1zM223.5 303h1v1h-1zM259 301.5h1v1h-1zM259 306.5h1v1h-1zM238 310h1v1h-1zM267.5 302.5h1v1h-1zM264.5 294h1v1h-1zM222 309.5h1v1h-1zM297.5 280h1v1h-1zM222 318.5h1v1h-1zM334 280h1v1h-1zM296.5 291h1v1h-1zM239.5 318h1v1h-1zM230.5 312h1v1h-1zM225.5 307h1v1h-1zM241 306h1v1h-1zM233 302.5h1v1h-1zM253 308.5h1v1h-1zM265 301h1v1h-1zM220.5 314.5h1v1h-1zM252 308.5h1v1h-1zM233.5 315h1v1h-1zM271 300.5h1v1h-1zM245.5 294.5h1v1h-1zM257 298.5h1v1h-1zM265 310.5h1v1h-1zM249.5 308.5h1v1h-1zM290.5 296.5h1v1h-1zM248.5 315h1v1h-1zM249.5 311h1v1h-1zM268 301.5h1v1h-1zM228 315h1v1h-1zM275.5 300.5h1v1h-1zM234.5 307h1v1h-1zM243 304h1v1h-1zM253 321h1v1h-1zM221 320h1v1h-1zM256 309.5h1v1h-1zM275 297h1v1h-1zM222.5 320.5h1v1h-1zM237.5 314h1v1h-1zM250.5 309.5h1v1h-1zM247 307.5h1v1h-1zM250.5 309h1v1h-1zM254.5 295.5h1v1h-1zM251.5 306.5h1v1h-1zM227.5 316h1v1h-1zM294.5 289h1v1h-1zM305.5 289.5h1v1h-1zM240 315.5h1v1h-1zM222 314h1v1h-1zM222.5 328h1v1h-1zM232.5 306.5h1v1h-1zM265 308.5h1v1h-1zM237 307.5h1v1h-1zM229 313.5h1v1h-1zM219.5 320h1v1h-1zM230 306.5h1v1h-1zM292 299h1v1h-1zM281 292.5h1v1h-1zM261 306.5h1v1h-1zM266 301.5h1v1h-1zM215.5 326.5h1v1h-1zM272.5 297h1v1h-1zM266 298.5h1v1h-1zM278 300h1v1h-1zM246.5 313.5h1v1h-1zM265.5 301.5h1v1h-1zM235 318.5h1v1h-1zM241.5 313h1v1h-1zM270 300.5h1v1h-1zM225 302h1v1h-1zM274.5 303h1v1h-1zM216 330h1v1h-1zM285 292h1v1h-1zM255.5 301h1v1h-1zM270.5 293.5h1v1h-1zM221 325.5h1v1h-1zM253 307h1v1h-1zM252 312h1v1h-1zM242 317h1v1h-1zM263.5 298.5h1v1h-1zM263 296h1v1h-1zM275 302.5h1v1h-1zM218.5 324h1v1h-1zM275.5 292h1v1h-1zM290.5 293.5h1v1h-1zM247.5 301h1v1h-1zM256 301h1v1h-1zM250 310h1v1h-1zM231.5 314.5h1v1h-1zM227 314h1v1h-1zM232 312.5h1v1h-1zM254 302.5h1v1h-1zM259 310h1v1h-1zM244.5 308h1v1h-1zM273.5 301.5h1v1h-1zM253 314h1v1h-1zM237 311.5h1v1h-1zM256.5 291.5h1v1h-1zM238.5 309h1v1h-1zM233 315.5h1v1h-1zM225 315h1v1h-1zM241 318h1v1h-1zM226.5 312h1v1h-1zM240 318.5h1v1h-1zM217.5 327h1v1h-1zM220.5 318.5h1v1h-1zM246 302.5h1v1h-1zM249 311.5h1v1h-1zM237 315.5h1v1h-1zM243.5 306.5h1v1h-1zM223.5 318h1v1h-1zM229 306.5h1v1h-1zM241 309h1v1h-1zM245 314.5h1v1h-1zM233 321.5h1v1h-1zM248 305h1v1h-1zM272 303h1v1h-1zM225.5 310h1v1h-1zM234.5 314.5h1v1h-1zM271.5 292h1v1h-1zM251 305.5h1v1h-1zM233 318.5h1v1h-1zM235.5 302.5h1v1h-1zM239 308.5h1v1h-1zM253.5 302.5h1v1h-1zM237.5 317.5h1v1h-1zM240 306h1v1h-1zM282 303h1v1h-1zM271 305.5h1v1h-1zM216 329h1v1h-1zM272.5 316h1v1h-1zM293 301.5h1v1h-1zM224 302h1v1h-1zM231.5 312.5h1v1h-1zM256.5 312.5h1v1h-1zM219.5 326h1v1h-1zM223.5 317h1v1h-1zM271.5 298.5h1v1h-1zM334 279.5h1v1h-1zM254.5 319.5h1v1h-1zM221 320.5h1v1h-1zM223 317.5h1v1h-1zM246 311.5h1v1h-1zM247.5 309h1v1h-1zM263 292.5h1v1h-1zM257 310.5h1v1h-1zM221 330.5h1v1h-1zM279 299.5h1v1h-1zM229 313h1v1h-1zM263.5 305.5h1v1h-1zM247 302.5h1v1h-1zM230.5 309h1v1h-1zM247 303.5h1v1h-1zM241.5 305h1v1h-1zM272.5 305h1v1h-1zM308 295.5h1v1h-1zM299 284h1v1h-1zM246.5 296h1v1h-1zM251.5 303.5h1v1h-1zM312.5 289h1v1h-1zM276.5 293h1v1h-1zM227 308.5h1v1h-1zM310.5 284h1v1h-1zM251 301.5h1v1h-1zM252.5 305h1v1h-1zM275 290.5h1v1h-1zM237 327h1v1h-1zM231.5 302h1v1h-1zM223.5 316h1v1h-1zM220 314.5h1v1h-1zM222 322.5h1v1h-1zM217 323h1v1h-1zM266 301h1v1h-1zM270 305h1v1h-1zM226.5 306h1v1h-1zM263 303.5h1v1h-1zM247 308.5h1v1h-1zM264 303h1v1h-1zM257.5 302.5h1v1h-1zM244.5 304h1v1h-1zM253 304.5h1v1h-1zM223 318h1v1h-1zM268 296h1v1h-1zM222 314.5h1v1h-1zM239 314.5h1v1h-1zM244.5 306h1v1h-1zM317 280h1v1h-1zM289 295h1v1h-1zM253 309.5h1v1h-1zM255 306h1v1h-1zM239.5 316h1v1h-1zM227 305h1v1h-1zM216.5 320h1v1h-1zM272 306.5h1v1h-1zM270 292h1v1h-1zM238.5 308h1v1h-1zM217.5 315.5h1v1h-1zM245 303.5h1v1h-1zM258 305.5h1v1h-1zM231.5 315.5h1v1h-1zM245 301.5h1v1h-1zM241.5 301h1v1h-1zM303 302.5h1v1h-1zM226.5 310h1v1h-1zM223 304.5h1v1h-1zM248.5 299.5h1v1h-1zM261.5 303.5h1v1h-1zM268 293.5h1v1h-1zM219 321.5h1v1h-1zM250 300.5h1v1h-1zM245.5 316h1v1h-1zM256.5 300.5h1v1h-1zM236 309.5h1v1h-1zM223 314h1v1h-1zM265 301.5h1v1h-1zM279.5 296h1v1h-1zM238 320.5h1v1h-1zM226 310.5h1v1h-1zM237.5 314.5h1v1h-1zM287 298h1v1h-1zM225.5 308.5h1v1h-1zM288.5 297.5h1v1h-1zM240.5 296h1v1h-1zM261 317.5h1v1h-1zM221 318.5h1v1h-1zM223.5 313.5h1v1h-1zM249 312h1v1h-1zM279.5 306h1v1h-1zM266.5 296h1v1h-1zM292 290.5h1v1h-1zM233 312.5h1v1h-1zM218.5 318h1v1h-1zM262 307h1v1h-1zM268 297h1v1h-1zM239 307.5h1v1h-1zM264 301.5h1v1h-1zM250 313h1v1h-1zM268 299.5h1v1h-1zM270.5 298h1v1h-1zM284.5 296h1v1h-1zM270 297.5h1v1h-1zM276 297h1v1h-1zM244 312.5h1v1h-1zM241 310.5h1v1h-1zM224 305.5h1v1h-1zM263 294h1v1h-1zM244 318h1v1h-1zM235 308h1v1h-1zM220 327.5h1v1h-1zM230 303h1v1h-1zM231 315.5h1v1h-1zM287 293.5h1v1h-1zM231.5 321h1v1h-1zM299.5 299h1v1h-1zM220.5 305.5h1v1h-1zM249 311h1v1h-1zM239.5 301h1v1h-1zM288.5 279h1v1h-1zM273.5 300.5h1v1h-1zM235.5 310.5h1v1h-1zM225 306.5h1v1h-1zM228 313h1v1h-1zM266 297h1v1h-1zM237.5 323h1v1h-1zM294.5 277h1v1h-1zM254.5 304h1v1h-1zM285.5 291.5h1v1h-1zM273.5 307h1v1h-1zM275 304h1v1h-1zM218 320h1v1h-1zM272 300.5h1v1h-1zM234.5 318.5h1v1h-1zM242 308h1v1h-1zM259 296h1v1h-1zM225.5 316h1v1h-1zM234.5 309.5h1v1h-1zM237.5 303h1v1h-1zM217.5 321h1v1h-1zM244 307.5h1v1h-1zM342 280h1v1h-1zM240.5 317h1v1h-1zM265 307.5h1v1h-1zM239.5 309.5h1v1h-1zM289.5 303h1v1h-1zM247.5 314h1v1h-1zM266.5 312h1v1h-1zM269 301h1v1h-1zM281 298.5h1v1h-1zM307 293.5h1v1h-1zM254.5 297.5h1v1h-1zM306.5 286.5h1v1h-1zM232.5 317.5h1v1h-1zM261 300h1v1h-1zM222.5 307h1v1h-1zM229.5 306.5h1v1h-1zM237.5 306.5h1v1h-1zM280 298h1v1h-1zM258 293.5h1v1h-1zM232.5 318.5h1v1h-1zM246.5 314h1v1h-1zM234.5 310h1v1h-1zM241.5 301.5h1v1h-1zM244.5 303h1v1h-1zM256.5 302h1v1h-1zM216 317h1v1h-1zM234.5 321h1v1h-1zM220 324.5h1v1h-1zM246.5 302h1v1h-1zM272.5 307.5h1v1h-1zM259 305h1v1h-1zM257.5 302h1v1h-1zM241 298.5h1v1h-1zM242 313.5h1v1h-1zM296.5 287h1v1h-1zM261.5 309h1v1h-1zM221 321h1v1h-1zM301.5 291.5h1v1h-1zM259.5 304.5h1v1h-1zM220 317h1v1h-1zM278 299.5h1v1h-1zM247.5 300h1v1h-1zM246.5 304h1v1h-1zM230 302h1v1h-1zM255.5 317.5h1v1h-1zM243.5 315.5h1v1h-1zM247.5 311.5h1v1h-1zM274.5 294h1v1h-1zM217.5 314.5h1v1h-1zM256.5 305h1v1h-1zM265 302.5h1v1h-1zM236.5 308.5h1v1h-1zM270 298h1v1h-1zM279.5 299h1v1h-1zM279 289h1v1h-1zM252.5 307h1v1h-1zM225.5 314.5h1v1h-1zM245.5 307.5h1v1h-1zM324 290h1v1h-1zM260 296.5h1v1h-1zM343 281.5h1v1h-1zM292.5 292.5h1v1h-1zM249 306h1v1h-1zM223 323h1v1h-1zM328 282.5h1v1h-1zM258 299h1v1h-1zM281.5 294h1v1h-1zM285.5 296.5h1v1h-1zM229 307.5h1v1h-1zM315 292.5h1v1h-1zM305.5 286.5h1v1h-1zM232 303.5h1v1h-1zM238.5 314.5h1v1h-1zM254 296.5h1v1h-1zM313 285.5h1v1h-1zM304 284.5h1v1h-1zM242 312h1v1h-1zM233 316.5h1v1h-1zM290 288h1v1h-1zM249 305.5h1v1h-1zM276 300.5h1v1h-1zM216.5 323.5h1v1h-1zM266.5 301h1v1h-1zM230 306h1v1h-1zM245 312.5h1v1h-1zM237.5 315.5h1v1h-1zM223.5 307h1v1h-1zM239.5 314.5h1v1h-1zM222.5 316h1v1h-1zM218 317h1v1h-1zM232 314.5h1v1h-1zM317.5 280.5h1v1h-1zM279.5 300h1v1h-1zM241 312h1v1h-1zM266.5 303.5h1v1h-1zM309 289.5h1v1h-1zM263.5 299.5h1v1h-1zM262 305.5h1v1h-1zM250.5 310.5h1v1h-1zM246 306.5h1v1h-1zM229.5 313h1v1h-1zM235 317.5h1v1h-1zM270.5 304h1v1h-1zM233.5 315.5h1v1h-1zM252 309h1v1h-1zM262 313h1v1h-1zM229 314.5h1v1h-1zM246 303.5h1v1h-1zM262.5 290h1v1h-1zM216.5 314.5h1v1h-1zM340.5 297h1v1h-1zM232 308h1v1h-1zM226.5 312.5h1v1h-1zM234.5 311h1v1h-1zM270.5 306.5h1v1h-1zM218.5 311.5h1v1h-1zM219 314.5h1v1h-1zM227.5 323h1v1h-1zM246.5 305.5h1v1h-1zM249 304.5h1v1h-1zM245 309h1v1h-1zM245 315.5h1v1h-1zM226 319h1v1h-1zM315 273h1v1h-1zM259 307h1v1h-1zM230 317.5h1v1h-1zM255.5 303h1v1h-1zM217 314.5h1v1h-1zM220.5 315h1v1h-1zM316 287h1v1h-1zM254.5 302h1v1h-1zM223 313.5h1v1h-1zM227 304h1v1h-1zM235.5 316.5h1v1h-1zM221 319.5h1v1h-1zM225 314.5h1v1h-1zM236.5 312h1v1h-1zM260 308h1v1h-1zM262.5 300.5h1v1h-1zM243 297h1v1h-1zM230.5 313.5h1v1h-1zM217.5 316.5h1v1h-1zM255.5 310.5h1v1h-1zM242.5 315h1v1h-1zM240 313.5h1v1h-1zM238.5 316h1v1h-1zM288.5 306h1v1h-1zM230.5 308h1v1h-1zM266 304h1v1h-1zM273 301h1v1h-1zM245 304h1v1h-1zM242.5 315.5h1v1h-1zM233.5 314h1v1h-1zM245.5 298.5h1v1h-1zM236.5 316.5h1v1h-1zM290 289h1v1h-1zM282.5 288h1v1h-1zM229.5 318.5h1v1h-1zM246 300.5h1v1h-1zM267 301h1v1h-1zM284.5 285.5h1v1h-1zM236.5 298h1v1h-1zM245 304.5h1v1h-1zM236 315h1v1h-1zM261.5 301.5h1v1h-1zM284 300.5h1v1h-1zM236 302h1v1h-1zM224 315h1v1h-1zM266.5 297.5h1v1h-1zM233.5 319h1v1h-1zM233.5 319.5h1v1h-1zM218 324.5h1v1h-1zM215 318.5h1v1h-1zM234 299h1v1h-1zM235 316.5h1v1h-1zM269.5 308.5h1v1h-1zM225 308.5h1v1h-1zM320.5 283h1v1h-1zM233.5 304h1v1h-1zM253.5 304.5h1v1h-1zM262.5 314.5h1v1h-1zM240.5 312.5h1v1h-1zM275.5 287.5h1v1h-1zM270.5 307.5h1v1h-1zM235 303.5h1v1h-1zM233 310h1v1h-1zM280.5 296.5h1v1h-1zM256.5 301h1v1h-1zM305 284.5h1v1h-1zM284.5 297h1v1h-1zM243 311h1v1h-1zM270.5 307h1v1h-1zM299.5 296h1v1h-1zM239 308h1v1h-1zM227.5 310h1v1h-1zM264 291.5h1v1h-1zM318.5 277.5h1v1h-1zM323 285.5h1v1h-1zM231 304h1v1h-1zM261 298h1v1h-1zM217 316h1v1h-1zM250 311h1v1h-1zM328.5 286.5h1v1h-1zM276 303h1v1h-1zM254 312.5h1v1h-1zM216 324h1v1h-1zM282 294h1v1h-1zM239 300h1v1h-1zM223.5 308h1v1h-1zM219.5 309.5h1v1h-1zM257 309h1v1h-1zM246 309.5h1v1h-1zM217.5 321.5h1v1h-1zM240.5 305.5h1v1h-1zM340.5 271h1v1h-1zM256 311.5h1v1h-1zM251.5 292h1v1h-1zM337.5 272h1v1h-1zM253.5 306h1v1h-1zM256.5 306.5h1v1h-1zM301.5 280.5h1v1h-1zM254 303.5h1v1h-1zM298.5 300h1v1h-1zM272 292h1v1h-1zM234 305h1v1h-1zM300 286.5h1v1h-1zM234 327h1v1h-1zM230.5 311h1v1h-1zM256 300.5h1v1h-1zM245 303h1v1h-1zM265.5 302h1v1h-1zM251 306h1v1h-1zM238 326h1v1h-1zM236 308h1v1h-1zM222.5 322.5h1v1h-1zM261.5 304h1v1h-1zM220 313.5h1v1h-1zM232 317.5h1v1h-1zM235.5 303.5h1v1h-1zM231 307h1v1h-1zM236 301.5h1v1h-1zM244.5 309h1v1h-1zM267.5 306h1v1h-1zM312.5 288h1v1h-1zM255 310.5h1v1h-1zM237 301h1v1h-1zM217.5 320.5h1v1h-1zM248.5 305h1v1h-1zM257 316h1v1h-1zM228 315.5h1v1h-1zM263 301.5h1v1h-1zM250.5 314h1v1h-1zM219 316.5h1v1h-1zM259 299.5h1v1h-1zM245 302h1v1h-1zM220 317.5h1v1h-1zM216 318h1v1h-1zM224 310h1v1h-1zM219.5 327h1v1h-1zM249 308.5h1v1h-1zM243 301.5h1v1h-1zM218.5 310.5h1v1h-1zM233 309h1v1h-1zM265.5 310.5h1v1h-1zM261.5 307.5h1v1h-1zM251 300.5h1v1h-1zM226 318.5h1v1h-1zM294.5 295.5h1v1h-1zM265 303.5h1v1h-1zM229.5 319h1v1h-1zM237.5 316h1v1h-1zM223.5 306.5h1v1h-1zM231 310h1v1h-1zM317.5 281h1v1h-1zM231 316.5h1v1h-1zM252.5 308.5h1v1h-1zM258.5 312h1v1h-1zM242 302h1v1h-1zM267.5 299.5h1v1h-1zM273 303.5h1v1h-1zM260.5 307.5h1v1h-1zM245.5 301.5h1v1h-1zM242 320h1v1h-1zM252.5 300.5h1v1h-1zM234.5 318h1v1h-1zM341 264.5h1v1h-1zM324 287.5h1v1h-1zM325.5 275.5h1v1h-1zM245.5 300h1v1h-1zM336.5 287.5h1v1h-1zM251.5 306h1v1h-1zM291.5 293h1v1h-1zM283 300h1v1h-1zM238 314h1v1h-1zM215.5 325.5h1v1h-1zM244 293.5h1v1h-1zM251 309h1v1h-1zM225.5 315.5h1v1h-1zM271.5 297.5h1v1h-1zM315 274.5h1v1h-1zM267 306.5h1v1h-1zM228.5 306.5h1v1h-1zM225.5 311h1v1h-1zM300.5 287h1v1h-1zM246.5 302.5h1v1h-1zM259 304.5h1v1h-1zM246 308h1v1h-1zM227 317.5h1v1h-1zM224 309h1v1h-1zM224 320h1v1h-1zM258 304.5h1v1h-1zM261.5 306.5h1v1h-1zM264.5 298h1v1h-1zM232.5 309h1v1h-1zM246.5 313h1v1h-1zM266 309h1v1h-1zM231 309h1v1h-1zM244.5 315.5h1v1h-1zM264.5 290h1v1h-1zM257.5 306h1v1h-1zM246 302h1v1h-1zM221 317.5h1v1h-1zM250.5 311h1v1h-1zM261 307h1v1h-1zM281.5 299.5h1v1h-1zM238 310.5h1v1h-1zM246.5 311h1v1h-1zM237 302h1v1h-1zM253.5 305.5h1v1h-1zM230 305h1v1h-1zM230 308h1v1h-1zM233 319h1v1h-1zM280.5 291h1v1h-1zM234 300h1v1h-1zM240.5 314h1v1h-1zM272 302.5h1v1h-1zM236 297.5h1v1h-1zM244 314.5h1v1h-1zM248 318h1v1h-1zM253 313h1v1h-1zM236.5 320.5h1v1h-1zM264 308h1v1h-1zM252.5 309h1v1h-1zM216.5 325h1v1h-1zM239 316h1v1h-1zM226 308h1v1h-1zM249 303h1v1h-1zM220 312.5h1v1h-1zM264.5 295.5h1v1h-1zM245.5 288.5h1v1h-1zM242.5 309.5h1v1h-1zM216.5 319.5h1v1h-1zM315 277.5h1v1h-1zM235 311.5h1v1h-1zM268.5 300h1v1h-1zM266.5 304h1v1h-1zM238 304.5h1v1h-1zM222 312h1v1h-1zM269 300.5h1v1h-1zM237.5 306h1v1h-1zM273 299.5h1v1h-1zM252.5 297.5h1v1h-1zM246 308.5h1v1h-1zM259.5 304h1v1h-1zM302 288h1v1h-1zM271.5 301.5h1v1h-1zM272 295.5h1v1h-1zM268 305.5h1v1h-1zM232.5 306h1v1h-1zM219 313h1v1h-1zM237 305h1v1h-1zM247.5 308h1v1h-1zM238 313h1v1h-1zM226 312.5h1v1h-1zM241.5 307h1v1h-1zM245 317h1v1h-1zM295.5 300h1v1h-1zM269.5 302h1v1h-1zM329 276h1v1h-1zM271 305h1v1h-1zM257 301h1v1h-1zM219.5 310h1v1h-1zM247 304h1v1h-1zM224 312h1v1h-1zM234 309h1v1h-1zM236.5 307h1v1h-1zM257 303h1v1h-1zM310.5 284.5h1v1h-1zM249.5 298h1v1h-1zM220.5 323.5h1v1h-1zM224 307.5h1v1h-1zM222 321.5h1v1h-1zM247 299h1v1h-1zM220 318.5h1v1h-1zM284 302.5h1v1h-1zM221.5 318.5h1v1h-1zM269 306.5h1v1h-1zM278 295h1v1h-1zM241 294.5h1v1h-1zM252.5 308h1v1h-1zM248.5 302h1v1h-1zM327 275h1v1h-1zM281.5 291h1v1h-1zM262 298h1v1h-1zM235 322h1v1h-1zM222.5 309.5h1v1h-1zM300 292.5h1v1h-1zM228 320h1v1h-1zM274.5 291.5h1v1h-1zM257.5 308h1v1h-1zM225.5 320h1v1h-1zM328.5 289.5h1v1h-1zM224.5 315.5h1v1h-1zM247.5 306h1v1h-1zM220 322.5h1v1h-1zM224.5 316.5h1v1h-1zM262 299h1v1h-1zM282.5 300h1v1h-1zM282.5 288.5h1v1h-1zM260.5 301.5h1v1h-1zM288 292h1v1h-1zM274.5 301h1v1h-1zM222.5 308.5h1v1h-1zM273.5 302h1v1h-1zM272.5 286.5h1v1h-1zM258.5 306.5h1v1h-1zM227.5 307h1v1h-1zM227.5 309h1v1h-1zM243.5 313.5h1v1h-1zM224 318.5h1v1h-1zM256 311h1v1h-1zM259 293.5h1v1h-1zM224 311.5h1v1h-1zM228 304h1v1h-1zM272 308h1v1h-1zM248.5 317.5h1v1h-1zM234 310h1v1h-1zM235 313h1v1h-1zM280.5 290.5h1v1h-1zM249.5 297h1v1h-1zM277 315.5h1v1h-1zM235 300h1v1h-1zM279 297h1v1h-1zM234 307h1v1h-1zM251 314.5h1v1h-1zM306.5 302h1v1h-1zM236 305.5h1v1h-1zM239 304h1v1h-1zM258.5 304h1v1h-1zM288.5 290.5h1v1h-1zM277.5 297h1v1h-1zM233.5 306h1v1h-1zM242.5 308h1v1h-1zM218.5 321h1v1h-1zM226 311h1v1h-1zM240 312h1v1h-1zM237 306.5h1v1h-1zM284 298h1v1h-1zM260.5 306.5h1v1h-1zM222.5 307.5h1v1h-1zM245.5 309.5h1v1h-1zM246.5 310.5h1v1h-1zM267 301.5h1v1h-1zM267.5 309h1v1h-1zM248 298h1v1h-1zM241 307h1v1h-1zM228 329h1v1h-1zM256 298h1v1h-1zM224.5 320.5h1v1h-1zM215.5 317h1v1h-1zM300 284.5h1v1h-1zM279 304h1v1h-1zM254.5 310h1v1h-1zM236 314h1v1h-1zM272.5 297.5h1v1h-1zM243.5 309h1v1h-1zM268.5 291h1v1h-1zM217.5 319.5h1v1h-1zM216.5 316.5h1v1h-1zM236.5 304.5h1v1h-1zM242 316.5h1v1h-1zM257 308h1v1h-1zM238 308.5h1v1h-1zM286.5 293h1v1h-1zM255.5 313h1v1h-1zM245 305h1v1h-1zM330.5 283h1v1h-1zM223.5 303.5h1v1h-1zM268 297.5h1v1h-1zM220 314h1v1h-1zM243 310.5h1v1h-1zM257 291h1v1h-1zM266.5 309h1v1h-1zM309 285.5h1v1h-1zM294 290h1v1h-1zM225.5 304.5h1v1h-1zM258.5 305.5h1v1h-1zM251.5 309.5h1v1h-1zM258 301h1v1h-1zM255 310h1v1h-1zM269.5 307.5h1v1h-1zM250.5 298.5h1v1h-1zM242.5 306h1v1h-1zM263 308h1v1h-1zM312.5 285.5h1v1h-1zM274.5 309.5h1v1h-1zM249 310h1v1h-1zM227.5 317h1v1h-1zM238.5 310h1v1h-1zM250.5 298h1v1h-1zM225.5 322.5h1v1h-1zM268 296.5h1v1h-1zM289.5 296h1v1h-1zM256 300h1v1h-1zM236.5 318.5h1v1h-1zM243 308h1v1h-1zM215.5 322.5h1v1h-1zM224 302.5h1v1h-1zM265.5 300.5h1v1h-1zM244.5 312.5h1v1h-1zM262 311h1v1h-1zM233.5 305.5h1v1h-1zM290.5 298h1v1h-1zM291.5 290h1v1h-1zM283 285.5h1v1h-1zM251.5 300h1v1h-1zM263.5 296.5h1v1h-1zM259.5 301.5h1v1h-1zM235 309h1v1h-1zM303 299h1v1h-1zM226 318h1v1h-1zM248.5 305.5h1v1h-1zM294.5 279h1v1h-1zM286 305.5h1v1h-1zM247 296.5h1v1h-1zM277.5 296.5h1v1h-1zM234 301h1v1h-1zM245 308.5h1v1h-1zM259.5 300.5h1v1h-1zM240 314h1v1h-1zM273 288.5h1v1h-1zM224 314h1v1h-1zM250.5 304h1v1h-1zM218.5 323h1v1h-1zM283.5 291h1v1h-1zM278.5 299.5h1v1h-1zM253.5 297.5h1v1h-1zM250 309h1v1h-1zM285 293.5h1v1h-1zM275 305.5h1v1h-1zM320.5 286h1v1h-1zM276 308h1v1h-1zM228 308h1v1h-1zM248 313.5h1v1h-1zM273.5 297h1v1h-1zM246 313h1v1h-1zM328.5 285.5h1v1h-1zM231 328.5h1v1h-1zM264.5 305.5h1v1h-1zM280 296.5h1v1h-1zM239 319.5h1v1h-1zM303.5 279.5h1v1h-1zM268.5 305.5h1v1h-1zM321.5 297h1v1h-1zM246.5 311.5h1v1h-1zM242.5 301h1v1h-1zM264.5 300h1v1h-1zM280.5 299h1v1h-1zM273 303h1v1h-1zM242.5 306.5h1v1h-1zM332 283h1v1h-1zM231.5 306.5h1v1h-1zM229.5 303h1v1h-1zM224.5 312.5h1v1h-1zM225.5 326.5h1v1h-1zM221.5 305.5h1v1h-1zM242 296h1v1h-1zM316 286.5h1v1h-1zM218 315h1v1h-1zM284.5 296.5h1v1h-1zM218 328.5h1v1h-1zM285.5 307.5h1v1h-1zM290 298.5h1v1h-1zM240.5 309h1v1h-1zM238.5 306.5h1v1h-1zM269 303h1v1h-1zM302.5 293.5h1v1h-1zM266 307h1v1h-1zM243 307h1v1h-1zM255 308h1v1h-1zM267 311h1v1h-1zM329 280.5h1v1h-1zM245.5 302.5h1v1h-1zM264.5 302h1v1h-1zM253.5 308.5h1v1h-1zM266.5 304.5h1v1h-1zM239 303h1v1h-1zM238.5 301h1v1h-1zM244 313h1v1h-1zM232 318.5h1v1h-1zM254 307.5h1v1h-1zM220.5 327h1v1h-1zM242 308.5h1v1h-1zM241.5 311.5h1v1h-1zM262 311.5h1v1h-1zM260.5 312h1v1h-1zM218 317.5h1v1h-1zM235.5 320.5h1v1h-1zM298 290h1v1h-1zM275.5 304h1v1h-1zM280.5 298h1v1h-1zM223 316.5h1v1h-1zM331 283.5h1v1h-1zM252 312.5h1v1h-1zM229 317h1v1h-1zM301.5 296.5h1v1h-1zM256 310h1v1h-1zM220 320.5h1v1h-1zM238 297h1v1h-1zM243.5 298.5h1v1h-1zM232.5 318h1v1h-1zM274.5 295.5h1v1h-1zM325 277h1v1h-1zM276.5 310.5h1v1h-1zM249 301h1v1h-1zM242.5 302.5h1v1h-1zM223 320h1v1h-1zM276 291h1v1h-1zM235 305.5h1v1h-1zM300 298.5h1v1h-1zM272 305h1v1h-1zM262.5 305h1v1h-1zM272 299h1v1h-1zM220 322h1v1h-1zM275 305h1v1h-1zM224.5 306h1v1h-1zM260.5 306h1v1h-1zM263 304.5h1v1h-1zM249.5 304h1v1h-1zM257 305.5h1v1h-1zM258.5 296.5h1v1h-1zM244 301h1v1h-1zM276.5 304.5h1v1h-1zM292.5 294.5h1v1h-1zM228 318h1v1h-1zM312 300.5h1v1h-1zM276 303.5h1v1h-1zM271 309h1v1h-1zM243.5 309.5h1v1h-1zM224.5 307.5h1v1h-1zM337 275.5h1v1h-1zM267 300h1v1h-1zM280.5 279.5h1v1h-1zM250 308.5h1v1h-1zM269.5 294h1v1h-1zM236.5 303h1v1h-1zM251 311.5h1v1h-1zM296.5 278h1v1h-1zM237 319.5h1v1h-1zM250 310.5h1v1h-1zM253.5 310h1v1h-1zM215.5 316.5h1v1h-1zM227 312.5h1v1h-1zM223.5 307.5h1v1h-1zM250 307.5h1v1h-1zM242 311.5h1v1h-1zM281.5 296.5h1v1h-1zM235 314h1v1h-1zM298 284h1v1h-1zM275 302h1v1h-1zM263 317h1v1h-1zM253 306h1v1h-1zM224 322h1v1h-1zM247.5 314.5h1v1h-1zM262.5 304.5h1v1h-1zM229.5 310.5h1v1h-1zM262.5 301h1v1h-1zM324.5 278.5h1v1h-1zM239.5 306h1v1h-1zM231 320.5h1v1h-1zM259.5 298h1v1h-1zM237 315h1v1h-1zM258.5 300h1v1h-1zM264 309.5h1v1h-1zM236.5 310h1v1h-1zM232.5 321.5h1v1h-1zM221.5 320.5h1v1h-1zM339.5 276h1v1h-1zM259 293h1v1h-1zM238.5 304.5h1v1h-1zM249 315.5h1v1h-1zM250.5 312.5h1v1h-1zM234 315.5h1v1h-1zM269 296.5h1v1h-1zM326.5 292.5h1v1h-1zM268.5 307.5h1v1h-1zM216 321.5h1v1h-1zM267 307.5h1v1h-1zM216 319.5h1v1h-1zM233 308h1v1h-1zM249 299h1v1h-1zM337.5 281.5h1v1h-1zM244.5 298.5h1v1h-1zM236.5 302h1v1h-1zM254.5 308h1v1h-1zM224 324h1v1h-1zM248 301.5h1v1h-1zM250 313.5h1v1h-1zM280.5 304h1v1h-1zM240.5 299.5h1v1h-1zM262 303.5h1v1h-1zM215.5 313.5h1v1h-1zM222.5 302h1v1h-1zM245 310.5h1v1h-1zM218 322.5h1v1h-1zM328 290h1v1h-1zM225.5 303h1v1h-1zM229 318.5h1v1h-1zM233 313.5h1v1h-1zM232 316h1v1h-1zM285 281h1v1h-1zM231 305h1v1h-1zM244 309.5h1v1h-1zM260.5 309h1v1h-1zM220.5 320.5h1v1h-1zM277.5 284.5h1v1h-1zM289.5 292h1v1h-1zM219.5 323.5h1v1h-1zM303 292h1v1h-1zM231 303.5h1v1h-1zM248.5 304h1v1h-1zM219.5 313.5h1v1h-1zM233.5 308h1v1h-1zM272 298.5h1v1h-1zM241.5 302.5h1v1h-1zM252.5 303h1v1h-1zM268.5 294h1v1h-1zM230.5 309.5h1v1h-1zM237 303.5h1v1h-1zM219 335h1v1h-1zM290 303h1v1h-1zM233 305h1v1h-1zM249.5 301.5h1v1h-1zM224.5 314.5h1v1h-1zM272 299.5h1v1h-1zM229 318h1v1h-1zM248 320h1v1h-1zM236 317h1v1h-1zM241 314h1v1h-1zM229.5 321h1v1h-1zM302.5 283.5h1v1h-1zM237 316h1v1h-1zM289 297.5h1v1h-1zM323.5 280.5h1v1h-1zM246 309h1v1h-1zM261.5 308.5h1v1h-1zM269.5 304.5h1v1h-1zM249.5 304.5h1v1h-1zM243.5 302.5h1v1h-1zM229 325h1v1h-1zM282.5 299h1v1h-1zM256.5 309.5h1v1h-1zM250.5 313h1v1h-1zM229.5 304.5h1v1h-1zM301 294.5h1v1h-1zM238.5 320.5h1v1h-1zM221.5 323h1v1h-1zM296 290.5h1v1h-1zM256 305h1v1h-1zM223.5 318.5h1v1h-1zM286 295.5h1v1h-1zM216 319h1v1h-1zM254.5 292h1v1h-1zM245.5 315h1v1h-1zM243 313.5h1v1h-1zM281 291h1v1h-1zM219 323.5h1v1h-1zM310 282.5h1v1h-1zM240.5 308h1v1h-1zM261 307.5h1v1h-1zM253.5 299h1v1h-1zM251 299.5h1v1h-1zM257.5 312h1v1h-1zM277.5 313h1v1h-1zM277 304.5h1v1h-1zM259 297h1v1h-1zM244.5 311.5h1v1h-1zM269.5 301h1v1h-1zM254 301h1v1h-1zM228.5 308.5h1v1h-1zM282 288h1v1h-1zM245.5 312h1v1h-1zM265.5 299h1v1h-1zM225.5 321h1v1h-1zM258 307.5h1v1h-1zM281.5 290h1v1h-1zM247 301.5h1v1h-1zM238.5 298h1v1h-1zM223 309.5h1v1h-1zM241 304.5h1v1h-1zM274 294h1v1h-1zM290.5 300.5h1v1h-1zM225 319.5h1v1h-1zM271 301h1v1h-1zM228 303.5h1v1h-1zM230 324h1v1h-1zM320.5 279.5h1v1h-1zM271 300h1v1h-1zM263 306h1v1h-1zM323 291.5h1v1h-1zM215 317.5h1v1h-1zM217.5 323h1v1h-1zM231.5 316.5h1v1h-1zM218 311.5h1v1h-1zM231.5 319.5h1v1h-1zM273.5 295.5h1v1h-1zM245.5 306.5h1v1h-1zM239.5 307.5h1v1h-1zM281.5 290.5h1v1h-1zM262.5 305.5h1v1h-1zM225 324.5h1v1h-1zM312 289.5h1v1h-1zM243.5 296h1v1h-1zM323 278.5h1v1h-1zM254.5 296.5h1v1h-1zM299.5 284.5h1v1h-1zM251.5 297.5h1v1h-1zM270.5 303h1v1h-1zM229.5 313.5h1v1h-1zM270.5 301h1v1h-1zM220 313h1v1h-1zM270.5 292h1v1h-1zM243 303.5h1v1h-1zM252 297.5h1v1h-1zM229.5 318h1v1h-1zM300 284h1v1h-1zM249 326h1v1h-1zM272 311.5h1v1h-1zM232 307.5h1v1h-1zM317.5 284.5h1v1h-1zM292.5 301h1v1h-1zM291 295h1v1h-1zM276.5 292h1v1h-1zM266.5 300.5h1v1h-1zM263 295h1v1h-1zM234 310.5h1v1h-1zM256.5 300h1v1h-1zM232 319h1v1h-1zM273 300.5h1v1h-1zM276.5 297.5h1v1h-1zM313.5 297.5h1v1h-1zM340.5 279.5h1v1h-1zM246 301h1v1h-1zM265.5 289h1v1h-1zM268.5 298h1v1h-1zM232.5 305h1v1h-1zM325.5 288h1v1h-1zM248.5 298h1v1h-1zM252.5 312h1v1h-1zM239 315.5h1v1h-1zM266 302.5h1v1h-1zM234 303.5h1v1h-1zM245.5 295.5h1v1h-1zM228 301.5h1v1h-1zM243.5 302h1v1h-1zM230 313.5h1v1h-1zM240 308h1v1h-1zM249.5 300.5h1v1h-1zM236 306h1v1h-1zM255 304h1v1h-1zM264 310h1v1h-1zM228 317h1v1h-1zM236 305h1v1h-1zM229 309.5h1v1h-1zM256.5 310h1v1h-1zM259 303.5h1v1h-1zM232.5 314.5h1v1h-1zM220.5 321h1v1h-1zM245.5 316.5h1v1h-1zM267 296.5h1v1h-1zM273 298h1v1h-1zM268 294h1v1h-1zM237.5 307.5h1v1h-1zM259.5 311.5h1v1h-1zM224.5 303.5h1v1h-1zM225.5 317.5h1v1h-1zM284 297h1v1h-1zM230 320.5h1v1h-1zM238 309.5h1v1h-1zM261 305.5h1v1h-1zM220 324h1v1h-1zM230 312h1v1h-1zM316.5 282.5h1v1h-1zM220 321.5h1v1h-1zM215.5 316h1v1h-1zM227 319.5h1v1h-1zM231.5 303h1v1h-1zM216.5 323h1v1h-1zM254.5 311h1v1h-1zM234 306h1v1h-1zM244 303h1v1h-1zM295 292h1v1h-1zM222.5 319h1v1h-1zM335.5 278.5h1v1h-1zM243 302.5h1v1h-1zM247 305.5h1v1h-1zM231.5 309h1v1h-1zM239.5 309h1v1h-1zM231.5 318h1v1h-1zM246.5 316h1v1h-1zM253.5 314h1v1h-1zM230.5 316.5h1v1h-1zM221 338h1v1h-1zM278 301.5h1v1h-1zM230.5 317.5h1v1h-1zM290.5 298.5h1v1h-1zM235.5 321h1v1h-1zM287.5 290h1v1h-1zM262 310.5h1v1h-1zM244.5 305.5h1v1h-1zM219 324h1v1h-1zM245 313h1v1h-1zM240.5 303.5h1v1h-1zM278 312h1v1h-1zM258.5 301.5h1v1h-1zM217 315.5h1v1h-1zM267 307h1v1h-1zM258 302.5h1v1h-1zM242 302.5h1v1h-1zM236 320h1v1h-1zM282.5 298h1v1h-1zM219 327.5h1v1h-1zM218 326h1v1h-1zM230 305.5h1v1h-1zM292 286.5h1v1h-1zM299.5 293h1v1h-1zM339 280.5h1v1h-1zM272.5 299.5h1v1h-1zM236.5 321.5h1v1h-1zM336 273.5h1v1h-1zM248 309.5h1v1h-1zM226.5 322h1v1h-1zM240 313h1v1h-1zM238.5 304h1v1h-1zM233.5 301.5h1v1h-1zM289.5 283h1v1h-1zM281.5 289.5h1v1h-1zM263.5 303.5h1v1h-1zM281.5 307.5h1v1h-1zM244 300.5h1v1h-1zM240.5 306.5h1v1h-1zM239.5 300.5h1v1h-1zM255 300.5h1v1h-1zM251.5 301h1v1h-1zM261 308.5h1v1h-1zM231 322h1v1h-1zM228 309.5h1v1h-1zM267.5 307h1v1h-1zM271.5 300.5h1v1h-1zM229.5 305h1v1h-1zM255 299.5h1v1h-1zM286.5 307.5h1v1h-1zM275.5 314.5h1v1h-1zM239.5 318.5h1v1h-1zM251 310.5h1v1h-1zM284.5 279h1v1h-1zM226 303.5h1v1h-1zM244 305.5h1v1h-1zM219 321h1v1h-1zM249 313.5h1v1h-1zM236.5 315h1v1h-1zM252.5 321.5h1v1h-1zM220.5 323h1v1h-1zM299 297.5h1v1h-1zM255 299h1v1h-1zM265.5 295h1v1h-1zM254 302h1v1h-1zM230 316h1v1h-1zM274 298h1v1h-1zM218.5 312.5h1v1h-1zM248.5 308.5h1v1h-1zM230.5 318.5h1v1h-1zM259.5 309.5h1v1h-1zM238 316h1v1h-1zM252 298.5h1v1h-1zM216 329.5h1v1h-1zM223 309h1v1h-1zM247.5 306.5h1v1h-1zM275.5 298h1v1h-1zM285 298.5h1v1h-1zM271 289.5h1v1h-1zM241.5 308h1v1h-1zM271.5 300h1v1h-1zM217 325.5h1v1h-1zM229 317.5h1v1h-1zM238.5 306h1v1h-1zM258.5 309.5h1v1h-1zM273 283.5h1v1h-1zM234.5 315.5h1v1h-1zM258 311h1v1h-1zM270.5 308.5h1v1h-1zM335.5 291h1v1h-1zM263.5 298h1v1h-1zM236 311h1v1h-1zM221 306.5h1v1h-1zM228.5 307.5h1v1h-1zM322 284.5h1v1h-1zM251.5 313.5h1v1h-1zM251 296.5h1v1h-1zM252.5 311.5h1v1h-1zM293 283h1v1h-1zM242 305.5h1v1h-1zM245.5 304.5h1v1h-1zM267.5 297h1v1h-1zM246 293.5h1v1h-1zM231 319h1v1h-1zM222.5 323h1v1h-1zM265 298h1v1h-1zM271 298.5h1v1h-1zM270 300h1v1h-1zM244.5 312h1v1h-1zM223 325h1v1h-1zM256 297h1v1h-1zM307.5 294h1v1h-1zM246.5 327h1v1h-1zM262.5 310h1v1h-1zM254.5 298.5h1v1h-1zM252 320h1v1h-1zM247 306h1v1h-1zM231.5 304.5h1v1h-1zM280 297.5h1v1h-1zM256.5 303.5h1v1h-1zM262 300.5h1v1h-1zM224.5 310.5h1v1h-1zM221 311.5h1v1h-1zM249 300h1v1h-1zM258.5 307.5h1v1h-1zM239.5 311h1v1h-1zM252.5 302h1v1h-1zM233.5 320.5h1v1h-1zM249.5 305h1v1h-1zM330 287.5h1v1h-1zM238.5 313.5h1v1h-1zM222.5 332.5h1v1h-1zM321.5 273h1v1h-1zM279 278h1v1h-1zM268 307h1v1h-1zM230 308.5h1v1h-1zM229 315h1v1h-1zM272.5 295h1v1h-1zM269 295h1v1h-1zM281 294.5h1v1h-1zM260.5 289.5h1v1h-1zM269.5 305h1v1h-1zM253 301h1v1h-1zM227 316.5h1v1h-1zM234 296h1v1h-1zM325 293h1v1h-1zM232 310.5h1v1h-1zM237.5 305h1v1h-1zM222 310.5h1v1h-1zM284 274.5h1v1h-1zM266 300h1v1h-1zM247 310.5h1v1h-1zM269.5 300h1v1h-1zM272.5 299h1v1h-1zM254.5 305.5h1v1h-1zM252.5 299h1v1h-1zM276 286.5h1v1h-1zM269 308.5h1v1h-1zM291.5 296.5h1v1h-1zM234 319h1v1h-1zM281.5 295.5h1v1h-1zM228 321.5h1v1h-1zM263.5 307h1v1h-1zM300 300.5h1v1h-1zM333.5 288.5h1v1h-1zM318.5 288.5h1v1h-1zM303.5 294h1v1h-1zM329.5 280.5h1v1h-1zM241 316.5h1v1h-1zM254.5 298h1v1h-1zM277 288.5h1v1h-1zM233 302h1v1h-1zM261 319h1v1h-1zM228.5 316.5h1v1h-1zM293.5 290h1v1h-1zM253.5 314.5h1v1h-1zM223.5 321.5h1v1h-1zM228.5 328h1v1h-1zM328.5 263.5h1v1h-1zM277.5 299h1v1h-1zM269.5 300.5h1v1h-1zM317.5 285h1v1h-1zM261 315h1v1h-1zM320.5 295h1v1h-1zM243.5 320h1v1h-1zM277 298h1v1h-1zM237 321h1v1h-1zM215.5 317.5h1v1h-1zM281 289.5h1v1h-1zM256.5 299.5h1v1h-1zM329 288h1v1h-1zM300.5 299h1v1h-1zM232.5 319.5h1v1h-1zM233 305.5h1v1h-1zM229.5 316h1v1h-1zM270 308h1v1h-1zM220 319h1v1h-1zM243 313h1v1h-1zM257 309.5h1v1h-1zM217.5 315h1v1h-1zM307.5 283h1v1h-1zM313.5 293.5h1v1h-1zM231.5 320h1v1h-1zM224 309.5h1v1h-1zM263.5 306.5h1v1h-1zM221 323.5h1v1h-1zM263 305h1v1h-1zM262 308.5h1v1h-1zM215.5 331h1v1h-1zM235.5 324.5h1v1h-1zM257.5 308.5h1v1h-1zM259 308.5h1v1h-1zM292 280h1v1h-1zM293.5 300.5h1v1h-1zM217.5 322h1v1h-1zM264.5 301.5h1v1h-1zM263.5 307.5h1v1h-1zM255 315h1v1h-1zM295.5 285h1v1h-1zM263.5 306h1v1h-1zM249.5 303.5h1v1h-1zM255 312h1v1h-1zM245.5 311h1v1h-1zM225 320h1v1h-1zM243.5 316h1v1h-1zM226 321.5h1v1h-1zM302.5 288.5h1v1h-1zM241.5 302h1v1h-1zM249 294.5h1v1h-1zM239 317h1v1h-1zM318.5 281.5h1v1h-1zM218.5 326.5h1v1h-1zM264 311.5h1v1h-1zM305.5 301h1v1h-1zM288 289h1v1h-1zM245 289h1v1h-1zM258 302h1v1h-1zM233 310.5h1v1h-1zM225.5 319.5h1v1h-1zM251.5 308.5h1v1h-1zM254.5 301h1v1h-1zM257.5 288.5h1v1h-1zM231.5 305.5h1v1h-1zM265 299.5h1v1h-1zM271 276.5h1v1h-1zM283.5 302.5h1v1h-1zM251 300h1v1h-1zM234.5 316.5h1v1h-1zM245.5 295h1v1h-1zM288.5 287.5h1v1h-1zM226.5 319.5h1v1h-1zM274 300.5h1v1h-1zM265.5 299.5h1v1h-1zM222 308.5h1v1h-1zM243.5 325h1v1h-1zM271 289h1v1h-1zM252 302.5h1v1h-1zM275.5 294h1v1h-1zM277 295h1v1h-1zM249.5 303h1v1h-1zM265.5 308h1v1h-1zM272.5 310h1v1h-1zM241 312.5h1v1h-1zM258.5 302h1v1h-1zM259.5 308.5h1v1h-1zM233 320.5h1v1h-1zM271.5 297h1v1h-1zM264.5 298.5h1v1h-1zM282.5 292.5h1v1h-1zM227.5 320h1v1h-1zM257.5 296.5h1v1h-1zM240 305.5h1v1h-1zM238.5 305.5h1v1h-1zM254 300.5h1v1h-1zM264.5 303h1v1h-1zM241 303h1v1h-1zM219.5 311h1v1h-1zM262 302h1v1h-1zM239.5 298.5h1v1h-1zM236 302.5h1v1h-1zM246.5 304.5h1v1h-1zM324 285h1v1h-1zM265.5 310h1v1h-1zM278 295.5h1v1h-1zM243 306.5h1v1h-1zM318.5 269.5h1v1h-1zM245.5 311.5h1v1h-1zM230.5 320h1v1h-1zM274 306.5h1v1h-1zM281.5 300.5h1v1h-1zM299 284.5h1v1h-1zM265 302h1v1h-1zM274 299.5h1v1h-1zM239.5 301.5h1v1h-1zM267.5 295.5h1v1h-1zM322.5 279h1v1h-1zM239 304.5h1v1h-1zM271.5 298h1v1h-1zM237.5 319.5h1v1h-1zM239.5 319h1v1h-1zM265 290.5h1v1h-1zM262 309h1v1h-1zM240 301h1v1h-1zM219 310h1v1h-1zM260 314.5h1v1h-1zM226.5 319h1v1h-1zM255 300h1v1h-1zM340 274h1v1h-1zM301.5 295.5h1v1h-1zM225 318h1v1h-1zM220.5 322.5h1v1h-1zM216.5 311.5h1v1h-1zM285.5 305h1v1h-1zM239.5 313.5h1v1h-1zM227 323h1v1h-1zM244 299.5h1v1h-1zM336 286h1v1h-1zM293 297h1v1h-1zM220.5 328.5h1v1h-1zM246.5 312h1v1h-1zM260.5 298h1v1h-1zM223.5 314h1v1h-1zM278.5 298.5h1v1h-1zM294 308.5h1v1h-1zM263.5 308.5h1v1h-1zM329 286h1v1h-1zM270.5 305h1v1h-1zM311 288.5h1v1h-1zM223 322h1v1h-1zM249.5 311.5h1v1h-1zM227.5 318.5h1v1h-1zM219.5 312h1v1h-1zM218.5 309.5h1v1h-1zM242.5 297h1v1h-1zM258.5 308.5h1v1h-1zM217 324.5h1v1h-1zM215 321h1v1h-1zM275 312h1v1h-1zM261 299h1v1h-1zM296 282h1v1h-1zM270.5 309h1v1h-1zM267.5 297.5h1v1h-1zM247 314h1v1h-1zM239 303.5h1v1h-1zM263.5 304.5h1v1h-1zM248 303.5h1v1h-1zM244.5 299.5h1v1h-1zM242 310h1v1h-1zM237 303h1v1h-1zM217 329.5h1v1h-1zM254.5 316h1v1h-1zM261 304h1v1h-1zM275 298.5h1v1h-1zM240 317h1v1h-1zM283.5 292h1v1h-1zM269 307.5h1v1h-1zM256 299.5h1v1h-1zM242 299h1v1h-1zM250.5 305.5h1v1h-1zM218 320.5h1v1h-1zM259 309.5h1v1h-1zM247 313h1v1h-1zM276.5 292.5h1v1h-1zM263.5 310h1v1h-1zM231.5 308.5h1v1h-1zM261 296h1v1h-1zM316 282h1v1h-1zM278 302.5h1v1h-1zM241.5 322.5h1v1h-1zM282 303.5h1v1h-1zM262.5 303h1v1h-1zM275 307h1v1h-1zM272.5 308h1v1h-1zM278 298.5h1v1h-1zM333.5 278h1v1h-1zM268.5 308.5h1v1h-1zM259 308h1v1h-1zM252 298h1v1h-1zM280.5 302.5h1v1h-1zM233 303.5h1v1h-1zM262 315h1v1h-1zM235.5 314.5h1v1h-1zM247 304.5h1v1h-1zM276.5 304h1v1h-1zM256.5 301.5h1v1h-1zM250.5 301h1v1h-1zM220.5 308.5h1v1h-1zM254 312h1v1h-1zM275 300h1v1h-1zM245 320h1v1h-1zM262.5 312h1v1h-1zM276.5 294h1v1h-1zM226 322h1v1h-1zM253 302.5h1v1h-1zM255.5 295.5h1v1h-1zM269 304.5h1v1h-1zM227.5 317.5h1v1h-1zM264.5 297h1v1h-1zM221.5 329h1v1h-1zM274 298.5h1v1h-1zM220.5 309.5h1v1h-1zM258.5 296h1v1h-1zM256.5 317h1v1h-1zM309 283.5h1v1h-1zM251.5 299.5h1v1h-1zM242 305h1v1h-1zM226.5 306.5h1v1h-1zM261.5 312.5h1v1h-1zM236.5 314.5h1v1h-1zM273.5 314.5h1v1h-1zM336.5 280h1v1h-1zM284 289h1v1h-1zM242.5 294.5h1v1h-1zM280 291.5h1v1h-1zM242 301.5h1v1h-1zM233.5 317h1v1h-1zM222 321h1v1h-1zM309 286h1v1h-1zM255 288.5h1v1h-1zM263 303h1v1h-1zM236.5 309h1v1h-1zM286.5 299h1v1h-1zM258.5 308h1v1h-1zM240.5 298.5h1v1h-1zM314.5 290.5h1v1h-1zM249.5 302.5h1v1h-1zM250.5 307h1v1h-1zM221 328.5h1v1h-1zM248 317h1v1h-1zM293.5 296.5h1v1h-1zM232 305h1v1h-1zM282.5 295h1v1h-1zM248.5 301h1v1h-1zM238 307.5h1v1h-1zM294 288h1v1h-1zM263.5 311h1v1h-1zM266 299h1v1h-1zM293.5 293.5h1v1h-1zM320 285.5h1v1h-1zM244.5 301.5h1v1h-1zM261 300.5h1v1h-1zM281 299.5h1v1h-1zM260 311.5h1v1h-1zM262.5 302h1v1h-1zM269.5 298h1v1h-1zM249 306.5h1v1h-1zM267 297h1v1h-1zM245 297h1v1h-1zM260.5 301h1v1h-1zM240 321.5h1v1h-1zM221.5 324h1v1h-1zM246 306h1v1h-1zM278.5 292h1v1h-1zM237.5 318.5h1v1h-1zM276 293h1v1h-1zM286 303.5h1v1h-1zM290 298h1v1h-1zM269 300h1v1h-1zM274 295h1v1h-1zM331 268h1v1h-1zM253 304h1v1h-1zM282.5 305h1v1h-1zM228.5 317.5h1v1h-1zM311 278h1v1h-1zM221 312h1v1h-1zM243 312.5h1v1h-1zM266.5 307h1v1h-1zM275 307.5h1v1h-1zM254 298h1v1h-1zM248 309h1v1h-1zM311 287.5h1v1h-1zM249.5 306h1v1h-1zM285.5 289.5h1v1h-1zM331.5 280h1v1h-1zM266 311.5h1v1h-1zM266 303h1v1h-1zM269.5 311h1v1h-1zM224.5 306.5h1v1h-1zM273.5 299.5h1v1h-1zM328 280.5h1v1h-1zM258.5 298.5h1v1h-1zM265 304h1v1h-1zM218 323.5h1v1h-1zM298 294h1v1h-1zM299.5 295.5h1v1h-1zM275.5 300h1v1h-1zM250 314h1v1h-1zM269 303.5h1v1h-1zM302.5 276.5h1v1h-1zM275 303h1v1h-1zM242.5 313.5h1v1h-1zM255 313h1v1h-1zM231 309.5h1v1h-1zM275 300.5h1v1h-1zM219 312.5h1v1h-1zM281 299h1v1h-1zM269.5 296h1v1h-1zM238.5 302h1v1h-1zM257 298h1v1h-1zM291.5 286h1v1h-1zM236.5 317.5h1v1h-1zM256 304h1v1h-1zM332.5 291.5h1v1h-1zM273 293h1v1h-1zM227.5 318h1v1h-1zM271.5 294h1v1h-1zM242 313h1v1h-1zM237 301.5h1v1h-1zM275 293h1v1h-1zM274 313.5h1v1h-1zM298.5 278h1v1h-1zM234.5 320.5h1v1h-1zM272 312.5h1v1h-1zM234.5 303h1v1h-1zM325 282.5h1v1h-1zM297.5 289h1v1h-1zM233.5 303.5h1v1h-1zM249 298.5h1v1h-1zM229.5 322h1v1h-1zM248 308.5h1v1h-1zM236.5 305h1v1h-1zM296 294h1v1h-1zM256 299h1v1h-1zM285.5 286.5h1v1h-1zM274 293.5h1v1h-1zM243.5 301.5h1v1h-1zM293.5 287h1v1h-1zM232 308.5h1v1h-1zM288 291.5h1v1h-1zM240 320h1v1h-1zM225 318.5h1v1h-1zM238.5 303h1v1h-1zM220 308h1v1h-1zM238.5 322.5h1v1h-1zM234 323.5h1v1h-1zM269 306h1v1h-1zM234.5 311.5h1v1h-1zM245.5 305.5h1v1h-1zM220.5 308h1v1h-1zM233 304.5h1v1h-1zM233.5 306.5h1v1h-1zM254 307h1v1h-1zM271.5 302.5h1v1h-1zM260.5 300.5h1v1h-1zM286.5 296h1v1h-1zM242 315h1v1h-1zM286.5 297h1v1h-1zM262.5 296.5h1v1h-1zM240.5 315h1v1h-1zM244 297.5h1v1h-1zM290.5 307h1v1h-1zM295.5 303.5h1v1h-1zM282 296h1v1h-1zM249 302h1v1h-1zM253.5 312.5h1v1h-1zM232 318h1v1h-1zM238 315.5h1v1h-1zM285.5 287h1v1h-1zM317.5 289.5h1v1h-1zM228.5 306h1v1h-1zM237.5 301.5h1v1h-1zM279.5 297h1v1h-1zM237.5 309h1v1h-1zM255 298.5h1v1h-1zM246.5 314.5h1v1h-1zM294.5 272.5h1v1h-1zM257 305h1v1h-1zM227.5 321h1v1h-1zM269 311.5h1v1h-1zM249 316h1v1h-1zM229.5 295.5h1v1h-1zM266 294.5h1v1h-1zM255 317h1v1h-1zM259.5 299h1v1h-1zM278.5 293.5h1v1h-1zM257.5 300h1v1h-1zM259 303h1v1h-1zM260 310.5h1v1h-1zM246.5 300.5h1v1h-1zM223.5 309h1v1h-1zM288 288.5h1v1h-1zM273.5 302.5h1v1h-1zM261 302.5h1v1h-1zM286 288h1v1h-1zM257 300.5h1v1h-1zM230.5 314.5h1v1h-1zM250 306h1v1h-1zM269 298h1v1h-1zM259.5 311h1v1h-1zM289.5 290h1v1h-1zM244.5 318.5h1v1h-1zM255 288h1v1h-1zM265.5 300h1v1h-1zM220 323.5h1v1h-1zM267 299.5h1v1h-1zM294 280.5h1v1h-1zM256.5 297.5h1v1h-1zM331 280.5h1v1h-1zM218.5 342h1v1h-1zM216.5 335.5h1v1h-1zM217 330.5h1v1h-1zM217 344.5h1v1h-1zM215 333h1v1h-1zM216.5 340.5h1v1h-1zM217.5 343.5h1v1h-1zM216.5 329.5h1v1h-1zM215.5 333.5h1v1h-1zM218 342.5h1v1h-1zM217 336.5h1v1h-1zM216 336h1v1h-1zM218.5 345h1v1h-1zM217.5 339h1v1h-1zM215.5 327.5h1v1h-1zM216.5 329h1v1h-1zM217 334.5h1v1h-1zM216 341.5h1v1h-1zM218.5 330.5h1v1h-1zM217.5 328.5h1v1h-1zM219 341h1v1h-1zM218 338h1v1h-1zM252 288.5h1v1h-1zM335.5 281.5h1v1h-1zM244.5 272h1v1h-1zM243.5 293h1v1h-1zM264 288h1v1h-1zM249.5 291.5h1v1h-1zM302.5 284.5h1v1h-1zM236 285.5h1v1h-1zM329.5 280h1v1h-1zM325 271.5h1v1h-1zM222.5 279h1v1h-1zM287 278h1v1h-1zM235 283.5h1v1h-1zM253 282h1v1h-1zM272 264.5h1v1h-1zM276.5 291h1v1h-1zM278 293h1v1h-1zM333.5 279h1v1h-1zM253 284.5h1v1h-1zM244.5 277h1v1h-1zM302.5 279h1v1h-1zM332.5 280.5h1v1h-1zM327.5 267.5h1v1h-1zM229.5 274.5h1v1h-1zM334.5 282.5h1v1h-1zM300 288h1v1h-1zM326.5 287h1v1h-1zM271 285.5h1v1h-1zM248.5 281h1v1h-1zM317 285.5h1v1h-1zM301.5 282.5h1v1h-1zM315.5 274.5h1v1h-1zM246 282h1v1h-1zM238 295h1v1h-1zM313.5 280.5h1v1h-1zM224.5 290.5h1v1h-1zM238 288h1v1h-1zM294 281h1v1h-1zM272.5 271h1v1h-1zM261 286h1v1h-1zM242.5 291.5h1v1h-1zM315.5 281h1v1h-1zM331.5 267h1v1h-1z" fill="#000"/>
<text class="h" style="stroke-width:0.3px" x="386.2" y="263.6" font-size="14">Intracellular IL-24</text>
<rect x="379" y="250.4" width="137.2" height="108.2" fill="none" stroke="#888" stroke-width="1"/>
<line x1="379" y1="250.4" x2="379" y2="358.6" stroke="#111" stroke-width="1.3"/>
<line x1="379" y1="358.6" x2="516.2" y2="358.6" stroke="#666" stroke-width="1"/>
<line x1="375.5" y1="358.60" x2="379" y2="358.60" stroke="#111" stroke-width="0.9"/>
<line x1="376.4" y1="355.28" x2="379" y2="355.28" stroke="#111" stroke-width="0.9"/>
<line x1="376.4" y1="351.96" x2="379" y2="351.96" stroke="#111" stroke-width="0.9"/>
<line x1="376.4" y1="348.64" x2="379" y2="348.64" stroke="#111" stroke-width="0.9"/>
<line x1="376.4" y1="345.32" x2="379" y2="345.32" stroke="#111" stroke-width="0.9"/>
<line x1="375.5" y1="342.00" x2="379" y2="342.00" stroke="#111" stroke-width="0.9"/>
<line x1="376.4" y1="338.68" x2="379" y2="338.68" stroke="#111" stroke-width="0.9"/>
<line x1="376.4" y1="335.36" x2="379" y2="335.36" stroke="#111" stroke-width="0.9"/>
<line x1="376.4" y1="332.04" x2="379" y2="332.04" stroke="#111" stroke-width="0.9"/>
<line x1="376.4" y1="328.72" x2="379" y2="328.72" stroke="#111" stroke-width="0.9"/>
<line x1="375.5" y1="325.40" x2="379" y2="325.40" stroke="#111" stroke-width="0.9"/>
<line x1="376.4" y1="322.08" x2="379" y2="322.08" stroke="#111" stroke-width="0.9"/>
<line x1="376.4" y1="318.76" x2="379" y2="318.76" stroke="#111" stroke-width="0.9"/>
<line x1="376.4" y1="315.44" x2="379" y2="315.44" stroke="#111" stroke-width="0.9"/>
<line x1="376.4" y1="312.12" x2="379" y2="312.12" stroke="#111" stroke-width="0.9"/>
<line x1="375.5" y1="308.80" x2="379" y2="308.80" stroke="#111" stroke-width="0.9"/>
<line x1="376.4" y1="305.48" x2="379" y2="305.48" stroke="#111" stroke-width="0.9"/>
<line x1="376.4" y1="302.16" x2="379" y2="302.16" stroke="#111" stroke-width="0.9"/>
<line x1="376.4" y1="298.84" x2="379" y2="298.84" stroke="#111" stroke-width="0.9"/>
<line x1="376.4" y1="295.52" x2="379" y2="295.52" stroke="#111" stroke-width="0.9"/>
<line x1="375.5" y1="292.20" x2="379" y2="292.20" stroke="#111" stroke-width="0.9"/>
<line x1="376.4" y1="288.88" x2="379" y2="288.88" stroke="#111" stroke-width="0.9"/>
<line x1="376.4" y1="285.56" x2="379" y2="285.56" stroke="#111" stroke-width="0.9"/>
<line x1="376.4" y1="282.24" x2="379" y2="282.24" stroke="#111" stroke-width="0.9"/>
<line x1="376.4" y1="278.92" x2="379" y2="278.92" stroke="#111" stroke-width="0.9"/>
<line x1="375.5" y1="275.60" x2="379" y2="275.60" stroke="#111" stroke-width="0.9"/>
<line x1="376.4" y1="272.28" x2="379" y2="272.28" stroke="#111" stroke-width="0.9"/>
<line x1="376.4" y1="268.96" x2="379" y2="268.96" stroke="#111" stroke-width="0.9"/>
<line x1="376.4" y1="265.64" x2="379" y2="265.64" stroke="#111" stroke-width="0.9"/>
<line x1="376.4" y1="262.32" x2="379" y2="262.32" stroke="#111" stroke-width="0.9"/>
<line x1="375.5" y1="259.00" x2="379" y2="259.00" stroke="#111" stroke-width="0.9"/>
<line x1="376.4" y1="255.68" x2="379" y2="255.68" stroke="#111" stroke-width="0.9"/>
<line x1="376.4" y1="252.36" x2="379" y2="252.36" stroke="#111" stroke-width="0.9"/>
<text transform="translate(371.4,361.6) rotate(-90) scale(1,1.35)" font-size="5.6" fill="#555">0</text>
<text transform="translate(371.4,345.0) rotate(-90) scale(1,1.35)" font-size="5.6" fill="#555">10</text>
<text transform="translate(371.4,328.4) rotate(-90) scale(1,1.35)" font-size="5.6" fill="#555">20</text>
<text transform="translate(371.4,311.8) rotate(-90) scale(1,1.35)" font-size="5.6" fill="#555">30</text>
<text transform="translate(371.4,295.2) rotate(-90) scale(1,1.35)" font-size="5.6" fill="#555">40</text>
<text transform="translate(371.4,278.6) rotate(-90) scale(1,1.35)" font-size="5.6" fill="#555">50</text>
<text transform="translate(371.4,262.0) rotate(-90) scale(1,1.35)" font-size="5.6" fill="#555">60</text>
<text transform="translate(364.6,314.5) rotate(-90)" font-size="5.6" fill="#555">Counts</text>
<line x1="379.00" y1="358.6" x2="379.00" y2="361.6" stroke="#222" stroke-width="0.9"/>
<line x1="389.33" y1="358.6" x2="389.33" y2="360.6" stroke="#222" stroke-width="0.9"/>
<line x1="395.37" y1="358.6" x2="395.37" y2="360.6" stroke="#222" stroke-width="0.9"/>
<line x1="399.65" y1="358.6" x2="399.65" y2="360.6" stroke="#222" stroke-width="0.9"/>
<line x1="402.97" y1="358.6" x2="402.97" y2="360.6" stroke="#222" stroke-width="0.9"/>
<line x1="405.69" y1="358.6" x2="405.69" y2="360.6" stroke="#222" stroke-width="0.9"/>
<line x1="407.99" y1="358.6" x2="407.99" y2="360.6" stroke="#222" stroke-width="0.9"/>
<line x1="409.98" y1="358.6" x2="409.98" y2="360.6" stroke="#222" stroke-width="0.9"/>
<line x1="411.73" y1="358.6" x2="411.73" y2="360.6" stroke="#222" stroke-width="0.9"/>
<line x1="413.30" y1="358.6" x2="413.30" y2="361.6" stroke="#222" stroke-width="0.9"/>
<line x1="423.63" y1="358.6" x2="423.63" y2="360.6" stroke="#222" stroke-width="0.9"/>
<line x1="429.67" y1="358.6" x2="429.67" y2="360.6" stroke="#222" stroke-width="0.9"/>
<line x1="433.95" y1="358.6" x2="433.95" y2="360.6" stroke="#222" stroke-width="0.9"/>
<line x1="437.27" y1="358.6" x2="437.27" y2="360.6" stroke="#222" stroke-width="0.9"/>
<line x1="439.99" y1="358.6" x2="439.99" y2="360.6" stroke="#222" stroke-width="0.9"/>
<line x1="442.29" y1="358.6" x2="442.29" y2="360.6" stroke="#999" stroke-width="0.9"/>
<line x1="444.28" y1="358.6" x2="444.28" y2="360.6" stroke="#999" stroke-width="0.9"/>
<line x1="446.03" y1="358.6" x2="446.03" y2="360.6" stroke="#999" stroke-width="0.9"/>
<line x1="447.60" y1="358.6" x2="447.60" y2="361.6" stroke="#999" stroke-width="0.9"/>
<line x1="457.93" y1="358.6" x2="457.93" y2="360.6" stroke="#999" stroke-width="0.9"/>
<line x1="463.97" y1="358.6" x2="463.97" y2="360.6" stroke="#999" stroke-width="0.9"/>
<line x1="468.25" y1="358.6" x2="468.25" y2="360.6" stroke="#999" stroke-width="0.9"/>
<line x1="471.57" y1="358.6" x2="471.57" y2="360.6" stroke="#999" stroke-width="0.9"/>
<line x1="474.29" y1="358.6" x2="474.29" y2="360.6" stroke="#999" stroke-width="0.9"/>
<line x1="476.59" y1="358.6" x2="476.59" y2="360.6" stroke="#999" stroke-width="0.9"/>
<line x1="478.58" y1="358.6" x2="478.58" y2="360.6" stroke="#999" stroke-width="0.9"/>
<line x1="480.33" y1="358.6" x2="480.33" y2="360.6" stroke="#999" stroke-width="0.9"/>
<line x1="481.90" y1="358.6" x2="481.90" y2="361.6" stroke="#999" stroke-width="0.9"/>
<line x1="492.23" y1="358.6" x2="492.23" y2="360.6" stroke="#999" stroke-width="0.9"/>
<line x1="498.27" y1="358.6" x2="498.27" y2="360.6" stroke="#999" stroke-width="0.9"/>
<line x1="502.55" y1="358.6" x2="502.55" y2="360.6" stroke="#999" stroke-width="0.9"/>
<line x1="505.87" y1="358.6" x2="505.87" y2="360.6" stroke="#999" stroke-width="0.9"/>
<line x1="508.59" y1="358.6" x2="508.59" y2="360.6" stroke="#999" stroke-width="0.9"/>
<line x1="510.89" y1="358.6" x2="510.89" y2="360.6" stroke="#999" stroke-width="0.9"/>
<line x1="512.88" y1="358.6" x2="512.88" y2="360.6" stroke="#999" stroke-width="0.9"/>
<line x1="514.63" y1="358.6" x2="514.63" y2="360.6" stroke="#999" stroke-width="0.9"/>
<text x="376.4" y="366.8" font-size="5.8" text-anchor="middle" fill="#444">10</text>
<text x="382.6" y="364.4" font-size="4.6" text-anchor="middle" fill="#444">0</text>
<text x="410.7" y="366.8" font-size="5.8" text-anchor="middle" fill="#444">10</text>
<text x="416.9" y="364.4" font-size="4.6" text-anchor="middle" fill="#444">1</text>
<text x="445.0" y="366.8" font-size="5.8" text-anchor="middle" fill="#444">10</text>
<text x="451.2" y="364.4" font-size="4.6" text-anchor="middle" fill="#444">2</text>
<text x="479.3" y="366.8" font-size="5.8" text-anchor="middle" fill="#444">10</text>
<text x="485.5" y="364.4" font-size="4.6" text-anchor="middle" fill="#444">3</text>
<text x="513.6" y="366.8" font-size="5.8" text-anchor="middle" fill="#444">10</text>
<text x="519.8" y="364.4" font-size="4.6" text-anchor="middle" fill="#444">4</text>
<text x="444.7" y="371.7" font-size="5.2" font-weight="bold" text-anchor="middle" fill="#333">FL1-H</text>
<path d="M379,358.6 L379.0,344.5 L379.7,343.2 L380.4,345.0 L381.1,346.2 L381.8,348.3 L382.5,347.0 L383.2,345.3 L383.9,341.8 L384.6,341.5 L385.3,341.5 L386.0,339.2 L386.7,336.5 L387.4,337.3 L388.1,342.1 L388.8,337.6 L389.5,332.2 L390.2,333.9 L390.9,331.4 L391.6,331.9 L392.3,331.7 L393.0,330.8 L393.7,329.8 L394.4,325.1 L395.1,321.1 L395.8,323.5 L396.5,324.8 L397.2,320.5 L397.9,323.6 L398.6,318.4 L399.3,315.4 L400.0,308.7 L400.7,309.2 L401.4,307.2 L402.1,304.9 L402.8,303.5 L403.5,304.7 L404.2,303.1 L404.9,301.4 L405.6,303.1 L406.3,298.8 L407.0,300.7 L407.7,296.9 L408.4,288.7 L409.1,292.8 L409.8,290.0 L410.5,292.4 L411.2,292.8 L411.9,290.0 L412.6,295.8 L413.3,298.4 L414.0,303.3 L414.7,302.1 L415.4,308.6 L416.1,308.7 L416.8,314.2 L417.5,316.4 L418.2,323.6 L418.9,324.7 L419.6,331.0 L420.3,330.4 L421.0,333.6 L421.7,336.7 L422.4,337.1 L423.1,341.1 L423.8,345.7 L424.5,344.2 L425.2,347.2 L425.9,348.7 L426.6,351.2 L427.3,350.5 L428.0,352.0 L428.7,354.0 L429.4,354.7 L430.1,353.6 L430.8,357.8 L431.5,354.4 L432.2,355.3 L432.9,355.6 L433.6,358.6 L434.3,357.9 L434.5,358.6 Z" fill="#000"/>
<path d="M379.5,356.5 L380.3,355.5 L381.1,357.1 L381.9,354.7 L382.7,354.2 L383.5,356.8 L384.3,353.9 L385.1,355.0 L385.9,355.1 L386.7,354.2 L387.5,354.4 L388.3,356.2 L389.1,353.1 L389.9,351.7 L390.7,350.4 L391.5,352.4 L392.3,351.8 L393.1,352.3 L393.9,350.9 L394.7,350.4 L395.5,349.3 L396.3,348.7 L397.1,348.8 L397.9,347.0 L398.7,347.0 L399.5,348.9 L400.3,345.9 L401.1,341.8 L401.9,343.9 L402.7,339.0 L403.5,334.3 L404.3,335.2 L405.1,332.3 L405.9,329.8 L406.7,328.0 L407.5,325.3 L408.3,324.7 L409.1,325.3 L409.9,322.4 L410.7,322.6 L411.5,324.1 L412.3,318.9 L413.1,320.5 L413.9,319.0 L414.7,317.1 L415.5,316.4 L416.3,317.1 L417.1,316.7 L417.9,314.1 L418.7,313.2 L419.5,310.9 L420.3,313.9 L421.1,319.7 L421.9,322.6 L422.7,323.7 L423.5,326.6 L424.3,325.8 L425.1,326.5 L425.9,328.8 L426.7,327.9 L427.5,327.1 L428.3,325.2 L429.1,321.0 L429.9,325.3 L430.7,325.9 L431.5,325.5 L432.3,331.8 L433.1,331.6 L433.9,329.7 L434.7,336.1 L435.5,336.7 L436.3,336.7 L437.1,341.5 L437.9,343.8 L438.7,349.5 L439.5,347.8 L440.3,350.2 L441.1,351.7 L441.9,352.3 L442.7,352.3 L443.5,354.8 L444.3,356.8 L445.1,355.6 L445.9,356.0 L446.7,356.4 L447.5,356.8 L448.3,357.1 L449.1,357.3 L449.9,357.6 L450.7,357.8 L451.5,358.1 L452.3,358.1 L453.1,358.1 L453.9,358.1 L454.7,358.1 L455.5,358.1 L456.3,358.1 L457.1,358.1 L457.9,358.1 L458.7,358.1 L459.5,358.1 L460.3,358.1 L461.1,358.1 L461.9,358.1 L462.7,358.1 L463.5,358.1 L464.3,358.1 L465.1,358.1 L465.9,358.1 L466.7,358.1 L467.5,358.1 L468.3,358.1 L469.1,358.1 L469.9,358.1 L470.7,358.1 L471.5,358.1 L472.3,358.1 L473.1,358.1 L473.9,358.1 L474.7,358.1 L475.5,358.1 L476.3,358.1 L477.1,358.1 L477.9,358.1 L478.7,358.1 L479.5,358.1 L480.3,358.1 L481.1,358.1 L481.9,358.1 L482.7,358.1 L483.5,358.1 L484.3,358.1 L485.1,358.1 L485.9,358.1 L486.7,358.1 L487.5,358.1 L488.3,358.1 L489.1,358.1 L489.9,358.1 L490.7,358.1 L491.5,358.1 L492.3,358.1 L493.1,358.1 L493.9,358.1 L494.7,358.1 L495.5,358.1 L496.3,358.1 L497.1,358.1 L497.9,358.1 L498.7,358.1 L499.5,358.1 L500.3,358.1 L501.1,358.1 L501.9,358.1 L502.7,358.1 L503.5,358.1 L504.3,358.1 L505.1,358.1 L505.9,358.1 L506.7,358.1 L507.5,358.1 L508.3,358.1 L509.1,358.1 L509.9,358.1 L510.7,358.1 L511.5,358.1 L512.3,358.1 L513.1,358.1 L513.9,358.1 L514.7,358.1 L515.5,358.1" fill="none" stroke="#7a7a7a" stroke-width="1.4" stroke-linejoin="round"/>
<rect x="436.0" y="356.5" width="3.0" height="2.1" fill="#111"/>
<rect x="446.5" y="356.9" width="1.6" height="1.7" fill="#111"/>
<rect x="449.0" y="357.0" width="1.8" height="1.6" fill="#111"/>
<rect x="466.5" y="356.7" width="2.8" height="1.9" fill="#111"/>
<rect x="474.0" y="357.1" width="1.8" height="1.5" fill="#111"/>
<rect x="476.0" y="357.0" width="2.2" height="1.6" fill="#111"/>
<rect x="484.0" y="356.6" width="2.7" height="2.0" fill="#111"/>
<rect x="486.5" y="357.0" width="2.1" height="1.6" fill="#111"/>
<rect x="489.0" y="357.0" width="1.6" height="1.6" fill="#111"/>
<rect x="506.0" y="356.9" width="3.1" height="1.7" fill="#111"/>
</svg></body></html>
